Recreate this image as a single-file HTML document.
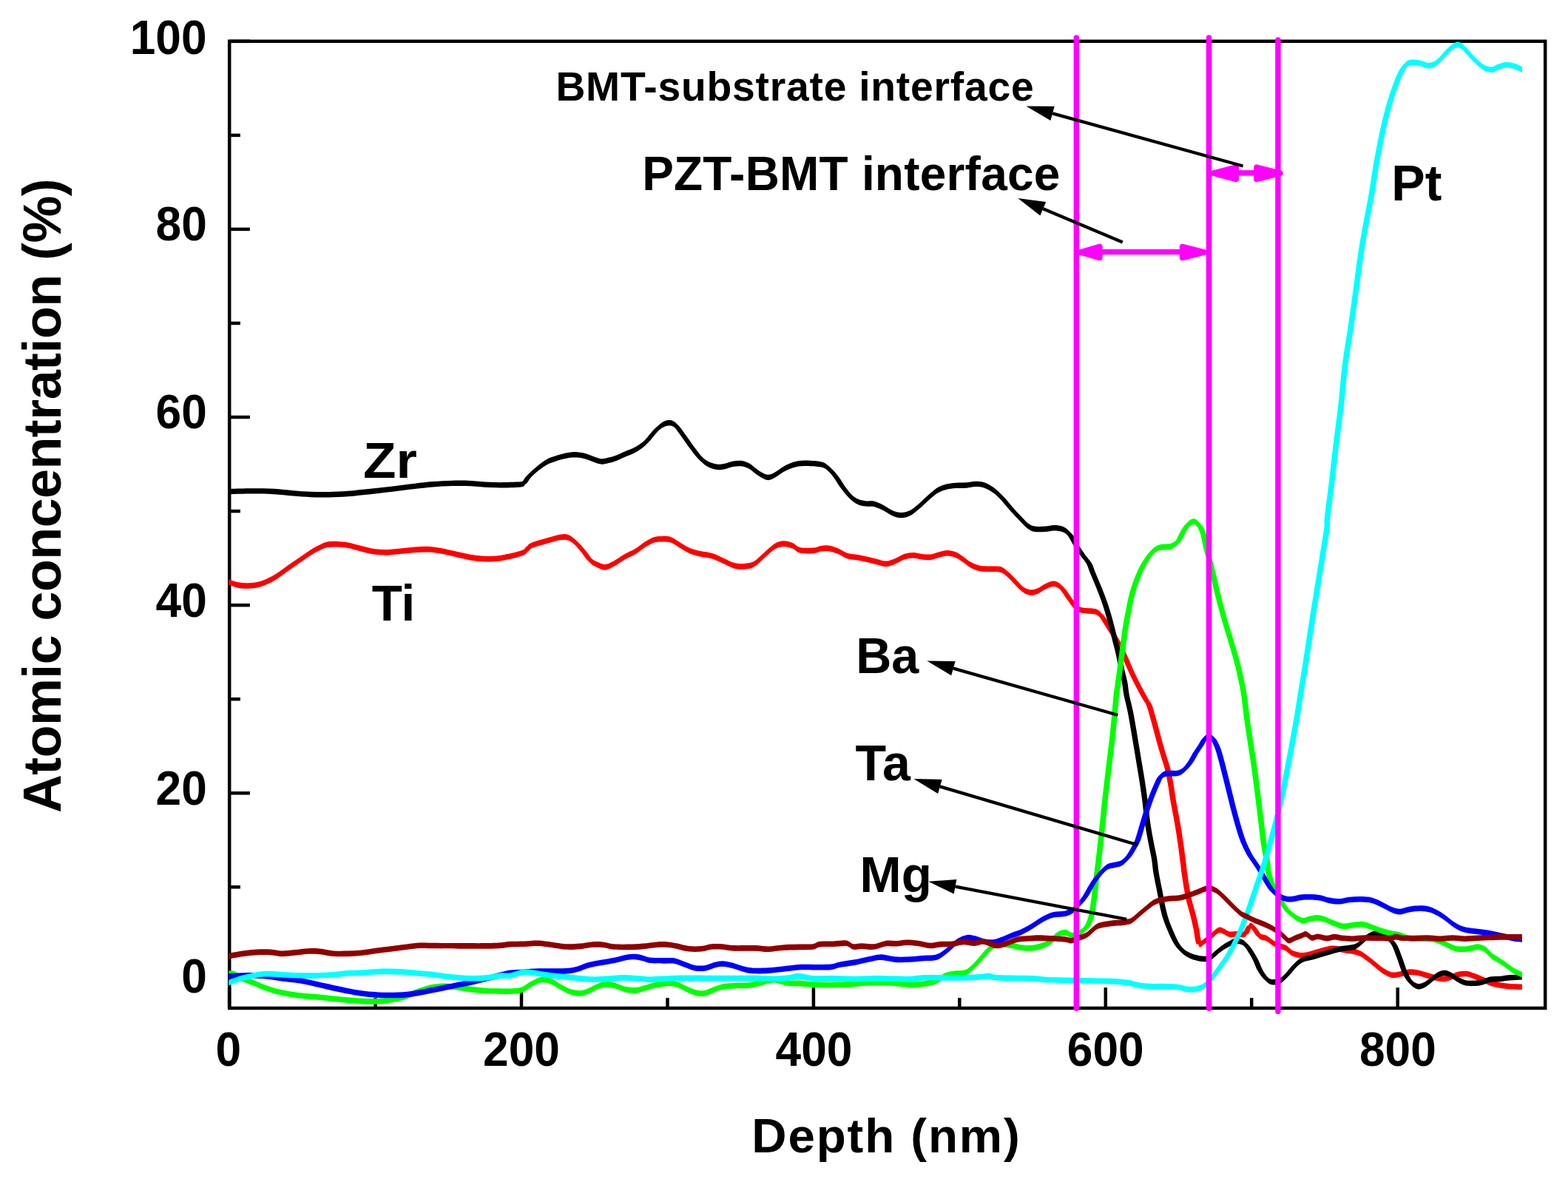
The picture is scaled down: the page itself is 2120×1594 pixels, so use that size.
<!DOCTYPE html>
<html lang="en"><head><meta charset="utf-8"><title>Atomic concentration depth profile</title>
<style>html,body{margin:0;padding:0;background:#fff}body{width:2120px;height:1594px;overflow:hidden}svg{display:block}text{font-family:"Liberation Sans",Arial,Helvetica,sans-serif;font-weight:bold;fill:#000}</style></head><body>
<svg width="2120" height="1594" viewBox="0 0 2120 1594">
<rect width="2120" height="1594" fill="#fff"/>
<g stroke="#000" stroke-width="4.5" fill="none">
<line x1="310.2" y1="1199.3" x2="324.9" y2="1199.3"/>
<line x1="310.2" y1="1072.3" x2="337.9" y2="1072.3"/>
<line x1="310.2" y1="945.2" x2="324.9" y2="945.2"/>
<line x1="310.2" y1="818.2" x2="337.9" y2="818.2"/>
<line x1="310.2" y1="691.1" x2="324.9" y2="691.1"/>
<line x1="310.2" y1="564.0" x2="337.9" y2="564.0"/>
<line x1="310.2" y1="437.0" x2="324.9" y2="437.0"/>
<line x1="310.2" y1="309.9" x2="337.9" y2="309.9"/>
<line x1="310.2" y1="182.9" x2="324.9" y2="182.9"/>
<line x1="310.2" y1="55.8" x2="337.9" y2="55.8"/>
<line x1="310.1" y1="1363.0" x2="310.1" y2="1335.2"/>
<line x1="507.6" y1="1363.0" x2="507.6" y2="1349.2"/>
<line x1="705.0" y1="1363.0" x2="705.0" y2="1335.2"/>
<line x1="902.5" y1="1363.0" x2="902.5" y2="1349.2"/>
<line x1="1099.9" y1="1363.0" x2="1099.9" y2="1335.2"/>
<line x1="1297.3" y1="1363.0" x2="1297.3" y2="1349.2"/>
<line x1="1494.8" y1="1363.0" x2="1494.8" y2="1335.2"/>
<line x1="1692.2" y1="1363.0" x2="1692.2" y2="1349.2"/>
<line x1="1889.7" y1="1363.0" x2="1889.7" y2="1335.2"/>
</g>
<rect x="310.2" y="55.8" width="1779.0" height="1307.2" fill="none" stroke="#000" stroke-width="4.5"/>
<clipPath id="plotclip"><rect x="309.2" y="55.8" width="1748.7" height="1307.2"/></clipPath>
<g clip-path="url(#plotclip)" stroke="none">
<g fill="#ff0000"><path d="M302.4,781.1C303.7,781.5 307.1,782.6 310,783.5C313,784.5 316.4,786 320.1,786.8C323.8,787.5 327.8,788.1 332.1,788.2C336.5,788.2 341.5,788.1 346.2,787.2C350.9,786.3 355.5,784.7 360.2,782.7C364.9,780.7 369.6,778.1 374.3,775.1C379,772.2 383.3,768.6 388.3,765.1C393.4,761.6 399,757.7 404.4,754C409.8,750.3 415.8,745.9 420.5,743C425.1,740 428.8,738.1 432.5,736.4C436.2,734.6 438.5,733.3 442.5,732.5C446.6,731.8 451.9,731.8 456.6,731.9C461.3,732.1 465.6,732.4 470.7,733.4C475.7,734.3 481.4,736.2 486.7,737.6C492.1,738.9 497.1,740.5 502.8,741.4C508.5,742.3 514.5,743 520.8,743C527.2,743 534.2,742 540.9,741.4C547.6,740.8 554.3,739.8 561,739.4C567.7,739 574.4,738.5 581.1,739C587.8,739.4 594.5,740.7 601.1,742C607.8,743.3 614.5,745.2 621.2,746.6C627.9,748 634.6,749.7 641.3,750.6C648,751.5 654.7,752.1 661.4,752C668.1,751.9 673.7,751.5 681.5,750C689.2,748.5 702.3,745.5 708,743C713.8,740.5 712.4,737.1 716.1,735C719.7,732.8 725.4,731.4 730.1,729.9C734.8,728.4 739.5,727.2 744.2,725.9C748.9,724.7 754.2,723 758.2,722.5C762.2,722 764.9,721.7 768.3,722.9C771.6,724.1 775,726.9 778.3,729.9C781.6,732.9 785,737 788.3,741C791.7,745 795,750.9 798.4,754C801.7,757.2 805.1,758.5 808.4,760.1C811.8,761.6 814.8,763.4 818.5,763.1C822.1,762.7 826.1,760.4 830.5,758C834.8,755.7 839.9,751.7 844.6,749C849.2,746.3 853.9,744.8 858.6,742C863.3,739.1 868.3,734.6 872.7,731.9C877,729.3 881,727.1 884.7,725.9C888.4,724.8 891.1,724.9 894.7,724.9C898.4,724.9 902.8,724.6 906.8,725.9C910.8,727.3 914.5,730.4 918.8,732.9C923.2,735.5 928.2,739 932.9,741C937.6,743 941.9,743.8 946.9,745C952,746.2 957.6,746.3 963,748C968.4,749.7 974,752.9 979.1,755C984.1,757.2 988.8,759.9 993.1,761.1C997.5,762.2 1000.8,762.4 1005.2,762.1C1009.5,761.7 1014.5,761.6 1019.2,759C1023.9,756.5 1028.6,751 1033.3,747C1038,743 1043,737.6 1047.3,735C1051.7,732.3 1055.4,731.5 1059.4,731.3C1063.4,731.2 1067.7,732.5 1071.4,734C1075.1,735.4 1076.7,738.9 1081.5,740C1086.2,741.1 1095.2,740.9 1100,740.6C1104.8,740.2 1106.7,738.5 1110,738C1113.4,737.5 1116.4,737.1 1120.1,737.6C1123.8,738.1 1127.8,739.2 1132.1,741C1136.5,742.7 1141.5,746.5 1146.2,748C1150.9,749.5 1155.5,749.2 1160.2,750C1164.9,750.9 1169.9,752 1174.3,753C1178.6,754 1182.3,755.1 1186.3,756C1190.3,757 1194.4,758.8 1198.4,758.6C1202.4,758.5 1206.4,756.6 1210.4,755C1214.4,753.4 1218.5,750.3 1222.5,749C1226.5,747.7 1230.5,747 1234.5,747C1238.5,747 1242.5,748.6 1246.6,749C1250.6,749.4 1254.6,749.9 1258.6,749.4C1262.6,748.9 1267,746.9 1270.7,746C1274.3,745.1 1277,743.9 1280.7,744C1284.4,744.1 1289.1,745.1 1292.7,746.6C1296.4,748.1 1299.4,750.8 1302.8,753C1306.1,755.3 1309.1,758.1 1312.8,760.1C1316.5,762 1320.5,763.8 1324.9,764.7C1329.2,765.6 1334.2,765.2 1338.9,765.5C1343.6,765.7 1348.9,764.8 1353,766.1C1357,767.3 1359.7,770.3 1363,773.1C1366.3,775.9 1369.7,779.8 1373,783.1C1376.4,786.5 1379.7,790.8 1383.1,793.2C1386.4,795.5 1389.8,796.9 1393.1,797.2C1396.5,797.5 1399.8,796.5 1403.2,795.2C1406.5,793.8 1409.5,790.8 1413.2,789.2C1416.9,787.6 1421.6,785.2 1425.2,785.5C1428.9,785.9 1431.7,787.6 1435.3,791.2C1438.9,794.7 1443.5,802.5 1446.8,807C1450.1,811.4 1452.5,815.6 1455.3,818C1458.1,820.4 1460.7,820.7 1463.8,821.4C1466.9,822.1 1470.8,821.9 1474,822.2C1477.1,822.6 1479.9,822.5 1482.5,823.6C1485,824.7 1487,826.4 1489.2,829C1491.5,831.6 1493.5,835.3 1496,839.2C1498.6,843.2 1502,848.6 1504.5,852.8C1507.1,857 1508.8,859.9 1511.3,864.7C1513.9,869.5 1517.5,876.9 1519.8,881.7C1522.1,886.5 1522.9,889 1524.9,893.6C1526.9,898.1 1529.2,903.5 1531.7,908.8C1534.2,914.2 1537.4,920.4 1540.2,925.8C1543,931.2 1546.4,937.1 1548.7,941.1C1550.9,945.1 1552.1,945.5 1553.8,949.8C1555.5,954.1 1557.2,960.8 1558.9,966.8C1560.6,972.7 1562.3,979.2 1564,985.4C1565.7,991.7 1567.4,998.2 1569.1,1004.1C1570.8,1010.1 1572.6,1016 1574.2,1021.1C1575.7,1026.2 1577,1029 1578.4,1034.7C1579.8,1040.4 1581.4,1048 1582.6,1055.1C1583.9,1062.1 1584.9,1070.4 1586,1077.1C1587.2,1083.9 1588.3,1089.6 1589.4,1095.8C1590.6,1102 1591.7,1107.7 1592.8,1114.5C1594,1121.3 1595.1,1128.7 1596.2,1136.6C1597.4,1144.5 1598.8,1155.4 1599.6,1162C1600.5,1168.7 1600.5,1170.2 1601.3,1176.2C1602.2,1182.2 1603.6,1191.8 1604.7,1198.3C1605.8,1204.8 1606.7,1209.3 1608.1,1215.3C1609.5,1221.2 1611.7,1227.7 1613.2,1233.9C1614.8,1240.2 1616.3,1247 1617.5,1252.6C1618.6,1258.3 1619.2,1264.5 1620,1267.9C1620.8,1271.3 1621.1,1272.9 1622.5,1273C1624,1273.1 1626.4,1270.2 1628.5,1268.7C1630.6,1267.3 1633,1266.3 1635.3,1264.5C1637.5,1262.7 1639.8,1259.5 1642.1,1257.7C1644.3,1255.9 1646.6,1253.7 1648.9,1253.5C1651.1,1253.2 1653.4,1255 1655.7,1256C1657.9,1257 1659.6,1258.9 1662.5,1259.4C1665.3,1259.9 1669.2,1258.9 1672.6,1258.9C1676,1258.9 1680.3,1260.7 1682.8,1259.4C1685.4,1258.1 1686.5,1252.9 1687.9,1250.9C1689.3,1248.9 1689.9,1247.2 1691.3,1247.5C1692.7,1247.8 1694.4,1250.2 1696.4,1252.6C1698.4,1255 1700.7,1260 1703.2,1262C1705.8,1263.9 1708.9,1263.1 1711.7,1264.5C1714.5,1265.9 1717.4,1268.7 1720.2,1270.4C1723,1272.1 1725.6,1273.4 1728.7,1274.7C1731.8,1276 1735.8,1276.4 1738.9,1278.1C1742,1279.8 1743.8,1283.2 1747.4,1284.9C1750.9,1286.5 1756.2,1287.7 1760,1287.9C1763.8,1288.2 1766.8,1287.3 1770.2,1286.6C1773.6,1285.8 1777,1284.5 1780.4,1283.5C1783.8,1282.5 1787.2,1281.5 1790.6,1280.6C1794,1279.8 1797.4,1278.8 1800.8,1278.6C1804.2,1278.4 1807.5,1279 1810.9,1279.4C1814.3,1279.9 1817.7,1280.9 1821.1,1281.5C1824.5,1282 1828.2,1282.1 1831.3,1282.8C1834.4,1283.5 1837.5,1284.7 1839.8,1285.7C1842.1,1286.8 1842.4,1287.3 1844.9,1289.1C1847.5,1291 1851.7,1294.1 1855.1,1296.8C1858.5,1299.5 1861.9,1302.7 1865.3,1305.3C1868.7,1307.8 1872.4,1310.5 1875.5,1312C1878.6,1313.6 1880.8,1314.5 1884,1314.6C1887.1,1314.7 1890.8,1313.6 1894.2,1312.9C1897.5,1312.2 1900.7,1310.6 1904.3,1310.4C1908,1310.1 1912.3,1310.5 1916.2,1311.2C1920.2,1311.9 1924.2,1313.5 1928.1,1314.6C1932.1,1315.7 1936,1317.1 1940,1318C1944,1318.8 1948.2,1319.8 1951.9,1319.7C1955.6,1319.5 1958.7,1318.2 1962.1,1317.1C1965.5,1316.1 1968.6,1314.1 1972.3,1313.4C1975.9,1312.7 1980.5,1312.4 1984.2,1312.9C1987.8,1313.4 1990.9,1315 1994.3,1316.3C1997.7,1317.6 2000.8,1319 2004.5,1320.5C2008.2,1322.1 2012.5,1324.4 2016.4,1325.6C2020.4,1326.9 2024.1,1327.5 2028.3,1328.2C2032.5,1328.9 2037.1,1329.5 2041.9,1329.9C2046.7,1330.2 2053.3,1330.3 2057.2,1330.4C2061,1330.5 2063.8,1330.6 2065.2,1330.7L2065.2,1338.3C2063.8,1338.2 2061,1338.1 2057.2,1338C2053.3,1337.9 2046.7,1337.8 2041.9,1337.5C2037.1,1337.1 2032.5,1336.5 2028.3,1335.8C2024.1,1335.1 2020.4,1334.5 2016.4,1333.2C2012.5,1332 2008.2,1329.7 2004.5,1328.1C2000.8,1326.6 1997.7,1325.2 1994.3,1323.9C1990.9,1322.6 1987.8,1321 1984.2,1320.5C1980.5,1320 1975.9,1320.3 1972.3,1321C1968.6,1321.7 1965.5,1323.7 1962.1,1324.7C1958.7,1325.8 1955.6,1327.1 1951.9,1327.3C1948.2,1327.4 1944,1326.4 1940,1325.6C1936,1324.7 1932.1,1323.3 1928.1,1322.2C1924.2,1321.1 1920.2,1319.5 1916.2,1318.8C1912.3,1318.1 1908,1317.7 1904.3,1318C1900.7,1318.2 1897.5,1319.8 1894.2,1320.5C1890.8,1321.2 1887.1,1322.3 1884,1322.2C1880.8,1322.1 1878.6,1321.2 1875.5,1319.6C1872.4,1318.1 1868.7,1315.4 1865.3,1312.9C1861.9,1310.3 1858.5,1307.1 1855.1,1304.4C1851.7,1301.7 1847.5,1298.6 1844.9,1296.7C1842.4,1294.9 1842.1,1294.4 1839.8,1293.3C1837.5,1292.3 1834.4,1291.1 1831.3,1290.4C1828.2,1289.7 1824.5,1289.6 1821.1,1289.1C1817.7,1288.5 1814.3,1287.5 1810.9,1287C1807.5,1286.6 1804.2,1286 1800.8,1286.2C1797.4,1286.4 1794,1287.4 1790.6,1288.2C1787.2,1289.1 1783.8,1290.1 1780.4,1291.1C1777,1292.1 1773.6,1293.4 1770.2,1294.2C1766.8,1294.9 1763.8,1295.8 1760,1295.5C1756.2,1295.3 1750.9,1294.1 1747.4,1292.5C1743.8,1290.8 1742,1287.4 1738.9,1285.7C1735.8,1284 1731.8,1283.6 1728.7,1282.3C1725.6,1281 1723,1279.7 1720.2,1278C1717.4,1276.3 1714.5,1273.5 1711.7,1272.1C1708.9,1270.7 1705.8,1271.5 1703.2,1269.6C1700.7,1267.6 1698.4,1262.6 1696.4,1260.2C1694.4,1257.8 1692.7,1255.4 1691.3,1255.1C1689.9,1254.8 1689.3,1256.5 1687.9,1258.5C1686.5,1260.5 1685.4,1265.7 1682.8,1267C1680.3,1268.3 1676,1266.5 1672.6,1266.5C1669.2,1266.5 1665.3,1267.5 1662.5,1267C1659.6,1266.5 1657.9,1264.6 1655.7,1263.6C1653.4,1262.6 1651.1,1260.8 1648.9,1261.1C1646.6,1261.3 1644.3,1263.5 1642.1,1265.3C1639.8,1267.1 1637.5,1270.3 1635.3,1272.1C1633,1273.9 1630.6,1274.9 1628.5,1276.3C1626.4,1277.8 1624,1280.7 1622.5,1280.6C1621.1,1280.5 1620.8,1278.9 1620,1275.5C1619.2,1272.1 1618.6,1265.9 1617.5,1260.2C1616.3,1254.6 1614.8,1247.8 1613.2,1241.5C1611.7,1235.3 1609.5,1228.8 1608.1,1222.9C1606.7,1216.9 1605.8,1212.4 1604.7,1205.9C1603.6,1199.4 1602.2,1189.8 1601.3,1183.8C1600.5,1177.8 1600.5,1176.3 1599.6,1169.6C1598.8,1163 1597.4,1152.1 1596.2,1144.2C1595.1,1136.3 1594,1128.9 1592.8,1122.1C1591.7,1115.3 1590.6,1109.6 1589.4,1103.4C1588.3,1097.2 1587.2,1091.5 1586,1084.7C1584.9,1078 1583.9,1069.7 1582.6,1062.7C1581.4,1055.6 1579.8,1048 1578.4,1042.3C1577,1036.6 1575.7,1033.8 1574.2,1028.7C1572.6,1023.6 1570.8,1017.7 1569.1,1011.7C1567.4,1005.8 1565.7,999.3 1564,993C1562.3,986.8 1560.6,980.3 1558.9,974.4C1557.2,968.4 1555.5,961.7 1553.8,957.4C1552.1,953.1 1550.9,952.7 1548.7,948.7C1546.4,944.7 1543,938.8 1540.2,933.4C1537.4,928 1534.2,921.8 1531.7,916.4C1529.2,911.1 1526.9,905.7 1524.9,901.2C1522.9,896.6 1522.1,894.1 1519.8,889.3C1517.5,884.5 1513.9,877.1 1511.3,872.3C1508.8,867.5 1507.1,864.6 1504.5,860.4C1502,856.2 1498.6,850.8 1496,846.8C1493.5,842.9 1491.5,839.2 1489.2,836.6C1487,834 1485,832.3 1482.5,831.2C1479.9,830.1 1477.1,830.2 1474,829.8C1470.8,829.5 1466.9,829.7 1463.8,829C1460.7,828.3 1458.1,828 1455.3,825.6C1452.5,823.2 1450.1,819 1446.8,814.6C1443.5,810.1 1438.9,802.3 1435.3,798.8C1431.7,795.2 1428.9,793.5 1425.2,793.1C1421.6,792.8 1416.9,795.2 1413.2,796.8C1409.5,798.4 1406.5,801.4 1403.2,802.8C1399.8,804.1 1396.5,805.1 1393.1,804.8C1389.8,804.5 1386.4,803.1 1383.1,800.8C1379.7,798.4 1376.4,794.1 1373,790.7C1369.7,787.4 1366.3,783.5 1363,780.7C1359.7,777.9 1357,774.9 1353,773.7C1348.9,772.4 1343.6,773.3 1338.9,773.1C1334.2,772.8 1329.2,773.2 1324.9,772.3C1320.5,771.4 1316.5,769.6 1312.8,767.7C1309.1,765.7 1306.1,762.9 1302.8,760.6C1299.4,758.4 1296.4,755.7 1292.7,754.2C1289.1,752.7 1284.4,751.7 1280.7,751.6C1277,751.5 1274.3,752.7 1270.7,753.6C1267,754.5 1262.6,756.5 1258.6,757C1254.6,757.5 1250.6,757 1246.6,756.6C1242.5,756.2 1238.5,754.6 1234.5,754.6C1230.5,754.6 1226.5,755.3 1222.5,756.6C1218.5,757.9 1214.4,761 1210.4,762.6C1206.4,764.2 1202.4,766.1 1198.4,766.2C1194.4,766.4 1190.3,764.6 1186.3,763.6C1182.3,762.7 1178.6,761.6 1174.3,760.6C1169.9,759.6 1164.9,758.5 1160.2,757.6C1155.5,756.8 1150.9,757.1 1146.2,755.6C1141.5,754.1 1136.5,750.3 1132.1,748.6C1127.8,746.8 1123.8,745.7 1120.1,745.2C1116.4,744.7 1113.4,745.1 1110,745.6C1106.7,746.1 1104.8,747.8 1100,748.2C1095.2,748.5 1086.2,748.7 1081.5,747.6C1076.7,746.5 1075.1,743 1071.4,741.6C1067.7,740.1 1063.4,738.8 1059.4,738.9C1055.4,739.1 1051.7,739.9 1047.3,742.6C1043,745.2 1038,750.6 1033.3,754.6C1028.6,758.6 1023.9,764.1 1019.2,766.6C1014.5,769.2 1009.5,769.3 1005.2,769.7C1000.8,770 997.5,769.8 993.1,768.7C988.8,767.5 984.1,764.8 979.1,762.6C974,760.5 968.4,757.3 963,755.6C957.6,753.9 952,753.8 946.9,752.6C941.9,751.4 937.6,750.6 932.9,748.6C928.2,746.6 923.2,743.1 918.8,740.5C914.5,738 910.8,734.9 906.8,733.5C902.8,732.2 898.4,732.5 894.7,732.5C891.1,732.5 888.4,732.4 884.7,733.5C881,734.7 877,736.9 872.7,739.5C868.3,742.2 863.3,746.7 858.6,749.6C853.9,752.4 849.2,753.9 844.6,756.6C839.9,759.3 834.8,763.3 830.5,765.6C826.1,768 822.1,770.3 818.5,770.7C814.8,771 811.8,769.2 808.4,767.7C805.1,766.1 801.7,764.8 798.4,761.6C795,758.5 791.7,752.6 788.3,748.6C785,744.6 781.6,740.5 778.3,737.5C775,734.5 771.6,731.7 768.3,730.5C764.9,729.3 762.2,729.6 758.2,730.1C754.2,730.6 748.9,732.3 744.2,733.5C739.5,734.8 734.8,736 730.1,737.5C725.4,739 719.7,740.4 716.1,742.6C712.4,744.7 713.8,748.1 708,750.6C702.3,753.1 689.2,756.1 681.5,757.6C673.7,759.1 668.1,759.5 661.4,759.6C654.7,759.7 648,759.1 641.3,758.2C634.6,757.3 627.9,755.6 621.2,754.2C614.5,752.8 607.8,750.9 601.1,749.6C594.5,748.3 587.8,747 581.1,746.6C574.4,746.1 567.7,746.6 561,747C554.3,747.4 547.6,748.4 540.9,749C534.2,749.6 527.2,750.6 520.8,750.6C514.5,750.6 508.5,749.9 502.8,749C497.1,748.1 492.1,746.5 486.7,745.2C481.4,743.8 475.7,741.9 470.7,741C465.6,740 461.3,739.7 456.6,739.5C451.9,739.4 446.6,739.4 442.5,740.1C438.5,740.9 436.2,742.2 432.5,744C428.8,745.7 425.1,747.6 420.5,750.6C415.8,753.5 409.8,757.9 404.4,761.6C399,765.3 393.4,769.2 388.3,772.7C383.3,776.2 379,779.8 374.3,782.7C369.6,785.7 364.9,788.3 360.2,790.3C355.5,792.3 350.9,793.9 346.2,794.8C341.5,795.7 336.5,795.8 332.1,795.8C327.8,795.7 323.8,795.1 320.1,794.4C316.4,793.6 313,792.1 310,791.1C307.1,790.2 303.7,789.1 302.4,788.7Z"/><path d="M298.6,784.9C299.9,785.3 303.3,786.4 306.2,787.3C309.2,788.3 312.6,789.8 316.3,790.6C320,791.3 324,791.9 328.3,792C332.7,792 337.7,791.9 342.4,791C347.1,790.1 351.7,788.5 356.4,786.5C361.1,784.5 365.8,781.9 370.5,778.9C375.2,776 379.5,772.4 384.5,768.9C389.6,765.4 395.2,761.5 400.6,757.8C406,754.1 412,749.7 416.7,746.8C421.3,743.8 425,741.9 428.7,740.2C432.4,738.4 434.7,737.1 438.7,736.3C442.8,735.6 448.1,735.6 452.8,735.7C457.5,735.9 461.8,736.2 466.9,737.2C471.9,738.1 477.6,740 482.9,741.4C488.3,742.7 493.3,744.3 499,745.2C504.7,746.1 510.7,746.8 517,746.8C523.4,746.8 530.4,745.8 537.1,745.2C543.8,744.6 550.5,743.6 557.2,743.2C563.9,742.8 570.6,742.3 577.3,742.8C584,743.2 590.7,744.5 597.3,745.8C604,747.1 610.7,749 617.4,750.4C624.1,751.8 630.8,753.5 637.5,754.4C644.2,755.3 650.9,755.9 657.6,755.8C664.3,755.7 669.9,755.3 677.7,753.8C685.4,752.3 698.5,749.3 704.2,746.8C710,744.3 708.6,740.9 712.3,738.8C715.9,736.6 721.6,735.2 726.3,733.7C731,732.2 735.7,731 740.4,729.7C745.1,728.5 750.4,726.8 754.4,726.3C758.4,725.8 761.1,725.5 764.5,726.7C767.8,727.9 771.2,730.7 774.5,733.7C777.8,736.7 781.2,740.8 784.5,744.8C787.9,748.8 791.2,754.7 794.6,757.8C797.9,761 801.3,762.3 804.6,763.9C808,765.4 811,767.2 814.7,766.9C818.3,766.5 822.3,764.2 826.7,761.8C831,759.5 836.1,755.5 840.8,752.8C845.4,750.1 850.1,748.6 854.8,745.8C859.5,742.9 864.5,738.4 868.9,735.7C873.2,733.1 877.2,730.9 880.9,729.7C884.6,728.6 887.3,728.7 890.9,728.7C894.6,728.7 899,728.4 903,729.7C907,731.1 910.7,734.2 915,736.7C919.4,739.3 924.4,742.8 929.1,744.8C933.8,746.8 938.1,747.6 943.1,748.8C948.2,750 953.8,750.1 959.2,751.8C964.6,753.5 970.2,756.7 975.3,758.8C980.3,761 985,763.7 989.3,764.9C993.7,766 997,766.2 1001.4,765.9C1005.7,765.5 1010.7,765.4 1015.4,762.8C1020.1,760.3 1024.8,754.8 1029.5,750.8C1034.2,746.8 1039.2,741.4 1043.5,738.8C1047.9,736.1 1051.6,735.3 1055.6,735.1C1059.6,735 1063.9,736.3 1067.6,737.8C1071.3,739.2 1072.9,742.7 1077.7,743.8C1082.4,744.9 1091.4,744.7 1096.2,744.4C1101,744 1102.9,742.3 1106.2,741.8C1109.6,741.3 1112.6,740.9 1116.3,741.4C1120,741.9 1124,743 1128.3,744.8C1132.7,746.5 1137.7,750.3 1142.4,751.8C1147.1,753.3 1151.7,753 1156.4,753.8C1161.1,754.7 1166.1,755.8 1170.5,756.8C1174.8,757.8 1178.5,758.9 1182.5,759.8C1186.5,760.8 1190.6,762.6 1194.6,762.4C1198.6,762.3 1202.6,760.4 1206.6,758.8C1210.6,757.2 1214.7,754.1 1218.7,752.8C1222.7,751.5 1226.7,750.8 1230.7,750.8C1234.7,750.8 1238.7,752.4 1242.8,752.8C1246.8,753.2 1250.8,753.7 1254.8,753.2C1258.8,752.7 1263.2,750.7 1266.9,749.8C1270.5,748.9 1273.2,747.7 1276.9,747.8C1280.6,747.9 1285.3,748.9 1288.9,750.4C1292.6,751.9 1295.6,754.6 1299,756.8C1302.3,759.1 1305.3,761.9 1309,763.9C1312.7,765.8 1316.7,767.6 1321.1,768.5C1325.4,769.4 1330.4,769 1335.1,769.3C1339.8,769.5 1345.1,768.6 1349.2,769.9C1353.2,771.1 1355.9,774.1 1359.2,776.9C1362.5,779.7 1365.9,783.6 1369.2,786.9C1372.6,790.3 1375.9,794.6 1379.3,797C1382.6,799.3 1386,800.7 1389.3,801C1392.7,801.3 1396,800.3 1399.4,799C1402.7,797.6 1405.7,794.6 1409.4,793C1413.1,791.4 1417.8,789 1421.4,789.3C1425.1,789.7 1427.9,791.4 1431.5,795C1435.1,798.5 1439.7,806.3 1443,810.8C1446.3,815.2 1448.7,819.4 1451.5,821.8C1454.3,824.2 1456.9,824.5 1460,825.2C1463.1,825.9 1467,825.7 1470.2,826C1473.3,826.4 1476.1,826.3 1478.7,827.4C1481.2,828.5 1483.2,830.2 1485.4,832.8C1487.7,835.4 1489.7,839.1 1492.2,843C1494.8,847 1498.2,852.4 1500.7,856.6C1503.3,860.8 1505,863.7 1507.5,868.5C1510.1,873.3 1513.7,880.7 1516,885.5C1518.3,890.3 1519.1,892.8 1521.1,897.4C1523.1,901.9 1525.4,907.3 1527.9,912.6C1530.4,918 1533.6,924.2 1536.4,929.6C1539.2,935 1542.6,940.9 1544.9,944.9C1547.1,948.9 1548.3,949.3 1550,953.6C1551.7,957.9 1553.4,964.6 1555.1,970.6C1556.8,976.5 1558.5,983 1560.2,989.2C1561.9,995.5 1563.6,1002 1565.3,1007.9C1567,1013.9 1568.8,1019.8 1570.4,1024.9C1571.9,1030 1573.2,1032.8 1574.6,1038.5C1576,1044.2 1577.6,1051.8 1578.8,1058.9C1580.1,1065.9 1581.1,1074.2 1582.2,1080.9C1583.4,1087.7 1584.5,1093.4 1585.6,1099.6C1586.8,1105.8 1587.9,1111.5 1589,1118.3C1590.2,1125.1 1591.3,1132.5 1592.4,1140.4C1593.6,1148.3 1595,1159.2 1595.8,1165.8C1596.7,1172.5 1596.7,1174 1597.5,1180C1598.4,1186 1599.8,1195.6 1600.9,1202.1C1602,1208.6 1602.9,1213.1 1604.3,1219.1C1605.7,1225 1607.9,1231.5 1609.4,1237.7C1611,1244 1612.5,1250.8 1613.7,1256.4C1614.8,1262.1 1615.4,1268.3 1616.2,1271.7C1617,1275.1 1617.3,1276.7 1618.7,1276.8C1620.2,1276.9 1622.6,1274 1624.7,1272.5C1626.8,1271.1 1629.2,1270.1 1631.5,1268.3C1633.7,1266.5 1636,1263.3 1638.3,1261.5C1640.5,1259.7 1642.8,1257.5 1645.1,1257.3C1647.3,1257 1649.6,1258.8 1651.9,1259.8C1654.1,1260.8 1655.8,1262.7 1658.7,1263.2C1661.5,1263.7 1665.4,1262.7 1668.8,1262.7C1672.2,1262.7 1676.5,1264.5 1679,1263.2C1681.6,1261.9 1682.7,1256.7 1684.1,1254.7C1685.5,1252.7 1686.1,1251 1687.5,1251.3C1688.9,1251.6 1690.6,1254 1692.6,1256.4C1694.6,1258.8 1696.9,1263.8 1699.4,1265.8C1702,1267.7 1705.1,1266.9 1707.9,1268.3C1710.7,1269.7 1713.6,1272.5 1716.4,1274.2C1719.2,1275.9 1721.8,1277.2 1724.9,1278.5C1728,1279.8 1732,1280.2 1735.1,1281.9C1738.2,1283.6 1740,1287 1743.6,1288.7C1747.1,1290.3 1752.4,1291.5 1756.2,1291.7C1760,1292 1763,1291.1 1766.4,1290.4C1769.8,1289.6 1773.2,1288.3 1776.6,1287.3C1780,1286.3 1783.4,1285.3 1786.8,1284.4C1790.2,1283.6 1793.6,1282.6 1797,1282.4C1800.4,1282.2 1803.7,1282.8 1807.1,1283.2C1810.5,1283.7 1813.9,1284.7 1817.3,1285.3C1820.7,1285.8 1824.4,1285.9 1827.5,1286.6C1830.6,1287.3 1833.7,1288.5 1836,1289.5C1838.3,1290.6 1838.6,1291.1 1841.1,1292.9C1843.7,1294.8 1847.9,1297.9 1851.3,1300.6C1854.7,1303.3 1858.1,1306.5 1861.5,1309.1C1864.9,1311.6 1868.6,1314.3 1871.7,1315.8C1874.8,1317.4 1877,1318.3 1880.2,1318.4C1883.3,1318.5 1887,1317.4 1890.4,1316.7C1893.7,1316 1896.9,1314.4 1900.5,1314.2C1904.2,1313.9 1908.5,1314.3 1912.4,1315C1916.4,1315.7 1920.4,1317.3 1924.3,1318.4C1928.3,1319.5 1932.2,1320.9 1936.2,1321.8C1940.2,1322.6 1944.4,1323.6 1948.1,1323.5C1951.8,1323.3 1954.9,1322 1958.3,1320.9C1961.7,1319.9 1964.8,1317.9 1968.5,1317.2C1972.1,1316.5 1976.7,1316.2 1980.4,1316.7C1984,1317.2 1987.1,1318.8 1990.5,1320.1C1993.9,1321.4 1997,1322.8 2000.7,1324.3C2004.4,1325.9 2008.7,1328.2 2012.6,1329.4C2016.6,1330.7 2020.3,1331.3 2024.5,1332C2028.7,1332.7 2033.3,1333.3 2038.1,1333.7C2042.9,1334 2049.5,1334.1 2053.4,1334.2C2057.2,1334.3 2060,1334.4 2061.4,1334.5L2069,1334.5C2067.6,1334.4 2064.8,1334.3 2061,1334.2C2057.1,1334.1 2050.5,1334 2045.7,1333.7C2040.9,1333.3 2036.3,1332.7 2032.1,1332C2027.9,1331.3 2024.2,1330.7 2020.2,1329.4C2016.3,1328.2 2012,1325.9 2008.3,1324.3C2004.6,1322.8 2001.5,1321.4 1998.1,1320.1C1994.7,1318.8 1991.6,1317.2 1988,1316.7C1984.3,1316.2 1979.7,1316.5 1976.1,1317.2C1972.4,1317.9 1969.3,1319.9 1965.9,1320.9C1962.5,1322 1959.4,1323.3 1955.7,1323.5C1952,1323.6 1947.8,1322.6 1943.8,1321.8C1939.8,1320.9 1935.9,1319.5 1931.9,1318.4C1928,1317.3 1924,1315.7 1920,1315C1916.1,1314.3 1911.8,1313.9 1908.1,1314.2C1904.5,1314.4 1901.3,1316 1898,1316.7C1894.6,1317.4 1890.9,1318.5 1887.8,1318.4C1884.6,1318.3 1882.4,1317.4 1879.3,1315.8C1876.2,1314.3 1872.5,1311.6 1869.1,1309.1C1865.7,1306.5 1862.3,1303.3 1858.9,1300.6C1855.5,1297.9 1851.3,1294.8 1848.7,1292.9C1846.2,1291.1 1845.9,1290.6 1843.6,1289.5C1841.3,1288.5 1838.2,1287.3 1835.1,1286.6C1832,1285.9 1828.3,1285.8 1824.9,1285.3C1821.5,1284.7 1818.1,1283.7 1814.7,1283.2C1811.3,1282.8 1808,1282.2 1804.6,1282.4C1801.2,1282.6 1797.8,1283.6 1794.4,1284.4C1791,1285.3 1787.6,1286.3 1784.2,1287.3C1780.8,1288.3 1777.4,1289.6 1774,1290.4C1770.6,1291.1 1767.6,1292 1763.8,1291.7C1760,1291.5 1754.7,1290.3 1751.2,1288.7C1747.6,1287 1745.8,1283.6 1742.7,1281.9C1739.6,1280.2 1735.6,1279.8 1732.5,1278.5C1729.4,1277.2 1726.8,1275.9 1724,1274.2C1721.2,1272.5 1718.3,1269.7 1715.5,1268.3C1712.7,1266.9 1709.6,1267.7 1707,1265.8C1704.5,1263.8 1702.2,1258.8 1700.2,1256.4C1698.2,1254 1696.5,1251.6 1695.1,1251.3C1693.7,1251 1693.1,1252.7 1691.7,1254.7C1690.3,1256.7 1689.2,1261.9 1686.6,1263.2C1684.1,1264.5 1679.8,1262.7 1676.4,1262.7C1673,1262.7 1669.1,1263.7 1666.3,1263.2C1663.4,1262.7 1661.7,1260.8 1659.5,1259.8C1657.2,1258.8 1654.9,1257 1652.7,1257.3C1650.4,1257.5 1648.1,1259.7 1645.9,1261.5C1643.6,1263.3 1641.3,1266.5 1639.1,1268.3C1636.8,1270.1 1634.4,1271.1 1632.3,1272.5C1630.2,1274 1627.8,1276.9 1626.3,1276.8C1624.9,1276.7 1624.6,1275.1 1623.8,1271.7C1623,1268.3 1622.4,1262.1 1621.3,1256.4C1620.1,1250.8 1618.6,1244 1617,1237.7C1615.5,1231.5 1613.3,1225 1611.9,1219.1C1610.5,1213.1 1609.6,1208.6 1608.5,1202.1C1607.4,1195.6 1606,1186 1605.1,1180C1604.3,1174 1604.3,1172.5 1603.4,1165.8C1602.6,1159.2 1601.2,1148.3 1600,1140.4C1598.9,1132.5 1597.8,1125.1 1596.6,1118.3C1595.5,1111.5 1594.4,1105.8 1593.2,1099.6C1592.1,1093.4 1591,1087.7 1589.8,1080.9C1588.7,1074.2 1587.7,1065.9 1586.4,1058.9C1585.2,1051.8 1583.6,1044.2 1582.2,1038.5C1580.8,1032.8 1579.5,1030 1578,1024.9C1576.4,1019.8 1574.6,1013.9 1572.9,1007.9C1571.2,1002 1569.5,995.5 1567.8,989.2C1566.1,983 1564.4,976.5 1562.7,970.6C1561,964.6 1559.3,957.9 1557.6,953.6C1555.9,949.3 1554.7,948.9 1552.5,944.9C1550.2,940.9 1546.8,935 1544,929.6C1541.2,924.2 1538,918 1535.5,912.6C1533,907.3 1530.7,901.9 1528.7,897.4C1526.7,892.8 1525.9,890.3 1523.6,885.5C1521.3,880.7 1517.7,873.3 1515.1,868.5C1512.6,863.7 1510.9,860.8 1508.3,856.6C1505.8,852.4 1502.4,847 1499.8,843C1497.3,839.1 1495.3,835.4 1493,832.8C1490.8,830.2 1488.8,828.5 1486.3,827.4C1483.7,826.3 1480.9,826.4 1477.8,826C1474.6,825.7 1470.7,825.9 1467.6,825.2C1464.5,824.5 1461.9,824.2 1459.1,821.8C1456.3,819.4 1453.9,815.2 1450.6,810.8C1447.3,806.3 1442.7,798.5 1439.1,795C1435.5,791.4 1432.7,789.7 1429,789.3C1425.4,789 1420.7,791.4 1417,793C1413.3,794.6 1410.3,797.6 1407,799C1403.6,800.3 1400.3,801.3 1396.9,801C1393.6,800.7 1390.2,799.3 1386.9,797C1383.5,794.6 1380.2,790.3 1376.8,786.9C1373.5,783.6 1370.1,779.7 1366.8,776.9C1363.5,774.1 1360.8,771.1 1356.8,769.9C1352.7,768.6 1347.4,769.5 1342.7,769.3C1338,769 1333,769.4 1328.7,768.5C1324.3,767.6 1320.3,765.8 1316.6,763.9C1312.9,761.9 1309.9,759.1 1306.6,756.8C1303.2,754.6 1300.2,751.9 1296.5,750.4C1292.9,748.9 1288.2,747.9 1284.5,747.8C1280.8,747.7 1278.1,748.9 1274.5,749.8C1270.8,750.7 1266.4,752.7 1262.4,753.2C1258.4,753.7 1254.4,753.2 1250.4,752.8C1246.3,752.4 1242.3,750.8 1238.3,750.8C1234.3,750.8 1230.3,751.5 1226.3,752.8C1222.3,754.1 1218.2,757.2 1214.2,758.8C1210.2,760.4 1206.2,762.3 1202.2,762.4C1198.2,762.6 1194.1,760.8 1190.1,759.8C1186.1,758.9 1182.4,757.8 1178.1,756.8C1173.7,755.8 1168.7,754.7 1164,753.8C1159.3,753 1154.7,753.3 1150,751.8C1145.3,750.3 1140.3,746.5 1135.9,744.8C1131.6,743 1127.6,741.9 1123.9,741.4C1120.2,740.9 1117.2,741.3 1113.8,741.8C1110.5,742.3 1108.6,744 1103.8,744.4C1099,744.7 1090,744.9 1085.3,743.8C1080.5,742.7 1078.9,739.2 1075.2,737.8C1071.5,736.3 1067.2,735 1063.2,735.1C1059.2,735.3 1055.5,736.1 1051.1,738.8C1046.8,741.4 1041.8,746.8 1037.1,750.8C1032.4,754.8 1027.7,760.3 1023,762.8C1018.3,765.4 1013.3,765.5 1009,765.9C1004.6,766.2 1001.3,766 996.9,764.9C992.6,763.7 987.9,761 982.9,758.8C977.8,756.7 972.2,753.5 966.8,751.8C961.4,750.1 955.8,750 950.7,748.8C945.7,747.6 941.4,746.8 936.7,744.8C932,742.8 927,739.3 922.6,736.7C918.3,734.2 914.6,731.1 910.6,729.7C906.6,728.4 902.2,728.7 898.5,728.7C894.9,728.7 892.2,728.6 888.5,729.7C884.8,730.9 880.8,733.1 876.5,735.7C872.1,738.4 867.1,742.9 862.4,745.8C857.7,748.6 853,750.1 848.4,752.8C843.7,755.5 838.6,759.5 834.3,761.8C829.9,764.2 825.9,766.5 822.3,766.9C818.6,767.2 815.6,765.4 812.2,763.9C808.9,762.3 805.5,761 802.2,757.8C798.8,754.7 795.5,748.8 792.1,744.8C788.8,740.8 785.4,736.7 782.1,733.7C778.8,730.7 775.4,727.9 772.1,726.7C768.7,725.5 766,725.8 762,726.3C758,726.8 752.7,728.5 748,729.7C743.3,731 738.6,732.2 733.9,733.7C729.2,735.2 723.5,736.6 719.9,738.8C716.2,740.9 717.6,744.3 711.8,746.8C706.1,749.3 693,752.3 685.3,753.8C677.5,755.3 671.9,755.7 665.2,755.8C658.5,755.9 651.8,755.3 645.1,754.4C638.4,753.5 631.7,751.8 625,750.4C618.3,749 611.6,747.1 604.9,745.8C598.3,744.5 591.6,743.2 584.9,742.8C578.2,742.3 571.5,742.8 564.8,743.2C558.1,743.6 551.4,744.6 544.7,745.2C538,745.8 531,746.8 524.6,746.8C518.3,746.8 512.3,746.1 506.6,745.2C500.9,744.3 495.9,742.7 490.5,741.4C485.2,740 479.5,738.1 474.5,737.2C469.4,736.2 465.1,735.9 460.4,735.7C455.7,735.6 450.4,735.6 446.3,736.3C442.3,737.1 440,738.4 436.3,740.2C432.6,741.9 428.9,743.8 424.3,746.8C419.6,749.7 413.6,754.1 408.2,757.8C402.8,761.5 397.2,765.4 392.1,768.9C387.1,772.4 382.8,776 378.1,778.9C373.4,781.9 368.7,784.5 364,786.5C359.3,788.5 354.7,790.1 350,791C345.3,791.9 340.3,792 335.9,792C331.6,791.9 327.6,791.3 323.9,790.6C320.2,789.8 316.8,788.3 313.8,787.3C310.9,786.4 307.5,785.3 306.2,784.9Z"/></g>
<g fill="#000000"><path d="M304,660.9C305.4,660.9 306,660.9 312,660.8C318.1,660.6 330.4,660.2 340.2,660.2C349.9,660.2 360.9,660.3 370.3,660.8C379.6,661.3 388,662.5 396.4,663.2C404.7,663.9 412.4,664.5 420.5,664.8C428.5,665.1 436.2,665.2 444.6,665C452.9,664.8 461.3,664.5 470.7,663.8C480,663.1 490.7,661.8 500.8,660.8C510.8,659.7 520.8,658.5 530.9,657.4C540.9,656.2 552,654.8 561,653.7C570,652.7 576.7,651.8 585.1,651.1C593.5,650.5 602.5,649.9 611.2,649.7C619.9,649.5 628.9,649.6 637.3,649.9C645.7,650.3 654,651.4 661.4,651.7C668.7,652.1 675.4,652.2 681.5,652.1C687.5,652.1 693.7,651.8 697.7,651.6C701.7,651.4 703.6,651.3 705.5,650.9C707.4,650.5 707.3,650.9 708.8,649.3C710.3,647.7 712.4,643.7 714.3,641.4C716.2,639.1 718.1,637.5 720.4,635.4C722.7,633.3 725.4,630.9 727.9,628.9C730.4,626.9 733,624.9 735.5,623.3C738,621.7 740.5,620.2 743,619.1C745.5,618 748.1,617.3 750.6,616.5C753.1,615.7 755.6,614.9 758.1,614.2C760.6,613.5 763.2,612.8 765.7,612.3C768.2,611.8 770.7,611.4 773.2,611.2C775.7,611 778.3,611 780.8,611.2C783.3,611.4 785.8,611.7 788.3,612.3C790.8,612.9 793.3,613.7 795.8,614.6C798.3,615.5 800.9,616.7 803.4,617.6C805.9,618.5 808.7,619.5 810.9,619.9C813.1,620.3 813.2,620.6 816.4,620C819.7,619.5 825.8,618.2 830.5,616.6C835.2,615 839.9,612.6 844.6,610.6C849.2,608.6 853.9,607.2 858.6,604.6C863.3,601.9 868.3,598.5 872.7,594.5C877,590.5 881,584.3 884.7,580.5C888.4,576.6 891.6,573.5 894.7,571.4C897.9,569.4 900.8,568.1 903.8,568C906.8,567.9 909.6,568.3 912.8,570.8C916,573.4 919.2,578.5 922.8,583.5C926.5,588.4 930.9,595.2 934.9,600.5C938.9,605.9 943.3,611.8 946.9,615.6C950.6,619.5 953.3,621.6 957,623.6C960.7,625.6 965.3,627.1 969,627.6C972.7,628.2 975.4,627.7 979.1,627C982.7,626.4 987.1,624.3 991.1,623.6C995.1,623 999.5,622.5 1003.2,623C1006.8,623.5 1009.5,624.5 1013.2,626.6C1016.9,628.8 1021.2,633.2 1025.2,635.7C1029.3,638.2 1033.6,641.2 1037.3,641.7C1041,642.2 1043.6,640.5 1047.3,638.7C1051,636.8 1055,633 1059.4,630.7C1063.7,628.3 1068.7,626 1073.4,624.6C1078.1,623.3 1081.4,622.7 1087.5,622.6C1093.6,622.6 1104.6,623.1 1110,624.2C1115.5,625.4 1116.7,626.9 1120.1,629.7C1123.4,632.4 1126.8,636.3 1130.1,640.7C1133.5,645 1136.8,651.2 1140.2,655.8C1143.5,660.3 1146.8,664.6 1150.2,667.8C1153.5,671 1156.9,673.3 1160.2,674.8C1163.6,676.4 1166.6,676.7 1170.3,677.2C1173.9,677.7 1178.3,676.9 1182.3,677.8C1186.3,678.8 1190.3,680.9 1194.4,682.9C1198.4,684.9 1202.4,688.2 1206.4,689.9C1210.4,691.6 1214.4,692.9 1218.5,692.9C1222.5,692.9 1226.5,691.9 1230.5,689.9C1234.5,687.9 1238.5,684.2 1242.5,680.9C1246.6,677.5 1250.6,673.3 1254.6,669.8C1258.6,666.3 1262.6,662.3 1266.6,659.8C1270.7,657.3 1274.3,655.9 1278.7,654.8C1283,653.6 1288,653.1 1292.7,652.7C1297.4,652.3 1302.4,652.7 1306.8,652.3C1311.1,652 1314.8,650.7 1318.8,650.7C1322.8,650.7 1326.9,651 1330.9,652.3C1334.9,653.7 1338.9,655.9 1342.9,658.8C1346.9,661.7 1351,665.6 1355,669.8C1359,674 1363,679.3 1367,683.9C1371,688.4 1375.4,693.1 1379.1,696.9C1382.7,700.8 1385.8,704.5 1389.1,707C1392.4,709.4 1395.1,710.8 1399.1,711.6C1403.2,712.3 1408.8,711.8 1413.2,711.6C1417.5,711.3 1421.2,709.9 1425.2,710C1429.3,710 1433.7,710.4 1437.3,712C1440.9,713.6 1443.8,715.9 1446.8,719.6C1449.8,723.3 1452.5,729.5 1455.3,734C1458.1,738.6 1460.9,742.8 1463.8,746.8C1466.6,750.7 1470,753.8 1472.3,757.8C1474.5,761.8 1475.4,765.7 1477.4,770.5C1479.3,775.4 1481.9,781.2 1484.2,786.7C1486.4,792.2 1488.7,797.4 1490.9,803.7C1493.2,809.9 1495.8,817.5 1497.7,824C1499.7,830.5 1501.1,836.2 1502.8,842.7C1504.5,849.2 1506.4,856.9 1507.9,863.1C1509.5,869.3 1510.8,873.8 1512.2,880.1C1513.6,886.3 1515,893.9 1516.4,900.5C1517.8,907 1519.5,913.2 1520.7,919.1C1521.8,925.1 1521.9,929.8 1523.2,936.3C1524.5,942.8 1526.6,949.9 1528.3,958.4C1530,966.9 1531.7,977.3 1533.4,987.2C1535.1,997.1 1536.8,1007.6 1538.5,1017.8C1540.2,1028 1542,1038.5 1543.6,1048.4C1545.1,1058.3 1546.6,1067.6 1547.8,1077.2C1549.1,1086.9 1550,1097.1 1551.2,1106.1C1552.5,1115.2 1553.9,1123.1 1555.5,1131.6C1557,1140.1 1559.3,1149.6 1560.6,1157.1C1561.8,1164.5 1562,1169.4 1563.1,1176.3C1564.2,1183.2 1565.9,1191 1567.4,1198.4C1568.8,1205.7 1570.2,1213.9 1571.6,1220.5C1573,1227 1574.3,1232.3 1575.8,1237.4C1577.4,1242.5 1579,1246.2 1580.9,1251C1582.9,1255.8 1585.5,1261.9 1587.7,1266.3C1590,1270.7 1592,1274.2 1594.5,1277.3C1597.1,1280.5 1599.9,1282.9 1603,1285C1606.1,1287.1 1609.5,1288.8 1613.2,1290.1C1616.9,1291.3 1621.4,1292.3 1625.1,1292.6C1628.8,1292.9 1632.2,1293 1635.3,1291.8C1638.4,1290.5 1640.9,1287.2 1643.8,1285C1646.6,1282.7 1649.4,1280.2 1652.3,1278.2C1655.1,1276.2 1657.9,1274.6 1660.8,1273.1C1663.6,1271.5 1666.4,1269.5 1669.2,1268.8C1672.1,1268.2 1675.2,1268.5 1677.7,1269.4C1680.3,1270.2 1682.3,1271.6 1684.5,1273.9C1686.8,1276.3 1689.1,1279.7 1691.3,1283.3C1693.6,1286.8 1696.1,1291.2 1698.1,1295.2C1700.1,1299.1 1701.2,1303.4 1703.2,1307.1C1705.2,1310.7 1707.7,1314.6 1710,1317.2C1712.3,1319.9 1714.5,1322.1 1716.8,1323.2C1719.1,1324.3 1721,1324.3 1723.6,1324C1726.1,1323.8 1729.2,1323.2 1732.1,1321.5C1734.9,1319.8 1737.7,1316.8 1740.6,1313.8C1743.4,1310.9 1745.8,1306.9 1749.1,1303.7C1752.3,1300.4 1755.9,1296.5 1760,1294.3C1764.1,1292.1 1769.1,1291.7 1773.6,1290.4C1778.1,1289.1 1782.6,1287.7 1787.2,1286.3C1791.7,1285 1796.8,1283.6 1800.8,1282.4C1804.7,1281.3 1807.5,1280.3 1810.9,1279.5C1814.3,1278.8 1817.7,1278.7 1821.1,1278.2C1824.5,1277.7 1828.5,1277.5 1831.3,1276.5C1834.2,1275.5 1835.6,1274.2 1838.1,1272.2C1840.7,1270.3 1843.8,1266.7 1846.6,1264.6C1849.4,1262.5 1852.5,1260.5 1855.1,1259.5C1857.6,1258.5 1859.3,1258.4 1861.9,1258.7C1864.4,1258.9 1867.5,1259.9 1870.4,1261.2C1873.2,1262.5 1876.3,1264 1878.9,1266.3C1881.4,1268.6 1883.4,1270.5 1885.7,1274.8C1887.9,1279 1890.2,1285.8 1892.5,1291.8C1894.7,1297.7 1897,1305.4 1899.2,1310.5C1901.5,1315.5 1903.8,1319.4 1906,1322.3C1908.3,1325.3 1910.6,1327 1912.8,1328.3C1915.1,1329.6 1917.1,1330.3 1919.6,1330C1922.2,1329.7 1925.3,1328.3 1928.1,1326.6C1930.9,1324.9 1933.8,1321.9 1936.6,1319.8C1939.4,1317.7 1942.3,1315.2 1945.1,1313.8C1947.9,1312.5 1950.8,1311.7 1953.6,1311.8C1956.4,1312 1959.2,1313.3 1962.1,1314.7C1964.9,1316.1 1967.5,1318.6 1970.6,1320.3C1973.7,1322 1977.1,1324 1980.8,1324.9C1984.4,1325.8 1988.7,1325.9 1992.6,1325.7C1996.6,1325.6 2000.8,1324.9 2004.5,1324C2008.2,1323.2 2010.8,1321.3 2014.7,1320.6C2018.7,1319.9 2023.8,1320.2 2028.3,1319.8C2032.8,1319.4 2037.1,1318.5 2041.9,1318.1C2046.7,1317.7 2053.3,1317.5 2057.2,1317.2C2061,1317 2063.8,1316.9 2065.2,1316.8L2065.2,1324.2C2063.8,1324.3 2061,1324.4 2057.2,1324.6C2053.3,1324.9 2046.7,1325.1 2041.9,1325.5C2037.1,1325.9 2032.8,1326.8 2028.3,1327.2C2023.8,1327.6 2018.7,1327.3 2014.7,1328C2010.8,1328.7 2008.2,1330.6 2004.5,1331.4C2000.8,1332.3 1996.6,1333 1992.6,1333.1C1988.7,1333.3 1984.4,1333.2 1980.8,1332.3C1977.1,1331.4 1973.7,1329.4 1970.6,1327.7C1967.5,1326 1964.9,1323.5 1962.1,1322.1C1959.2,1320.7 1956.4,1319.4 1953.6,1319.2C1950.8,1319.1 1947.9,1319.9 1945.1,1321.2C1942.3,1322.6 1939.4,1325.1 1936.6,1327.2C1933.8,1329.3 1930.9,1332.3 1928.1,1334C1925.3,1335.7 1922.2,1337.1 1919.6,1337.4C1917.1,1337.7 1915.1,1337 1912.8,1335.7C1910.6,1334.4 1908.3,1332.7 1906,1329.7C1903.8,1326.8 1901.5,1322.9 1899.2,1317.9C1897,1312.8 1894.7,1305.1 1892.5,1299.2C1890.2,1293.2 1887.9,1286.4 1885.7,1282.2C1883.4,1277.9 1881.4,1276 1878.9,1273.7C1876.3,1271.4 1873.2,1269.9 1870.4,1268.6C1867.5,1267.3 1864.4,1266.3 1861.9,1266.1C1859.3,1265.8 1857.6,1265.9 1855.1,1266.9C1852.5,1267.9 1849.4,1269.9 1846.6,1272C1843.8,1274.1 1840.7,1277.7 1838.1,1279.6C1835.6,1281.6 1834.2,1282.9 1831.3,1283.9C1828.5,1284.9 1824.5,1285.1 1821.1,1285.6C1817.7,1286.1 1814.3,1286.2 1810.9,1286.9C1807.5,1287.7 1804.7,1288.7 1800.8,1289.8C1796.8,1291 1791.7,1292.4 1787.2,1293.7C1782.6,1295.1 1778.1,1296.5 1773.6,1297.8C1769.1,1299.1 1764.1,1299.5 1760,1301.7C1755.9,1303.9 1752.3,1307.8 1749.1,1311.1C1745.8,1314.3 1743.4,1318.3 1740.6,1321.2C1737.7,1324.2 1734.9,1327.2 1732.1,1328.9C1729.2,1330.6 1726.1,1331.2 1723.6,1331.4C1721,1331.7 1719.1,1331.7 1716.8,1330.6C1714.5,1329.5 1712.3,1327.3 1710,1324.6C1707.7,1322 1705.2,1318.1 1703.2,1314.5C1701.2,1310.8 1700.1,1306.5 1698.1,1302.6C1696.1,1298.6 1693.6,1294.2 1691.3,1290.7C1689.1,1287.1 1686.8,1283.7 1684.5,1281.3C1682.3,1279 1680.3,1277.6 1677.7,1276.8C1675.2,1275.9 1672.1,1275.6 1669.2,1276.2C1666.4,1276.9 1663.6,1278.9 1660.8,1280.5C1657.9,1282 1655.1,1283.6 1652.3,1285.6C1649.4,1287.6 1646.6,1290.1 1643.8,1292.4C1640.9,1294.6 1638.4,1297.9 1635.3,1299.2C1632.2,1300.4 1628.8,1300.3 1625.1,1300C1621.4,1299.7 1616.9,1298.7 1613.2,1297.5C1609.5,1296.2 1606.1,1294.5 1603,1292.4C1599.9,1290.3 1597.1,1287.9 1594.5,1284.7C1592,1281.6 1590,1278.1 1587.7,1273.7C1585.5,1269.3 1582.9,1263.2 1580.9,1258.4C1579,1253.6 1577.4,1249.9 1575.8,1244.8C1574.3,1239.7 1573,1234.4 1571.6,1227.9C1570.2,1221.3 1568.8,1213.1 1567.4,1205.8C1565.9,1198.4 1564.2,1190.6 1563.1,1183.7C1562,1176.8 1561.8,1171.9 1560.6,1164.5C1559.3,1157 1557,1147.5 1555.5,1139C1553.9,1130.5 1552.5,1122.6 1551.2,1113.5C1550,1104.5 1549.1,1094.3 1547.8,1084.6C1546.6,1075 1545.1,1065.7 1543.6,1055.8C1542,1045.9 1540.2,1035.4 1538.5,1025.2C1536.8,1015 1535.1,1004.5 1533.4,994.6C1531.7,984.7 1530,974.3 1528.3,965.8C1526.6,957.3 1524.5,950.2 1523.2,943.7C1521.9,937.2 1521.8,932.5 1520.7,926.5C1519.5,920.6 1517.8,914.4 1516.4,907.9C1515,901.3 1513.6,893.7 1512.2,887.5C1510.8,881.2 1509.5,876.7 1507.9,870.5C1506.4,864.3 1504.5,856.6 1502.8,850.1C1501.1,843.6 1499.7,837.9 1497.7,831.4C1495.8,824.9 1493.2,817.3 1490.9,811.1C1488.7,804.8 1486.4,799.6 1484.2,794.1C1481.9,788.6 1479.3,782.8 1477.4,777.9C1475.4,773.1 1474.5,769.2 1472.3,765.2C1470,761.2 1466.6,758.1 1463.8,754.2C1460.9,750.2 1458.1,746 1455.3,741.4C1452.5,736.9 1449.8,730.7 1446.8,727C1443.8,723.3 1440.9,721 1437.3,719.4C1433.7,717.8 1429.3,717.4 1425.2,717.4C1421.2,717.3 1417.5,718.7 1413.2,719C1408.8,719.2 1403.2,719.7 1399.1,719C1395.1,718.2 1392.4,716.8 1389.1,714.4C1385.8,711.9 1382.7,708.2 1379.1,704.3C1375.4,700.5 1371,695.8 1367,691.3C1363,686.7 1359,681.4 1355,677.2C1351,673 1346.9,669.1 1342.9,666.2C1338.9,663.3 1334.9,661.1 1330.9,659.7C1326.9,658.4 1322.8,658.1 1318.8,658.1C1314.8,658.1 1311.1,659.4 1306.8,659.7C1302.4,660.1 1297.4,659.7 1292.7,660.1C1288,660.5 1283,661 1278.7,662.2C1274.3,663.3 1270.7,664.7 1266.6,667.2C1262.6,669.7 1258.6,673.7 1254.6,677.2C1250.6,680.7 1246.6,684.9 1242.5,688.3C1238.5,691.6 1234.5,695.3 1230.5,697.3C1226.5,699.3 1222.5,700.3 1218.5,700.3C1214.4,700.3 1210.4,699 1206.4,697.3C1202.4,695.6 1198.4,692.3 1194.4,690.3C1190.3,688.3 1186.3,686.2 1182.3,685.2C1178.3,684.3 1173.9,685.1 1170.3,684.6C1166.6,684.1 1163.6,683.8 1160.2,682.2C1156.9,680.7 1153.5,678.4 1150.2,675.2C1146.8,672 1143.5,667.7 1140.2,663.2C1136.8,658.6 1133.5,652.4 1130.1,648.1C1126.8,643.7 1123.4,639.8 1120.1,637.1C1116.7,634.3 1115.5,632.8 1110,631.6C1104.6,630.5 1093.6,630 1087.5,630C1081.4,630.1 1078.1,630.7 1073.4,632C1068.7,633.4 1063.7,635.7 1059.4,638.1C1055,640.4 1051,644.2 1047.3,646.1C1043.6,647.9 1041,649.6 1037.3,649.1C1033.6,648.6 1029.3,645.6 1025.2,643.1C1021.2,640.6 1016.9,636.2 1013.2,634C1009.5,631.9 1006.8,630.9 1003.2,630.4C999.5,629.9 995.1,630.4 991.1,631C987.1,631.7 982.7,633.8 979.1,634.4C975.4,635.1 972.7,635.6 969,635C965.3,634.5 960.7,633 957,631C953.3,629 950.6,626.9 946.9,623C943.3,619.2 938.9,613.3 934.9,607.9C930.9,602.6 926.5,595.8 922.8,590.9C919.2,585.9 916,580.8 912.8,578.2C909.6,575.7 906.8,575.3 903.8,575.4C900.8,575.5 897.9,576.8 894.7,578.8C891.6,580.9 888.4,584 884.7,587.9C881,591.7 877,597.9 872.7,601.9C868.3,605.9 863.3,609.3 858.6,612C853.9,614.6 849.2,616 844.6,618C839.9,620 835.2,622.4 830.5,624C825.8,625.6 819.7,626.9 816.4,627.4C813.2,628 813.1,627.7 810.9,627.3C808.7,626.9 805.9,625.9 803.4,625C800.9,624.1 798.3,622.9 795.8,622C793.3,621.1 790.8,620.3 788.3,619.7C785.8,619.1 783.3,618.8 780.8,618.6C778.3,618.4 775.7,618.4 773.2,618.6C770.7,618.8 768.2,619.2 765.7,619.7C763.2,620.2 760.6,620.9 758.1,621.6C755.6,622.3 753.1,623.1 750.6,623.9C748.1,624.7 745.5,625.4 743,626.5C740.5,627.6 738,629.1 735.5,630.7C733,632.3 730.4,634.3 727.9,636.3C725.4,638.3 722.7,640.7 720.4,642.8C718.1,644.9 716.2,646.5 714.3,648.8C712.4,651.1 710.3,655.1 708.8,656.7C707.3,658.3 707.4,657.9 705.5,658.3C703.6,658.7 701.7,658.8 697.7,659C693.7,659.2 687.5,659.5 681.5,659.5C675.4,659.6 668.7,659.5 661.4,659.1C654,658.8 645.7,657.7 637.3,657.3C628.9,657 619.9,656.9 611.2,657.1C602.5,657.3 593.5,657.9 585.1,658.5C576.7,659.2 570,660.1 561,661.1C552,662.2 540.9,663.6 530.9,664.8C520.8,665.9 510.8,667.1 500.8,668.2C490.7,669.2 480,670.5 470.7,671.2C461.3,671.9 452.9,672.2 444.6,672.4C436.2,672.6 428.5,672.5 420.5,672.2C412.4,671.9 404.7,671.3 396.4,670.6C388,669.9 379.6,668.7 370.3,668.2C360.9,667.7 349.9,667.6 340.2,667.6C330.4,667.6 318.1,668 312,668.2C306,668.3 305.4,668.3 304,668.3Z"/><path d="M300.3,664.6C301.7,664.6 302.3,664.6 308.3,664.5C314.4,664.3 326.7,663.9 336.5,663.9C346.2,663.9 357.2,664 366.6,664.5C375.9,665 384.3,666.2 392.7,666.9C401,667.6 408.7,668.2 416.8,668.5C424.8,668.8 432.5,668.9 440.9,668.7C449.2,668.5 457.6,668.2 467,667.5C476.3,666.8 487,665.5 497.1,664.5C507.1,663.4 517.1,662.2 527.2,661.1C537.2,659.9 548.3,658.5 557.3,657.4C566.3,656.4 573,655.5 581.4,654.8C589.8,654.2 598.8,653.6 607.5,653.4C616.2,653.2 625.2,653.3 633.6,653.6C642,654 650.3,655.1 657.7,655.4C665,655.8 671.7,655.9 677.8,655.8C683.8,655.8 690,655.5 694,655.3C698,655.1 699.9,655 701.8,654.6C703.6,654.2 703.6,654.6 705.1,653C706.6,651.4 708.7,647.4 710.6,645.1C712.5,642.8 714.4,641.2 716.7,639.1C719,637 721.7,634.6 724.2,632.6C726.7,630.6 729.3,628.6 731.8,627C734.3,625.4 736.8,623.9 739.3,622.8C741.8,621.7 744.4,621 746.9,620.2C749.4,619.4 751.9,618.6 754.4,617.9C756.9,617.2 759.5,616.5 762,616C764.5,615.5 767,615.1 769.5,614.9C772,614.7 774.6,614.7 777.1,614.9C779.6,615.1 782.1,615.4 784.6,616C787.1,616.6 789.6,617.4 792.1,618.3C794.6,619.2 797.2,620.4 799.7,621.3C802.2,622.2 805,623.2 807.2,623.6C809.4,624 809.5,624.3 812.7,623.7C816,623.2 822.1,621.9 826.8,620.3C831.5,618.7 836.2,616.3 840.9,614.3C845.5,612.3 850.2,610.9 854.9,608.3C859.6,605.6 864.6,602.2 869,598.2C873.3,594.2 877.3,588 881,584.2C884.7,580.3 887.9,577.2 891,575.1C894.2,573.1 897.1,571.8 900.1,571.7C903.1,571.6 905.9,572 909.1,574.5C912.3,577.1 915.5,582.2 919.1,587.2C922.8,592.1 927.2,598.9 931.2,604.2C935.2,609.6 939.6,615.5 943.2,619.3C946.9,623.2 949.6,625.3 953.3,627.3C957,629.3 961.6,630.8 965.3,631.3C969,631.9 971.7,631.4 975.4,630.7C979,630.1 983.4,628 987.4,627.3C991.4,626.7 995.8,626.2 999.5,626.7C1003.1,627.2 1005.8,628.2 1009.5,630.3C1013.2,632.5 1017.5,636.9 1021.5,639.4C1025.6,641.9 1029.9,644.9 1033.6,645.4C1037.3,645.9 1039.9,644.2 1043.6,642.4C1047.3,640.5 1051.3,636.7 1055.7,634.4C1060,632 1065,629.7 1069.7,628.3C1074.4,627 1077.7,626.4 1083.8,626.3C1089.9,626.3 1100.9,626.8 1106.3,627.9C1111.8,629.1 1113,630.6 1116.4,633.4C1119.7,636.1 1123.1,640 1126.4,644.4C1129.8,648.7 1133.1,654.9 1136.5,659.5C1139.8,664 1143.1,668.3 1146.5,671.5C1149.8,674.7 1153.2,677 1156.5,678.5C1159.9,680.1 1162.9,680.4 1166.6,680.9C1170.2,681.4 1174.6,680.6 1178.6,681.5C1182.6,682.5 1186.6,684.6 1190.7,686.6C1194.7,688.6 1198.7,691.9 1202.7,693.6C1206.7,695.3 1210.7,696.6 1214.8,696.6C1218.8,696.6 1222.8,695.6 1226.8,693.6C1230.8,691.6 1234.8,687.9 1238.8,684.6C1242.9,681.2 1246.9,677 1250.9,673.5C1254.9,670 1258.9,666 1262.9,663.5C1267,661 1270.6,659.6 1275,658.5C1279.3,657.3 1284.3,656.8 1289,656.4C1293.7,656 1298.7,656.4 1303.1,656C1307.4,655.7 1311.1,654.4 1315.1,654.4C1319.1,654.4 1323.2,654.7 1327.2,656C1331.2,657.4 1335.2,659.6 1339.2,662.5C1343.2,665.4 1347.3,669.3 1351.3,673.5C1355.3,677.7 1359.3,683 1363.3,687.6C1367.3,692.1 1371.7,696.8 1375.4,700.6C1379,704.5 1382.1,708.2 1385.4,710.7C1388.7,713.1 1391.4,714.5 1395.4,715.3C1399.5,716 1405.1,715.5 1409.5,715.3C1413.8,715 1417.5,713.6 1421.5,713.7C1425.6,713.7 1430,714.1 1433.6,715.7C1437.2,717.3 1440.1,719.6 1443.1,723.3C1446.1,727 1448.8,733.2 1451.6,737.7C1454.4,742.3 1457.2,746.5 1460.1,750.5C1462.9,754.4 1466.3,757.5 1468.6,761.5C1470.8,765.5 1471.7,769.4 1473.7,774.2C1475.6,779.1 1478.2,784.9 1480.5,790.4C1482.7,795.9 1485,801.1 1487.2,807.4C1489.5,813.6 1492.1,821.2 1494,827.7C1496,834.2 1497.4,839.9 1499.1,846.4C1500.8,852.9 1502.7,860.6 1504.2,866.8C1505.8,873 1507.1,877.5 1508.5,883.8C1509.9,890 1511.3,897.6 1512.7,904.2C1514.1,910.7 1515.8,916.9 1517,922.8C1518.1,928.8 1518.2,933.5 1519.5,940C1520.8,946.5 1522.9,953.6 1524.6,962.1C1526.3,970.6 1528,981 1529.7,990.9C1531.4,1000.8 1533.1,1011.3 1534.8,1021.5C1536.5,1031.7 1538.3,1042.2 1539.9,1052.1C1541.4,1062 1542.9,1071.3 1544.1,1080.9C1545.4,1090.6 1546.3,1100.8 1547.5,1109.8C1548.8,1118.9 1550.2,1126.8 1551.8,1135.3C1553.3,1143.8 1555.6,1153.3 1556.9,1160.8C1558.1,1168.2 1558.3,1173.1 1559.4,1180C1560.5,1186.9 1562.2,1194.7 1563.7,1202.1C1565.1,1209.4 1566.5,1217.6 1567.9,1224.2C1569.3,1230.7 1570.6,1236 1572.1,1241.1C1573.7,1246.2 1575.3,1249.9 1577.2,1254.7C1579.2,1259.5 1581.8,1265.6 1584,1270C1586.3,1274.4 1588.3,1277.9 1590.8,1281C1593.4,1284.2 1596.2,1286.6 1599.3,1288.7C1602.4,1290.8 1605.8,1292.5 1609.5,1293.8C1613.2,1295 1617.7,1296 1621.4,1296.3C1625.1,1296.6 1628.5,1296.7 1631.6,1295.5C1634.7,1294.2 1637.2,1290.9 1640.1,1288.7C1642.9,1286.4 1645.7,1283.9 1648.6,1281.9C1651.4,1279.9 1654.2,1278.3 1657.1,1276.8C1659.9,1275.2 1662.7,1273.2 1665.5,1272.5C1668.4,1271.9 1671.5,1272.2 1674,1273.1C1676.6,1273.9 1678.6,1275.3 1680.8,1277.6C1683.1,1280 1685.4,1283.4 1687.6,1287C1689.9,1290.5 1692.4,1294.9 1694.4,1298.9C1696.4,1302.8 1697.5,1307.1 1699.5,1310.8C1701.5,1314.4 1704,1318.3 1706.3,1320.9C1708.6,1323.6 1710.8,1325.8 1713.1,1326.9C1715.4,1328 1717.3,1328 1719.9,1327.7C1722.4,1327.5 1725.5,1326.9 1728.4,1325.2C1731.2,1323.5 1734,1320.5 1736.9,1317.5C1739.7,1314.6 1742.1,1310.6 1745.4,1307.4C1748.6,1304.1 1752.2,1300.2 1756.3,1298C1760.4,1295.8 1765.4,1295.4 1769.9,1294.1C1774.4,1292.8 1778.9,1291.4 1783.5,1290C1788,1288.7 1793.1,1287.3 1797.1,1286.1C1801,1285 1803.8,1284 1807.2,1283.2C1810.6,1282.5 1814,1282.4 1817.4,1281.9C1820.8,1281.4 1824.8,1281.2 1827.6,1280.2C1830.5,1279.2 1831.9,1277.9 1834.4,1275.9C1837,1274 1840.1,1270.4 1842.9,1268.3C1845.7,1266.2 1848.8,1264.2 1851.4,1263.2C1853.9,1262.2 1855.6,1262.1 1858.2,1262.4C1860.7,1262.6 1863.8,1263.6 1866.7,1264.9C1869.5,1266.2 1872.6,1267.7 1875.2,1270C1877.7,1272.3 1879.7,1274.2 1882,1278.5C1884.2,1282.7 1886.5,1289.5 1888.8,1295.5C1891,1301.4 1893.3,1309.1 1895.5,1314.2C1897.8,1319.2 1900.1,1323.1 1902.3,1326C1904.6,1329 1906.9,1330.7 1909.1,1332C1911.4,1333.3 1913.4,1334 1915.9,1333.7C1918.5,1333.4 1921.6,1332 1924.4,1330.3C1927.2,1328.6 1930.1,1325.6 1932.9,1323.5C1935.7,1321.4 1938.6,1318.9 1941.4,1317.5C1944.2,1316.2 1947.1,1315.4 1949.9,1315.5C1952.7,1315.7 1955.5,1317 1958.4,1318.4C1961.2,1319.8 1963.8,1322.3 1966.9,1324C1970,1325.7 1973.4,1327.7 1977.1,1328.6C1980.7,1329.5 1985,1329.6 1988.9,1329.4C1992.9,1329.3 1997.1,1328.6 2000.8,1327.7C2004.5,1326.9 2007.1,1325 2011,1324.3C2015,1323.6 2020.1,1323.9 2024.6,1323.5C2029.1,1323.1 2033.4,1322.2 2038.2,1321.8C2043,1321.4 2049.6,1321.2 2053.5,1320.9C2057.3,1320.7 2060.1,1320.6 2061.5,1320.5L2068.9,1320.5C2067.5,1320.6 2064.7,1320.7 2060.9,1320.9C2057,1321.2 2050.4,1321.4 2045.6,1321.8C2040.8,1322.2 2036.5,1323.1 2032,1323.5C2027.5,1323.9 2022.4,1323.6 2018.4,1324.3C2014.5,1325 2011.9,1326.9 2008.2,1327.7C2004.5,1328.6 2000.3,1329.3 1996.3,1329.4C1992.4,1329.6 1988.1,1329.5 1984.5,1328.6C1980.8,1327.7 1977.4,1325.7 1974.3,1324C1971.2,1322.3 1968.6,1319.8 1965.8,1318.4C1962.9,1317 1960.1,1315.7 1957.3,1315.5C1954.5,1315.4 1951.6,1316.2 1948.8,1317.5C1946,1318.9 1943.1,1321.4 1940.3,1323.5C1937.5,1325.6 1934.6,1328.6 1931.8,1330.3C1929,1332 1925.9,1333.4 1923.3,1333.7C1920.8,1334 1918.8,1333.3 1916.5,1332C1914.3,1330.7 1912,1329 1909.7,1326C1907.5,1323.1 1905.2,1319.2 1902.9,1314.2C1900.7,1309.1 1898.4,1301.4 1896.2,1295.5C1893.9,1289.5 1891.6,1282.7 1889.4,1278.5C1887.1,1274.2 1885.1,1272.3 1882.6,1270C1880,1267.7 1876.9,1266.2 1874.1,1264.9C1871.2,1263.6 1868.1,1262.6 1865.6,1262.4C1863,1262.1 1861.3,1262.2 1858.8,1263.2C1856.2,1264.2 1853.1,1266.2 1850.3,1268.3C1847.5,1270.4 1844.4,1274 1841.8,1275.9C1839.3,1277.9 1837.9,1279.2 1835,1280.2C1832.2,1281.2 1828.2,1281.4 1824.8,1281.9C1821.4,1282.4 1818,1282.5 1814.6,1283.2C1811.2,1284 1808.4,1285 1804.5,1286.1C1800.5,1287.3 1795.4,1288.7 1790.9,1290C1786.3,1291.4 1781.8,1292.8 1777.3,1294.1C1772.8,1295.4 1767.8,1295.8 1763.7,1298C1759.6,1300.2 1756,1304.1 1752.8,1307.4C1749.5,1310.6 1747.1,1314.6 1744.3,1317.5C1741.4,1320.5 1738.6,1323.5 1735.8,1325.2C1732.9,1326.9 1729.8,1327.5 1727.3,1327.7C1724.7,1328 1722.8,1328 1720.5,1326.9C1718.2,1325.8 1716,1323.6 1713.7,1320.9C1711.4,1318.3 1708.9,1314.4 1706.9,1310.8C1704.9,1307.1 1703.8,1302.8 1701.8,1298.9C1699.8,1294.9 1697.3,1290.5 1695,1287C1692.8,1283.4 1690.5,1280 1688.2,1277.6C1686,1275.3 1684,1273.9 1681.4,1273.1C1678.9,1272.2 1675.8,1271.9 1672.9,1272.5C1670.1,1273.2 1667.3,1275.2 1664.5,1276.8C1661.6,1278.3 1658.8,1279.9 1656,1281.9C1653.1,1283.9 1650.3,1286.4 1647.5,1288.7C1644.6,1290.9 1642.1,1294.2 1639,1295.5C1635.9,1296.7 1632.5,1296.6 1628.8,1296.3C1625.1,1296 1620.6,1295 1616.9,1293.8C1613.2,1292.5 1609.8,1290.8 1606.7,1288.7C1603.6,1286.6 1600.8,1284.2 1598.2,1281C1595.7,1277.9 1593.7,1274.4 1591.4,1270C1589.2,1265.6 1586.6,1259.5 1584.6,1254.7C1582.7,1249.9 1581.1,1246.2 1579.5,1241.1C1578,1236 1576.7,1230.7 1575.3,1224.2C1573.9,1217.6 1572.5,1209.4 1571.1,1202.1C1569.6,1194.7 1567.9,1186.9 1566.8,1180C1565.7,1173.1 1565.5,1168.2 1564.3,1160.8C1563,1153.3 1560.7,1143.8 1559.2,1135.3C1557.6,1126.8 1556.2,1118.9 1554.9,1109.8C1553.7,1100.8 1552.8,1090.6 1551.5,1080.9C1550.3,1071.3 1548.8,1062 1547.3,1052.1C1545.7,1042.2 1543.9,1031.7 1542.2,1021.5C1540.5,1011.3 1538.8,1000.8 1537.1,990.9C1535.4,981 1533.7,970.6 1532,962.1C1530.3,953.6 1528.2,946.5 1526.9,940C1525.6,933.5 1525.5,928.8 1524.4,922.8C1523.2,916.9 1521.5,910.7 1520.1,904.2C1518.7,897.6 1517.3,890 1515.9,883.8C1514.5,877.5 1513.2,873 1511.6,866.8C1510.1,860.6 1508.2,852.9 1506.5,846.4C1504.8,839.9 1503.4,834.2 1501.4,827.7C1499.5,821.2 1496.9,813.6 1494.6,807.4C1492.4,801.1 1490.1,795.9 1487.9,790.4C1485.6,784.9 1483,779.1 1481.1,774.2C1479.1,769.4 1478.2,765.5 1476,761.5C1473.7,757.5 1470.3,754.4 1467.5,750.5C1464.6,746.5 1461.8,742.3 1459,737.7C1456.2,733.2 1453.5,727 1450.5,723.3C1447.5,719.6 1444.6,717.3 1441,715.7C1437.4,714.1 1433,713.7 1428.9,713.7C1424.9,713.6 1421.2,715 1416.9,715.3C1412.5,715.5 1406.9,716 1402.8,715.3C1398.8,714.5 1396.1,713.1 1392.8,710.7C1389.5,708.2 1386.4,704.5 1382.8,700.6C1379.1,696.8 1374.7,692.1 1370.7,687.6C1366.7,683 1362.7,677.7 1358.7,673.5C1354.7,669.3 1350.6,665.4 1346.6,662.5C1342.6,659.6 1338.6,657.4 1334.6,656C1330.6,654.7 1326.5,654.4 1322.5,654.4C1318.5,654.4 1314.8,655.7 1310.5,656C1306.1,656.4 1301.1,656 1296.4,656.4C1291.7,656.8 1286.7,657.3 1282.4,658.5C1278,659.6 1274.4,661 1270.3,663.5C1266.3,666 1262.3,670 1258.3,673.5C1254.3,677 1250.3,681.2 1246.2,684.6C1242.2,687.9 1238.2,691.6 1234.2,693.6C1230.2,695.6 1226.2,696.6 1222.2,696.6C1218.1,696.6 1214.1,695.3 1210.1,693.6C1206.1,691.9 1202.1,688.6 1198.1,686.6C1194,684.6 1190,682.5 1186,681.5C1182,680.6 1177.6,681.4 1174,680.9C1170.3,680.4 1167.3,680.1 1163.9,678.5C1160.6,677 1157.2,674.7 1153.9,671.5C1150.5,668.3 1147.2,664 1143.9,659.5C1140.5,654.9 1137.2,648.7 1133.8,644.4C1130.5,640 1127.1,636.1 1123.8,633.4C1120.4,630.6 1119.2,629.1 1113.7,627.9C1108.3,626.8 1097.3,626.3 1091.2,626.3C1085.1,626.4 1081.8,627 1077.1,628.3C1072.4,629.7 1067.4,632 1063.1,634.4C1058.7,636.7 1054.7,640.5 1051,642.4C1047.3,644.2 1044.7,645.9 1041,645.4C1037.3,644.9 1033,641.9 1028.9,639.4C1024.9,636.9 1020.6,632.5 1016.9,630.3C1013.2,628.2 1010.5,627.2 1006.9,626.7C1003.2,626.2 998.8,626.7 994.8,627.3C990.8,628 986.4,630.1 982.8,630.7C979.1,631.4 976.4,631.9 972.7,631.3C969,630.8 964.4,629.3 960.7,627.3C957,625.3 954.3,623.2 950.6,619.3C947,615.5 942.6,609.6 938.6,604.2C934.6,598.9 930.2,592.1 926.5,587.2C922.9,582.2 919.7,577.1 916.5,574.5C913.3,572 910.5,571.6 907.5,571.7C904.5,571.8 901.6,573.1 898.4,575.1C895.3,577.2 892.1,580.3 888.4,584.2C884.7,588 880.7,594.2 876.4,598.2C872,602.2 867,605.6 862.3,608.3C857.6,610.9 852.9,612.3 848.3,614.3C843.6,616.3 838.9,618.7 834.2,620.3C829.5,621.9 823.4,623.2 820.1,623.7C816.9,624.3 816.8,624 814.6,623.6C812.4,623.2 809.6,622.2 807.1,621.3C804.6,620.4 802,619.2 799.5,618.3C797,617.4 794.5,616.6 792,616C789.5,615.4 787,615.1 784.5,614.9C782,614.7 779.4,614.7 776.9,614.9C774.4,615.1 771.9,615.5 769.4,616C766.9,616.5 764.3,617.2 761.8,617.9C759.3,618.6 756.8,619.4 754.3,620.2C751.8,621 749.2,621.7 746.7,622.8C744.2,623.9 741.7,625.4 739.2,627C736.7,628.6 734.1,630.6 731.6,632.6C729.1,634.6 726.4,637 724.1,639.1C721.8,641.2 719.9,642.8 718,645.1C716.1,647.4 714,651.4 712.5,653C711,654.6 711.1,654.2 709.2,654.6C707.4,655 705.4,655.1 701.4,655.3C697.4,655.5 691.2,655.8 685.2,655.8C679.1,655.9 672.4,655.8 665.1,655.4C657.7,655.1 649.4,654 641,653.6C632.6,653.3 623.6,653.2 614.9,653.4C606.2,653.6 597.2,654.2 588.8,654.8C580.4,655.5 573.7,656.4 564.7,657.4C555.7,658.5 544.6,659.9 534.6,661.1C524.5,662.2 514.5,663.4 504.5,664.5C494.4,665.5 483.7,666.8 474.4,667.5C465,668.2 456.6,668.5 448.3,668.7C439.9,668.9 432.2,668.8 424.2,668.5C416.1,668.2 408.4,667.6 400.1,666.9C391.7,666.2 383.3,665 374,664.5C364.6,664 353.6,663.9 343.9,663.9C334.1,663.9 321.8,664.3 315.7,664.5C309.7,664.6 309.1,664.6 307.7,664.6Z"/></g>
<g fill="#00ff00"><path d="M297.7,1311.9C299,1312 302.8,1312.1 305.7,1312.2C308.5,1312.4 312.1,1312.1 314.7,1312.6C317.3,1313.1 318.7,1314.1 321.1,1315.3C323.5,1316.5 325.7,1318.2 329.1,1319.8C332.5,1321.3 336.9,1322.6 341.5,1324.5C346.1,1326.4 350.9,1328.8 356.6,1330.9C362.3,1333 369.2,1335.3 375.5,1337C381.8,1338.6 388.1,1339.7 394.3,1340.7C400.6,1341.7 406.9,1342.4 413.2,1343C419.5,1343.6 425.8,1343.9 432.1,1344.5C438.4,1345.1 444.7,1345.8 450.9,1346.4C457.2,1347 463.5,1347.7 469.8,1348.3C476.1,1348.8 482.4,1349.5 488.7,1349.8C495,1350.1 501.3,1350.4 507.5,1350.2C513.8,1349.9 520.1,1349.2 526.4,1348.3C532.7,1347.3 540.6,1345.8 545.3,1344.5C550,1343.2 551.6,1342 554.7,1340.7C557.9,1339.5 559.4,1338.5 564.2,1337C568.9,1335.4 576.7,1332.6 583,1331.3C589.3,1330 595.6,1329.4 601.9,1329.4C608.2,1329.4 614.5,1330.5 620.8,1331.3C627,1332.1 633.3,1333.3 639.6,1334.1C645.9,1334.9 652.2,1335.6 658.5,1336C664.8,1336.4 672.1,1336.3 677.4,1336.4C682.6,1336.5 685.4,1336.7 690,1336.4C694.6,1336.1 700.4,1336.3 705.1,1334.7C709.8,1333.1 713.9,1328.9 718.3,1326.6C722.7,1324.3 727.1,1321.5 731.5,1320.9C735.9,1320.3 740.3,1321.2 744.7,1322.8C749.1,1324.4 753.5,1328 757.9,1330.4C762.3,1332.7 766.7,1335.5 771.1,1337C775.5,1338.4 780.3,1339.4 784.3,1339.2C788.4,1339.1 791.6,1337.6 795.7,1336C799.7,1334.4 804.5,1330.9 808.9,1329.4C813.3,1327.9 818,1327.1 822.1,1327.1C826.2,1327.1 829.3,1328.2 833.4,1329.4C837.5,1330.6 842.2,1333.2 846.6,1334.1C851,1335.1 855.7,1335.4 859.8,1335.1C863.9,1334.8 866.4,1333.5 871.1,1332.2C875.8,1331 882.8,1328.7 888.1,1327.5C893.5,1326.4 898.5,1325.3 903.2,1325.3C907.9,1325.3 912,1326 916.4,1327.5C920.8,1329 925.2,1332.2 929.6,1334.1C934,1336 938.7,1338.1 942.8,1338.8C946.9,1339.6 950.4,1339.6 954.2,1338.8C957.9,1338.1 961.7,1335.5 965.5,1334.1C969.2,1332.7 972.4,1331.2 976.8,1330.4C981.2,1329.5 986.2,1329.3 991.9,1329C997.5,1328.7 1005.1,1329 1010.8,1328.5C1016.4,1327.9 1021.1,1326.7 1025.8,1325.6C1030.6,1324.5 1035.3,1322.6 1039.1,1321.9C1042.8,1321.1 1045.3,1320.6 1048.5,1320.9C1051.6,1321.2 1054.8,1323 1057.9,1323.7C1061.1,1324.5 1063.7,1325.3 1067.4,1325.6C1071,1325.9 1075.4,1325.4 1080,1325.6C1084.6,1325.9 1088.8,1326.6 1095.1,1327C1101.4,1327.3 1110.2,1327.8 1117.7,1327.9C1125.3,1328 1132.5,1327.9 1140.4,1327.5C1148.2,1327.1 1156.1,1326.1 1164.9,1325.6C1173.7,1325.2 1184.7,1324.6 1193.2,1324.7C1201.7,1324.8 1208.9,1325.7 1215.8,1326.2C1222.8,1326.7 1229.1,1327.5 1234.7,1327.5C1240.4,1327.5 1244.8,1327 1249.8,1326.2C1254.8,1325.4 1260.2,1324.6 1264.9,1322.8C1269.6,1321 1273.7,1317 1278.1,1315.3C1282.5,1313.5 1286.9,1313.1 1291.3,1312.4C1295.7,1311.8 1300.8,1312.7 1304.5,1311.5C1308.3,1310.2 1310.8,1307.6 1314,1304.9C1317.1,1302.2 1320.3,1298.9 1323.4,1295.4C1326.5,1292 1329.7,1287.4 1332.8,1284.1C1336,1280.8 1338.8,1277.5 1342.3,1275.6C1345.7,1273.7 1349.2,1273 1353.6,1272.8C1358,1272.6 1364,1273.9 1368.7,1274.7C1373.4,1275.5 1377.8,1277 1381.9,1277.5C1386,1278.1 1389.1,1278.4 1393.2,1278.1C1397.3,1277.8 1402,1277 1406.4,1275.6C1410.8,1274.3 1415.8,1272.5 1419.6,1270C1423.4,1267.5 1425.6,1262.7 1429.1,1260.5C1432.5,1258.3 1436.9,1256.7 1440.4,1256.8C1443.9,1256.9 1446.6,1261.2 1450.2,1261.1C1453.8,1261 1458.7,1258.3 1462.1,1256C1465.5,1253.7 1468.3,1251.2 1470.6,1247.5C1472.8,1243.8 1474.4,1238.7 1475.7,1233.9C1476.9,1229.1 1477.5,1223.3 1478.2,1218.7C1478.9,1214 1479.2,1212.2 1479.9,1206.2C1480.6,1200.2 1481.6,1189.8 1482.5,1182.4C1483.3,1175.1 1484,1170.5 1485,1162C1486,1153.6 1487.3,1142 1488.4,1131.5C1489.5,1121 1490.7,1110 1491.8,1099.2C1492.9,1088.5 1493.9,1078.3 1495.2,1067C1496.5,1055.6 1498,1043.2 1499.4,1031.3C1500.8,1019.4 1502.4,1007.2 1503.7,995.6C1505,984 1506.1,971.6 1507.1,961.7C1508,951.8 1508.6,942.7 1509.3,936.2C1510,929.7 1510.4,929 1511.3,922.4C1512.2,915.9 1513.6,905.4 1514.7,897C1515.8,888.5 1517,880 1518.1,871.5C1519.2,863 1520.2,854.2 1521.5,846C1522.8,837.8 1524.3,829.6 1525.8,822.2C1527.2,814.9 1528.4,808.1 1530,801.9C1531.6,795.6 1533.1,790.5 1535.1,784.9C1537.1,779.2 1539.3,773.3 1541.9,767.9C1544.4,762.5 1547.5,757 1550.4,752.6C1553.2,748.2 1556,744.3 1558.9,741.6C1561.7,738.9 1564.5,737.5 1567.4,736.5C1570.2,735.5 1573,736 1575.8,735.6C1578.7,735.3 1581.5,735.5 1584.3,734.3C1587.2,733 1590.3,731.2 1592.8,728C1595.4,724.8 1597.4,719.1 1599.6,715.3C1601.9,711.4 1604,707.4 1606.4,705.1C1608.8,702.7 1611.8,701.3 1614.1,701.3C1616.3,701.3 1618,702.7 1620,705.1C1622,707.4 1624.1,709.9 1625.9,715.3C1627.8,720.6 1629.5,731 1631,737.3C1632.6,743.7 1633.7,747.4 1635.3,753.5C1636.8,759.5 1638.7,766.8 1640.4,773.8C1642.1,780.9 1643.5,787.9 1645.5,795.9C1647.5,804 1650,813.9 1652.3,822.2C1654.5,830.6 1656.8,838.4 1659.1,846C1661.3,853.7 1663.6,860.4 1665.8,868.1C1668.1,875.7 1670.7,884.2 1672.6,891.9C1674.6,899.5 1676.2,906.5 1677.7,913.9C1679.3,921.3 1680.6,926.8 1682,936.2C1683.4,945.6 1684.7,958.8 1686.2,970.2C1687.8,981.5 1689.6,992.8 1691.3,1004.1C1693,1015.4 1694.9,1026.8 1696.4,1038.1C1698,1049.4 1699.2,1060.7 1700.7,1072C1702.1,1083.4 1703.5,1094.7 1704.9,1106C1706.3,1117.3 1707.7,1130.6 1709.2,1140C1710.6,1149.3 1712.4,1156 1713.4,1162C1714.4,1168.1 1713.7,1170.4 1715.1,1176.2C1716.5,1182 1719.6,1191.2 1721.9,1196.6C1724.2,1202 1726.4,1204.5 1728.7,1208.5C1730.9,1212.4 1732.9,1216.7 1735.5,1220.4C1738,1224 1739.9,1227.1 1744,1230.5C1748.1,1233.9 1755.6,1239.4 1760,1240.7C1764.4,1242.1 1766.8,1239.3 1770.2,1238.7C1773.6,1238.1 1777,1236.9 1780.4,1237C1783.8,1237 1786.9,1237.8 1790.6,1239C1794.2,1240.2 1798.2,1242.6 1802.5,1244.1C1806.7,1245.7 1811.8,1247.9 1816,1248.4C1820.3,1248.9 1823.7,1247.6 1827.9,1247.2C1832.2,1246.8 1837.3,1245.5 1841.5,1245.8C1845.8,1246.2 1849.2,1247.8 1853.4,1249.2C1857.6,1250.6 1862.7,1252.9 1867,1254.3C1871.2,1255.7 1874.6,1256.7 1878.9,1257.7C1883.1,1258.7 1888.2,1259.1 1892.5,1260.3C1896.7,1261.4 1899.5,1263.7 1904.3,1264.5C1909.2,1265.4 1915.7,1265.1 1921.3,1265.4C1927,1265.6 1933.8,1265.5 1938.3,1266.2C1942.8,1266.9 1945.1,1268.2 1948.5,1269.6C1951.9,1271 1955.3,1273.1 1958.7,1274.7C1962.1,1276.2 1965.2,1278.1 1968.9,1278.9C1972.5,1279.7 1977.1,1279.6 1980.8,1279.4C1984.4,1279.2 1987.8,1278.3 1990.9,1277.7C1994.1,1277.2 1996.6,1276 1999.4,1276.4C2002.3,1276.7 2005.1,1277.8 2007.9,1279.8C2010.8,1281.8 2013.6,1286 2016.4,1288.3C2019.2,1290.5 2021.8,1291.4 2024.9,1293.4C2028,1295.4 2031.7,1297.8 2035.1,1300.2C2038.5,1302.6 2041.6,1305.5 2045.3,1307.8C2049,1310.1 2054,1312.2 2057.2,1313.7C2060.3,1315.3 2063.1,1316.7 2064.3,1317.3L2064.3,1324.9C2063.1,1324.3 2060.3,1322.9 2057.2,1321.3C2054,1319.8 2049,1317.7 2045.3,1315.4C2041.6,1313.1 2038.5,1310.2 2035.1,1307.8C2031.7,1305.4 2028,1303 2024.9,1301C2021.8,1299 2019.2,1298.1 2016.4,1295.9C2013.6,1293.6 2010.8,1289.4 2007.9,1287.4C2005.1,1285.4 2002.3,1284.3 1999.4,1284C1996.6,1283.6 1994.1,1284.8 1990.9,1285.3C1987.8,1285.9 1984.4,1286.8 1980.8,1287C1977.1,1287.2 1972.5,1287.3 1968.9,1286.5C1965.2,1285.7 1962.1,1283.8 1958.7,1282.3C1955.3,1280.7 1951.9,1278.6 1948.5,1277.2C1945.1,1275.8 1942.8,1274.5 1938.3,1273.8C1933.8,1273.1 1927,1273.2 1921.3,1273C1915.7,1272.7 1909.2,1273 1904.3,1272.1C1899.5,1271.3 1896.7,1269 1892.5,1267.9C1888.2,1266.7 1883.1,1266.3 1878.9,1265.3C1874.6,1264.3 1871.2,1263.3 1867,1261.9C1862.7,1260.5 1857.6,1258.2 1853.4,1256.8C1849.2,1255.4 1845.8,1253.8 1841.5,1253.4C1837.3,1253.1 1832.2,1254.4 1827.9,1254.8C1823.7,1255.2 1820.3,1256.5 1816,1256C1811.8,1255.5 1806.7,1253.3 1802.5,1251.7C1798.2,1250.2 1794.2,1247.8 1790.6,1246.6C1786.9,1245.4 1783.8,1244.6 1780.4,1244.6C1777,1244.5 1773.6,1245.7 1770.2,1246.3C1766.8,1246.9 1764.4,1249.7 1760,1248.3C1755.6,1247 1748.1,1241.5 1744,1238.1C1739.9,1234.7 1738,1231.6 1735.5,1228C1732.9,1224.3 1730.9,1220 1728.7,1216.1C1726.4,1212.1 1724.2,1209.6 1721.9,1204.2C1719.6,1198.8 1716.5,1189.6 1715.1,1183.8C1713.7,1178 1714.4,1175.7 1713.4,1169.6C1712.4,1163.6 1710.6,1156.9 1709.2,1147.6C1707.7,1138.2 1706.3,1124.9 1704.9,1113.6C1703.5,1102.3 1702.1,1091 1700.7,1079.6C1699.2,1068.3 1698,1057 1696.4,1045.7C1694.9,1034.4 1693,1023 1691.3,1011.7C1689.6,1000.4 1687.8,989.1 1686.2,977.8C1684.7,966.4 1683.4,953.2 1682,943.8C1680.6,934.4 1679.3,928.9 1677.7,921.5C1676.2,914.1 1674.6,907.1 1672.6,899.5C1670.7,891.8 1668.1,883.3 1665.8,875.7C1663.6,868 1661.3,861.3 1659.1,853.6C1656.8,846 1654.5,838.2 1652.3,829.8C1650,821.5 1647.5,811.6 1645.5,803.5C1643.5,795.5 1642.1,788.5 1640.4,781.4C1638.7,774.4 1636.8,767.1 1635.3,761.1C1633.7,755 1632.6,751.3 1631,744.9C1629.5,738.6 1627.8,728.2 1625.9,722.9C1624.1,717.5 1622,715 1620,712.7C1618,710.3 1616.3,708.9 1614.1,708.9C1611.8,708.9 1608.8,710.3 1606.4,712.7C1604,715 1601.9,719 1599.6,722.9C1597.4,726.7 1595.4,732.4 1592.8,735.6C1590.3,738.8 1587.2,740.6 1584.3,741.9C1581.5,743.1 1578.7,742.9 1575.8,743.2C1573,743.6 1570.2,743.1 1567.4,744.1C1564.5,745.1 1561.7,746.5 1558.9,749.2C1556,751.9 1553.2,755.8 1550.4,760.2C1547.5,764.6 1544.4,770.1 1541.9,775.5C1539.3,780.9 1537.1,786.8 1535.1,792.5C1533.1,798.1 1531.6,803.2 1530,809.5C1528.4,815.7 1527.2,822.5 1525.8,829.8C1524.3,837.2 1522.8,845.4 1521.5,853.6C1520.2,861.8 1519.2,870.6 1518.1,879.1C1517,887.6 1515.8,896.1 1514.7,904.6C1513.6,913 1512.2,923.5 1511.3,930C1510.4,936.6 1510,937.3 1509.3,943.8C1508.6,950.3 1508,959.4 1507.1,969.3C1506.1,979.2 1505,991.6 1503.7,1003.2C1502.4,1014.8 1500.8,1027 1499.4,1038.9C1498,1050.8 1496.5,1063.2 1495.2,1074.6C1493.9,1085.9 1492.9,1096.1 1491.8,1106.8C1490.7,1117.6 1489.5,1128.6 1488.4,1139.1C1487.3,1149.6 1486,1161.2 1485,1169.6C1484,1178.1 1483.3,1182.7 1482.5,1190C1481.6,1197.4 1480.6,1207.8 1479.9,1213.8C1479.2,1219.8 1478.9,1221.6 1478.2,1226.3C1477.5,1230.9 1476.9,1236.7 1475.7,1241.5C1474.4,1246.3 1472.8,1251.4 1470.6,1255.1C1468.3,1258.8 1465.5,1261.3 1462.1,1263.6C1458.7,1265.9 1453.8,1268.6 1450.2,1268.7C1446.6,1268.8 1443.9,1264.5 1440.4,1264.4C1436.9,1264.3 1432.5,1265.9 1429.1,1268.1C1425.6,1270.3 1423.4,1275.1 1419.6,1277.6C1415.8,1280.1 1410.8,1281.9 1406.4,1283.2C1402,1284.6 1397.3,1285.4 1393.2,1285.7C1389.1,1286 1386,1285.7 1381.9,1285.1C1377.8,1284.6 1373.4,1283.1 1368.7,1282.3C1364,1281.5 1358,1280.2 1353.6,1280.4C1349.2,1280.6 1345.7,1281.3 1342.3,1283.2C1338.8,1285.1 1336,1288.4 1332.8,1291.7C1329.7,1295 1326.5,1299.6 1323.4,1303C1320.3,1306.5 1317.1,1309.8 1314,1312.5C1310.8,1315.2 1308.3,1317.8 1304.5,1319.1C1300.8,1320.3 1295.7,1319.4 1291.3,1320C1286.9,1320.7 1282.5,1321.1 1278.1,1322.9C1273.7,1324.6 1269.6,1328.6 1264.9,1330.4C1260.2,1332.2 1254.8,1333 1249.8,1333.8C1244.8,1334.6 1240.4,1335.1 1234.7,1335.1C1229.1,1335.1 1222.8,1334.3 1215.8,1333.8C1208.9,1333.3 1201.7,1332.4 1193.2,1332.3C1184.7,1332.2 1173.7,1332.8 1164.9,1333.2C1156.1,1333.7 1148.2,1334.7 1140.4,1335.1C1132.5,1335.5 1125.3,1335.6 1117.7,1335.5C1110.2,1335.4 1101.4,1334.9 1095.1,1334.6C1088.8,1334.2 1084.6,1333.5 1080,1333.2C1075.4,1333 1071,1333.5 1067.4,1333.2C1063.7,1332.9 1061.1,1332.1 1057.9,1331.3C1054.8,1330.6 1051.6,1328.8 1048.5,1328.5C1045.3,1328.2 1042.8,1328.7 1039.1,1329.5C1035.3,1330.2 1030.6,1332.1 1025.8,1333.2C1021.1,1334.3 1016.4,1335.5 1010.8,1336.1C1005.1,1336.6 997.5,1336.3 991.9,1336.6C986.2,1336.9 981.2,1337.1 976.8,1338C972.4,1338.8 969.2,1340.3 965.5,1341.7C961.7,1343.1 957.9,1345.7 954.2,1346.4C950.4,1347.2 946.9,1347.2 942.8,1346.4C938.7,1345.7 934,1343.6 929.6,1341.7C925.2,1339.8 920.8,1336.6 916.4,1335.1C912,1333.6 907.9,1332.9 903.2,1332.9C898.5,1332.9 893.5,1334 888.1,1335.1C882.8,1336.3 875.8,1338.6 871.1,1339.8C866.4,1341.1 863.9,1342.4 859.8,1342.7C855.7,1343 851,1342.7 846.6,1341.7C842.2,1340.8 837.5,1338.2 833.4,1337C829.3,1335.8 826.2,1334.7 822.1,1334.7C818,1334.7 813.3,1335.5 808.9,1337C804.5,1338.5 799.7,1342 795.7,1343.6C791.6,1345.2 788.4,1346.7 784.3,1346.8C780.3,1347 775.5,1346 771.1,1344.6C766.7,1343.1 762.3,1340.3 757.9,1338C753.5,1335.6 749.1,1332 744.7,1330.4C740.3,1328.8 735.9,1327.9 731.5,1328.5C727.1,1329.1 722.7,1331.9 718.3,1334.2C713.9,1336.5 709.8,1340.7 705.1,1342.3C700.4,1343.9 694.6,1343.7 690,1344C685.4,1344.3 682.6,1344.1 677.4,1344C672.1,1343.9 664.8,1344 658.5,1343.6C652.2,1343.2 645.9,1342.5 639.6,1341.7C633.3,1340.9 627,1339.7 620.8,1338.9C614.5,1338.1 608.2,1337 601.9,1337C595.6,1337 589.3,1337.6 583,1338.9C576.7,1340.2 568.9,1343 564.2,1344.6C559.4,1346.1 557.9,1347.1 554.7,1348.3C551.6,1349.6 550,1350.8 545.3,1352.1C540.6,1353.4 532.7,1354.9 526.4,1355.9C520.1,1356.8 513.8,1357.5 507.5,1357.8C501.3,1358 495,1357.7 488.7,1357.4C482.4,1357.1 476.1,1356.4 469.8,1355.9C463.5,1355.3 457.2,1354.6 450.9,1354C444.7,1353.4 438.4,1352.7 432.1,1352.1C425.8,1351.5 419.5,1351.2 413.2,1350.6C406.9,1350 400.6,1349.3 394.3,1348.3C388.1,1347.3 381.8,1346.2 375.5,1344.6C369.2,1342.9 362.3,1340.6 356.6,1338.5C350.9,1336.4 346.1,1334 341.5,1332.1C336.9,1330.2 332.5,1328.9 329.1,1327.4C325.7,1325.8 323.5,1324.1 321.1,1322.9C318.7,1321.7 317.3,1320.7 314.7,1320.2C312.1,1319.7 308.5,1320 305.7,1319.8C302.8,1319.7 299,1319.6 297.7,1319.5Z"/><path d="M293.9,1315.7C295.2,1315.8 299,1315.9 301.9,1316C304.7,1316.2 308.3,1315.9 310.9,1316.4C313.5,1316.9 314.9,1317.9 317.3,1319.1C319.7,1320.3 321.9,1322 325.3,1323.6C328.7,1325.1 333.1,1326.4 337.7,1328.3C342.3,1330.2 347.1,1332.6 352.8,1334.7C358.5,1336.8 365.4,1339.1 371.7,1340.8C378,1342.4 384.3,1343.5 390.5,1344.5C396.8,1345.5 403.1,1346.2 409.4,1346.8C415.7,1347.4 422,1347.7 428.3,1348.3C434.6,1348.9 440.9,1349.6 447.1,1350.2C453.4,1350.8 459.7,1351.5 466,1352.1C472.3,1352.6 478.6,1353.3 484.9,1353.6C491.2,1353.9 497.5,1354.2 503.7,1354C510,1353.7 516.3,1353 522.6,1352.1C528.9,1351.1 536.8,1349.6 541.5,1348.3C546.2,1347 547.8,1345.8 550.9,1344.5C554.1,1343.3 555.6,1342.3 560.4,1340.8C565.1,1339.2 572.9,1336.4 579.2,1335.1C585.5,1333.8 591.8,1333.2 598.1,1333.2C604.4,1333.2 610.7,1334.3 617,1335.1C623.2,1335.9 629.5,1337.1 635.8,1337.9C642.1,1338.7 648.4,1339.4 654.7,1339.8C661,1340.2 668.3,1340.1 673.6,1340.2C678.8,1340.3 681.6,1340.5 686.2,1340.2C690.8,1339.9 696.6,1340.1 701.3,1338.5C706,1336.9 710.1,1332.7 714.5,1330.4C718.9,1328.1 723.3,1325.3 727.7,1324.7C732.1,1324.1 736.5,1325 740.9,1326.6C745.3,1328.2 749.7,1331.8 754.1,1334.2C758.5,1336.5 762.9,1339.3 767.3,1340.8C771.7,1342.2 776.5,1343.2 780.5,1343C784.6,1342.9 787.8,1341.4 791.9,1339.8C795.9,1338.2 800.7,1334.7 805.1,1333.2C809.5,1331.7 814.2,1330.9 818.3,1330.9C822.4,1330.9 825.5,1332 829.6,1333.2C833.7,1334.4 838.4,1337 842.8,1337.9C847.2,1338.9 851.9,1339.2 856,1338.9C860.1,1338.6 862.6,1337.3 867.3,1336C872,1334.8 879,1332.5 884.3,1331.3C889.7,1330.2 894.7,1329.1 899.4,1329.1C904.1,1329.1 908.2,1329.8 912.6,1331.3C917,1332.8 921.4,1336 925.8,1337.9C930.2,1339.8 934.9,1341.9 939,1342.6C943.1,1343.4 946.6,1343.4 950.4,1342.6C954.1,1341.9 957.9,1339.3 961.7,1337.9C965.4,1336.5 968.6,1335 973,1334.2C977.4,1333.3 982.4,1333.1 988.1,1332.8C993.7,1332.5 1001.3,1332.8 1007,1332.3C1012.6,1331.7 1017.3,1330.5 1022,1329.4C1026.8,1328.3 1031.5,1326.4 1035.3,1325.7C1039,1324.9 1041.5,1324.4 1044.7,1324.7C1047.8,1325 1051,1326.8 1054.1,1327.5C1057.3,1328.3 1059.9,1329.1 1063.6,1329.4C1067.2,1329.7 1071.6,1329.2 1076.2,1329.4C1080.8,1329.7 1085,1330.4 1091.3,1330.8C1097.6,1331.1 1106.4,1331.6 1113.9,1331.7C1121.5,1331.8 1128.7,1331.7 1136.6,1331.3C1144.4,1330.9 1152.3,1329.9 1161.1,1329.4C1169.9,1329 1180.9,1328.4 1189.4,1328.5C1197.9,1328.6 1205.1,1329.5 1212,1330C1219,1330.5 1225.3,1331.3 1230.9,1331.3C1236.6,1331.3 1241,1330.8 1246,1330C1251,1329.2 1256.4,1328.4 1261.1,1326.6C1265.8,1324.8 1269.9,1320.8 1274.3,1319.1C1278.7,1317.3 1283.1,1316.9 1287.5,1316.2C1291.9,1315.6 1297,1316.5 1300.7,1315.3C1304.5,1314 1307,1311.4 1310.2,1308.7C1313.3,1306 1316.5,1302.7 1319.6,1299.2C1322.7,1295.8 1325.9,1291.2 1329,1287.9C1332.2,1284.6 1335,1281.3 1338.5,1279.4C1341.9,1277.5 1345.4,1276.8 1349.8,1276.6C1354.2,1276.4 1360.2,1277.7 1364.9,1278.5C1369.6,1279.3 1374,1280.8 1378.1,1281.3C1382.2,1281.9 1385.3,1282.2 1389.4,1281.9C1393.5,1281.6 1398.2,1280.8 1402.6,1279.4C1407,1278.1 1412,1276.3 1415.8,1273.8C1419.6,1271.3 1421.8,1266.5 1425.3,1264.3C1428.7,1262.1 1433.1,1260.5 1436.6,1260.6C1440.1,1260.7 1442.8,1265 1446.4,1264.9C1450,1264.8 1454.9,1262.1 1458.3,1259.8C1461.7,1257.5 1464.5,1255 1466.8,1251.3C1469,1247.6 1470.6,1242.5 1471.9,1237.7C1473.1,1232.9 1473.7,1227.1 1474.4,1222.5C1475.1,1217.8 1475.4,1216 1476.1,1210C1476.8,1204 1477.8,1193.6 1478.7,1186.2C1479.5,1178.9 1480.2,1174.3 1481.2,1165.8C1482.2,1157.4 1483.5,1145.8 1484.6,1135.3C1485.7,1124.8 1486.9,1113.8 1488,1103C1489.1,1092.3 1490.1,1082.1 1491.4,1070.8C1492.7,1059.4 1494.2,1047 1495.6,1035.1C1497,1023.2 1498.6,1011 1499.9,999.4C1501.2,987.8 1502.3,975.4 1503.3,965.5C1504.2,955.6 1504.8,946.5 1505.5,940C1506.2,933.5 1506.6,932.8 1507.5,926.2C1508.4,919.7 1509.8,909.2 1510.9,900.8C1512,892.3 1513.2,883.8 1514.3,875.3C1515.4,866.8 1516.4,858 1517.7,849.8C1519,841.6 1520.5,833.4 1522,826C1523.4,818.7 1524.6,811.9 1526.2,805.7C1527.8,799.4 1529.3,794.3 1531.3,788.7C1533.3,783 1535.5,777.1 1538.1,771.7C1540.6,766.3 1543.7,760.8 1546.6,756.4C1549.4,752 1552.2,748.1 1555.1,745.4C1557.9,742.7 1560.7,741.3 1563.6,740.3C1566.4,739.3 1569.2,739.8 1572,739.4C1574.9,739.1 1577.7,739.3 1580.5,738.1C1583.4,736.8 1586.5,735 1589,731.8C1591.6,728.6 1593.6,722.9 1595.8,719.1C1598.1,715.2 1600.2,711.2 1602.6,708.9C1605,706.5 1608,705.1 1610.3,705.1C1612.5,705.1 1614.2,706.5 1616.2,708.9C1618.2,711.2 1620.3,713.7 1622.1,719.1C1624,724.4 1625.7,734.8 1627.2,741.1C1628.8,747.5 1629.9,751.2 1631.5,757.3C1633,763.3 1634.9,770.6 1636.6,777.6C1638.3,784.7 1639.7,791.7 1641.7,799.7C1643.7,807.8 1646.2,817.7 1648.5,826C1650.7,834.4 1653,842.2 1655.3,849.8C1657.5,857.5 1659.8,864.2 1662,871.9C1664.3,879.5 1666.9,888 1668.8,895.7C1670.8,903.3 1672.4,910.3 1673.9,917.7C1675.5,925.1 1676.8,930.6 1678.2,940C1679.6,949.4 1680.9,962.6 1682.4,974C1684,985.3 1685.8,996.6 1687.5,1007.9C1689.2,1019.2 1691.1,1030.6 1692.6,1041.9C1694.2,1053.2 1695.4,1064.5 1696.9,1075.8C1698.3,1087.2 1699.7,1098.5 1701.1,1109.8C1702.5,1121.1 1703.9,1134.4 1705.4,1143.8C1706.8,1153.1 1708.6,1159.8 1709.6,1165.8C1710.6,1171.9 1709.9,1174.2 1711.3,1180C1712.7,1185.8 1715.8,1195 1718.1,1200.4C1720.4,1205.8 1722.6,1208.3 1724.9,1212.3C1727.1,1216.2 1729.1,1220.5 1731.7,1224.2C1734.2,1227.8 1736.1,1230.9 1740.2,1234.3C1744.3,1237.7 1751.8,1243.2 1756.2,1244.5C1760.6,1245.9 1763,1243.1 1766.4,1242.5C1769.8,1241.9 1773.2,1240.7 1776.6,1240.8C1780,1240.8 1783.1,1241.6 1786.8,1242.8C1790.4,1244 1794.4,1246.4 1798.7,1247.9C1802.9,1249.5 1808,1251.7 1812.2,1252.2C1816.5,1252.7 1819.9,1251.4 1824.1,1251C1828.4,1250.6 1833.5,1249.3 1837.7,1249.6C1842,1250 1845.4,1251.6 1849.6,1253C1853.8,1254.4 1858.9,1256.7 1863.2,1258.1C1867.4,1259.5 1870.8,1260.5 1875.1,1261.5C1879.3,1262.5 1884.4,1262.9 1888.7,1264.1C1892.9,1265.2 1895.7,1267.5 1900.5,1268.3C1905.4,1269.2 1911.9,1268.9 1917.5,1269.2C1923.2,1269.4 1930,1269.3 1934.5,1270C1939,1270.7 1941.3,1272 1944.7,1273.4C1948.1,1274.8 1951.5,1276.9 1954.9,1278.5C1958.3,1280 1961.4,1281.9 1965.1,1282.7C1968.7,1283.5 1973.3,1283.4 1977,1283.2C1980.6,1283 1984,1282.1 1987.1,1281.5C1990.3,1281 1992.8,1279.8 1995.6,1280.2C1998.5,1280.5 2001.3,1281.6 2004.1,1283.6C2007,1285.6 2009.8,1289.8 2012.6,1292.1C2015.4,1294.3 2018,1295.2 2021.1,1297.2C2024.2,1299.2 2027.9,1301.6 2031.3,1304C2034.7,1306.4 2037.8,1309.3 2041.5,1311.6C2045.2,1313.9 2050.2,1316 2053.4,1317.5C2056.5,1319.1 2059.3,1320.5 2060.5,1321.1L2068.1,1321.1C2066.9,1320.5 2064.1,1319.1 2061,1317.5C2057.8,1316 2052.8,1313.9 2049.1,1311.6C2045.4,1309.3 2042.3,1306.4 2038.9,1304C2035.5,1301.6 2031.8,1299.2 2028.7,1297.2C2025.6,1295.2 2023,1294.3 2020.2,1292.1C2017.4,1289.8 2014.6,1285.6 2011.7,1283.6C2008.9,1281.6 2006.1,1280.5 2003.2,1280.2C2000.4,1279.8 1997.9,1281 1994.7,1281.5C1991.6,1282.1 1988.2,1283 1984.6,1283.2C1980.9,1283.4 1976.3,1283.5 1972.7,1282.7C1969,1281.9 1965.9,1280 1962.5,1278.5C1959.1,1276.9 1955.7,1274.8 1952.3,1273.4C1948.9,1272 1946.6,1270.7 1942.1,1270C1937.6,1269.3 1930.8,1269.4 1925.1,1269.2C1919.5,1268.9 1913,1269.2 1908.1,1268.3C1903.3,1267.5 1900.5,1265.2 1896.3,1264.1C1892,1262.9 1886.9,1262.5 1882.7,1261.5C1878.4,1260.5 1875,1259.5 1870.8,1258.1C1866.5,1256.7 1861.4,1254.4 1857.2,1253C1853,1251.6 1849.6,1250 1845.3,1249.6C1841.1,1249.3 1836,1250.6 1831.7,1251C1827.5,1251.4 1824.1,1252.7 1819.8,1252.2C1815.6,1251.7 1810.5,1249.5 1806.3,1247.9C1802,1246.4 1798,1244 1794.4,1242.8C1790.7,1241.6 1787.6,1240.8 1784.2,1240.8C1780.8,1240.7 1777.4,1241.9 1774,1242.5C1770.6,1243.1 1768.2,1245.9 1763.8,1244.5C1759.4,1243.2 1751.9,1237.7 1747.8,1234.3C1743.7,1230.9 1741.8,1227.8 1739.3,1224.2C1736.7,1220.5 1734.7,1216.2 1732.5,1212.3C1730.2,1208.3 1728,1205.8 1725.7,1200.4C1723.4,1195 1720.3,1185.8 1718.9,1180C1717.5,1174.2 1718.2,1171.9 1717.2,1165.8C1716.2,1159.8 1714.4,1153.1 1713,1143.8C1711.5,1134.4 1710.1,1121.1 1708.7,1109.8C1707.3,1098.5 1705.9,1087.2 1704.5,1075.8C1703,1064.5 1701.8,1053.2 1700.2,1041.9C1698.7,1030.6 1696.8,1019.2 1695.1,1007.9C1693.4,996.6 1691.6,985.3 1690,974C1688.5,962.6 1687.2,949.4 1685.8,940C1684.4,930.6 1683.1,925.1 1681.5,917.7C1680,910.3 1678.4,903.3 1676.4,895.7C1674.5,888 1671.9,879.5 1669.6,871.9C1667.4,864.2 1665.1,857.5 1662.9,849.8C1660.6,842.2 1658.3,834.4 1656.1,826C1653.8,817.7 1651.3,807.8 1649.3,799.7C1647.3,791.7 1645.9,784.7 1644.2,777.6C1642.5,770.6 1640.6,763.3 1639.1,757.3C1637.5,751.2 1636.4,747.5 1634.8,741.1C1633.3,734.8 1631.6,724.4 1629.7,719.1C1627.9,713.7 1625.8,711.2 1623.8,708.9C1621.8,706.5 1620.1,705.1 1617.9,705.1C1615.6,705.1 1612.6,706.5 1610.2,708.9C1607.8,711.2 1605.7,715.2 1603.4,719.1C1601.2,722.9 1599.2,728.6 1596.6,731.8C1594.1,735 1591,736.8 1588.1,738.1C1585.3,739.3 1582.5,739.1 1579.6,739.4C1576.8,739.8 1574,739.3 1571.2,740.3C1568.3,741.3 1565.5,742.7 1562.7,745.4C1559.8,748.1 1557,752 1554.2,756.4C1551.3,760.8 1548.2,766.3 1545.7,771.7C1543.1,777.1 1540.9,783 1538.9,788.7C1536.9,794.3 1535.4,799.4 1533.8,805.7C1532.2,811.9 1531,818.7 1529.6,826C1528.1,833.4 1526.6,841.6 1525.3,849.8C1524,858 1523,866.8 1521.9,875.3C1520.8,883.8 1519.6,892.3 1518.5,900.8C1517.4,909.2 1516,919.7 1515.1,926.2C1514.2,932.8 1513.8,933.5 1513.1,940C1512.4,946.5 1511.8,955.6 1510.9,965.5C1509.9,975.4 1508.8,987.8 1507.5,999.4C1506.2,1011 1504.6,1023.2 1503.2,1035.1C1501.8,1047 1500.3,1059.4 1499,1070.8C1497.7,1082.1 1496.7,1092.3 1495.6,1103C1494.5,1113.8 1493.3,1124.8 1492.2,1135.3C1491.1,1145.8 1489.8,1157.4 1488.8,1165.8C1487.8,1174.3 1487.1,1178.9 1486.3,1186.2C1485.4,1193.6 1484.4,1204 1483.7,1210C1483,1216 1482.7,1217.8 1482,1222.5C1481.3,1227.1 1480.7,1232.9 1479.5,1237.7C1478.2,1242.5 1476.6,1247.6 1474.4,1251.3C1472.1,1255 1469.3,1257.5 1465.9,1259.8C1462.5,1262.1 1457.6,1264.8 1454,1264.9C1450.4,1265 1447.7,1260.7 1444.2,1260.6C1440.7,1260.5 1436.3,1262.1 1432.9,1264.3C1429.4,1266.5 1427.2,1271.3 1423.4,1273.8C1419.6,1276.3 1414.6,1278.1 1410.2,1279.4C1405.8,1280.8 1401.1,1281.6 1397,1281.9C1392.9,1282.2 1389.8,1281.9 1385.7,1281.3C1381.6,1280.8 1377.2,1279.3 1372.5,1278.5C1367.8,1277.7 1361.8,1276.4 1357.4,1276.6C1353,1276.8 1349.5,1277.5 1346.1,1279.4C1342.6,1281.3 1339.8,1284.6 1336.6,1287.9C1333.5,1291.2 1330.3,1295.8 1327.2,1299.2C1324.1,1302.7 1320.9,1306 1317.8,1308.7C1314.6,1311.4 1312.1,1314 1308.3,1315.3C1304.6,1316.5 1299.5,1315.6 1295.1,1316.2C1290.7,1316.9 1286.3,1317.3 1281.9,1319.1C1277.5,1320.8 1273.4,1324.8 1268.7,1326.6C1264,1328.4 1258.6,1329.2 1253.6,1330C1248.6,1330.8 1244.2,1331.3 1238.5,1331.3C1232.9,1331.3 1226.6,1330.5 1219.6,1330C1212.7,1329.5 1205.5,1328.6 1197,1328.5C1188.5,1328.4 1177.5,1329 1168.7,1329.4C1159.9,1329.9 1152,1330.9 1144.2,1331.3C1136.3,1331.7 1129.1,1331.8 1121.5,1331.7C1114,1331.6 1105.2,1331.1 1098.9,1330.8C1092.6,1330.4 1088.4,1329.7 1083.8,1329.4C1079.2,1329.2 1074.8,1329.7 1071.2,1329.4C1067.5,1329.1 1064.9,1328.3 1061.7,1327.5C1058.6,1326.8 1055.4,1325 1052.3,1324.7C1049.1,1324.4 1046.6,1324.9 1042.9,1325.7C1039.1,1326.4 1034.4,1328.3 1029.6,1329.4C1024.9,1330.5 1020.2,1331.7 1014.6,1332.3C1008.9,1332.8 1001.3,1332.5 995.7,1332.8C990,1333.1 985,1333.3 980.6,1334.2C976.2,1335 973,1336.5 969.3,1337.9C965.5,1339.3 961.7,1341.9 958,1342.6C954.2,1343.4 950.7,1343.4 946.6,1342.6C942.5,1341.9 937.8,1339.8 933.4,1337.9C929,1336 924.6,1332.8 920.2,1331.3C915.8,1329.8 911.7,1329.1 907,1329.1C902.3,1329.1 897.3,1330.2 891.9,1331.3C886.6,1332.5 879.6,1334.8 874.9,1336C870.2,1337.3 867.7,1338.6 863.6,1338.9C859.5,1339.2 854.8,1338.9 850.4,1337.9C846,1337 841.3,1334.4 837.2,1333.2C833.1,1332 830,1330.9 825.9,1330.9C821.8,1330.9 817.1,1331.7 812.7,1333.2C808.3,1334.7 803.5,1338.2 799.5,1339.8C795.4,1341.4 792.2,1342.9 788.1,1343C784.1,1343.2 779.3,1342.2 774.9,1340.8C770.5,1339.3 766.1,1336.5 761.7,1334.2C757.3,1331.8 752.9,1328.2 748.5,1326.6C744.1,1325 739.7,1324.1 735.3,1324.7C730.9,1325.3 726.5,1328.1 722.1,1330.4C717.7,1332.7 713.6,1336.9 708.9,1338.5C704.2,1340.1 698.4,1339.9 693.8,1340.2C689.2,1340.5 686.4,1340.3 681.2,1340.2C675.9,1340.1 668.6,1340.2 662.3,1339.8C656,1339.4 649.7,1338.7 643.4,1337.9C637.1,1337.1 630.8,1335.9 624.6,1335.1C618.3,1334.3 612,1333.2 605.7,1333.2C599.4,1333.2 593.1,1333.8 586.8,1335.1C580.5,1336.4 572.7,1339.2 568,1340.8C563.2,1342.3 561.7,1343.3 558.5,1344.5C555.4,1345.8 553.8,1347 549.1,1348.3C544.4,1349.6 536.5,1351.1 530.2,1352.1C523.9,1353 517.6,1353.7 511.3,1354C505.1,1354.2 498.8,1353.9 492.5,1353.6C486.2,1353.3 479.9,1352.6 473.6,1352.1C467.3,1351.5 461,1350.8 454.7,1350.2C448.5,1349.6 442.2,1348.9 435.9,1348.3C429.6,1347.7 423.3,1347.4 417,1346.8C410.7,1346.2 404.4,1345.5 398.1,1344.5C391.9,1343.5 385.6,1342.4 379.3,1340.8C373,1339.1 366.1,1336.8 360.4,1334.7C354.7,1332.6 349.9,1330.2 345.3,1328.3C340.7,1326.4 336.3,1325.1 332.9,1323.6C329.5,1322 327.3,1320.3 324.9,1319.1C322.5,1317.9 321.1,1316.9 318.5,1316.4C315.9,1315.9 312.3,1316.2 309.5,1316C306.6,1315.9 302.8,1315.8 301.5,1315.7Z"/></g>
<g fill="#0000ff"><path d="M301.4,1316.6C302.8,1316.5 305,1316.4 309.4,1316.2C313.9,1316 322,1315.4 328.3,1315.3C334.6,1315.1 340.9,1314.8 347.2,1315.1C353.5,1315.3 359.7,1315.9 366,1316.6C372.3,1317.3 379.2,1318.7 384.9,1319.4C390.6,1320.2 395.3,1320.4 400,1321.1C404.7,1321.8 406.3,1321.9 413.2,1323.4C420.1,1324.8 432.1,1327.7 441.5,1329.8C450.9,1331.9 461.9,1334.4 469.8,1336C477.7,1337.6 482.4,1338.4 488.7,1339.2C495,1340.1 501.3,1340.7 507.5,1341.1C513.8,1341.5 520.1,1341.6 526.4,1341.7C532.7,1341.7 539,1341.8 545.3,1341.3C551.6,1340.8 557.9,1339.9 564.2,1338.8C570.4,1337.8 576.7,1336.3 583,1335.1C589.3,1333.8 595.6,1332.6 601.9,1331.3C608.2,1330 614.5,1328.8 620.8,1327.5C627,1326.3 633.3,1325.2 639.6,1323.7C645.9,1322.3 652.2,1320.6 658.5,1319C664.8,1317.5 672.1,1315.6 677.4,1314.3C682.6,1313.1 684.7,1312.1 690,1311.5C695.3,1310.9 702.6,1310.9 708.9,1310.5C715.2,1310.2 721.4,1309.4 727.7,1309.2C734,1309 740.3,1309.3 746.6,1309.2C752.9,1309.2 759.8,1309.5 765.5,1309C771.1,1308.6 775.5,1307.7 780.6,1306.4C785.6,1305.1 790.3,1302.6 795.7,1301.1C801,1299.7 806.7,1298.8 812.6,1297.7C818.6,1296.6 825.8,1295.7 831.5,1294.5C837.2,1293.3 841.9,1291.5 846.6,1290.7C851.3,1289.9 856,1289.6 859.8,1289.8C863.6,1289.9 866.1,1290.9 869.2,1291.7C872.4,1292.5 874,1293.9 878.7,1294.5C883.4,1295.1 891.9,1294.9 897.5,1295.1C903.2,1295.2 907.9,1294.6 912.6,1295.4C917.4,1296.3 921.4,1298.6 925.8,1300.2C930.3,1301.7 934.3,1304.1 939.1,1304.9C943.8,1305.7 949.7,1305.5 954.2,1304.9C958.6,1304.3 961.7,1302 965.5,1301.1C969.2,1300.2 972.7,1299.2 976.8,1299.2C980.9,1299.3 985,1300.2 990,1301.5C995,1302.7 1001.9,1305.6 1007,1306.8C1012,1308 1014.8,1308.4 1020.2,1308.7C1025.5,1308.9 1032.8,1308.7 1039.1,1308.3C1045.3,1307.9 1051.1,1307.1 1057.9,1306.4C1064.7,1305.7 1072.5,1304.3 1080,1303.9C1087.5,1303.5 1095.4,1304 1102.6,1303.9C1109.9,1303.9 1117.7,1304.2 1123.4,1303.6C1129.1,1302.9 1131.3,1301.2 1136.6,1300.2C1141.9,1299.1 1149.2,1298.5 1155.5,1297.3C1161.8,1296.2 1168.7,1294.3 1174.3,1293.2C1180,1292 1185,1290.6 1189.4,1290.4C1193.8,1290.1 1197,1291.1 1200.8,1291.7C1204.5,1292.2 1207,1293.3 1212.1,1293.6C1217.1,1293.8 1224.7,1293.5 1230.9,1293.2C1237.2,1292.9 1244.2,1292.1 1249.8,1291.7C1255.5,1291.3 1260.8,1291.7 1264.9,1290.7C1269,1289.8 1271.2,1288.1 1274.3,1286C1277.5,1284 1280.6,1281.1 1283.8,1278.5C1286.9,1275.8 1290.1,1272.2 1293.2,1270C1296.4,1267.8 1299.8,1266.3 1302.6,1265.3C1305.5,1264.2 1307.4,1263.7 1310.2,1263.7C1313,1263.8 1316.2,1264.7 1319.6,1265.6C1323.1,1266.6 1326.9,1268.7 1330.9,1269.4C1335,1270.1 1340.4,1270.4 1344.2,1270C1347.9,1269.6 1349.8,1268.6 1353.6,1267.1C1357.4,1265.7 1362.1,1263.4 1366.8,1261.5C1371.5,1259.6 1376.9,1258.2 1381.9,1255.8C1386.9,1253.5 1392.3,1250.2 1397,1247.3C1401.7,1244.5 1405.8,1241.2 1410.2,1238.8C1414.6,1236.5 1418.4,1234.4 1423.4,1233.2C1428.4,1231.9 1435.5,1232.4 1440,1231.4C1444.5,1230.4 1447.1,1229.3 1450.2,1227.1C1453.3,1225 1455.8,1221.8 1458.7,1218.7C1461.5,1215.5 1464.1,1213.1 1467.2,1208.5C1470.3,1203.8 1474,1196.1 1477.4,1190.9C1480.8,1185.7 1484.2,1181.2 1487.5,1177.3C1490.9,1173.5 1494.3,1170 1497.7,1168C1501.1,1166 1504.8,1166.3 1507.9,1165.4C1511,1164.6 1513.6,1164.6 1516.4,1162.9C1519.2,1161.2 1522.2,1158.5 1524.9,1155.3C1527.6,1152 1530.3,1147.3 1532.5,1143.4C1534.8,1139.4 1536.7,1136.3 1538.5,1131.5C1540.3,1126.7 1541.9,1120.2 1543.6,1114.5C1545.3,1108.8 1547,1102.9 1548.7,1097.5C1550.4,1092.1 1552.1,1087 1553.8,1082.2C1555.5,1077.4 1557.2,1072.9 1558.9,1068.7C1560.6,1064.4 1562.3,1060.4 1564,1056.8C1565.7,1053.1 1567.1,1049 1569.1,1046.6C1571,1044.2 1573.3,1043.1 1575.8,1042.3C1578.4,1041.5 1581.5,1042 1584.3,1041.8C1587.2,1041.7 1590,1042.4 1592.8,1041.5C1595.7,1040.6 1598.5,1038.9 1601.3,1036.4C1604.2,1033.8 1607.3,1029.9 1609.8,1026.2C1612.4,1022.5 1614.3,1018 1616.6,1014.3C1618.9,1010.6 1621.4,1007.2 1623.4,1004.1C1625.4,1001 1626.7,997.8 1628.5,995.6C1630.3,993.5 1632.5,991.4 1634.4,991.4C1636.4,991.4 1638.4,992.9 1640.4,995.6C1642.4,998.3 1644.3,1002.1 1646.3,1007.5C1648.3,1012.9 1650.4,1021.1 1652.3,1027.9C1654.1,1034.7 1655.7,1041.5 1657.4,1048.3C1659.1,1055.1 1660.8,1061.9 1662.5,1068.7C1664.2,1075.4 1665.8,1082.5 1667.5,1089C1669.2,1095.5 1670.9,1101.8 1672.6,1107.7C1674.3,1113.7 1676,1119.6 1677.7,1124.7C1679.4,1129.8 1680.8,1133.7 1682.8,1138.3C1684.8,1142.8 1687.4,1147.9 1689.6,1151.9C1691.9,1155.8 1694.2,1158.7 1696.4,1162C1698.7,1165.4 1700.4,1167.6 1703.2,1172.2C1706,1176.9 1710.6,1185.2 1713.4,1189.8C1716.2,1194.4 1717.6,1197.1 1720.2,1200C1722.7,1202.8 1725.8,1204.9 1728.7,1206.8C1731.5,1208.6 1734.3,1210.2 1737.2,1211C1740,1211.9 1741.9,1212.1 1745.7,1211.9C1749.5,1211.6 1755.3,1209.8 1760,1209.3C1764.7,1208.8 1769.3,1208.8 1773.6,1209C1777.8,1209.1 1781.5,1209.4 1785.5,1210.2C1789.4,1210.9 1793.1,1212.8 1797.4,1213.6C1801.6,1214.4 1806.4,1215.1 1810.9,1214.9C1815.5,1214.8 1820,1213.2 1824.5,1212.7C1829.1,1212.2 1833.6,1211.9 1838.1,1211.9C1842.6,1211.9 1847.7,1212 1851.7,1212.7C1855.7,1213.4 1858.5,1214.7 1861.9,1216.1C1865.3,1217.5 1868.7,1219.5 1872.1,1221.2C1875.5,1222.9 1878.9,1225 1882.3,1226.3C1885.7,1227.6 1889.1,1228.8 1892.5,1228.8C1895.8,1228.8 1899.2,1227 1902.6,1226.3C1906,1225.6 1909.4,1224.9 1912.8,1224.6C1916.2,1224.3 1919.6,1224 1923,1224.3C1926.4,1224.5 1929.8,1224.9 1933.2,1226C1936.6,1227 1940,1228.7 1943.4,1230.5C1946.8,1232.4 1950.2,1234.6 1953.6,1237C1957,1239.4 1960.4,1242.7 1963.8,1245C1967.2,1247.3 1970.6,1249.4 1974,1250.9C1977.4,1252.4 1980.2,1253.2 1984.2,1254C1988.1,1254.8 1993.2,1255.1 1997.7,1255.7C2002.3,1256.2 2006.8,1256.6 2011.3,1257.4C2015.8,1258.1 2020.4,1259.3 2024.9,1260.3C2029.4,1261.2 2034.5,1262.3 2038.5,1263.1C2042.5,1264 2045.6,1264.8 2048.7,1265.4C2051.8,1265.9 2054.4,1265.9 2057.2,1266.2C2059.9,1266.5 2063.8,1266.9 2065.1,1267L2065.1,1274.6C2063.8,1274.5 2059.9,1274.1 2057.2,1273.8C2054.4,1273.5 2051.8,1273.5 2048.7,1273C2045.6,1272.4 2042.5,1271.6 2038.5,1270.7C2034.5,1269.9 2029.4,1268.8 2024.9,1267.9C2020.4,1266.9 2015.8,1265.7 2011.3,1265C2006.8,1264.2 2002.3,1263.8 1997.7,1263.3C1993.2,1262.7 1988.1,1262.4 1984.2,1261.6C1980.2,1260.8 1977.4,1260 1974,1258.5C1970.6,1257 1967.2,1254.9 1963.8,1252.6C1960.4,1250.3 1957,1247 1953.6,1244.6C1950.2,1242.2 1946.8,1240 1943.4,1238.1C1940,1236.3 1936.6,1234.6 1933.2,1233.6C1929.8,1232.5 1926.4,1232.1 1923,1231.9C1919.6,1231.6 1916.2,1231.9 1912.8,1232.2C1909.4,1232.5 1906,1233.2 1902.6,1233.9C1899.2,1234.6 1895.8,1236.4 1892.5,1236.4C1889.1,1236.4 1885.7,1235.2 1882.3,1233.9C1878.9,1232.6 1875.5,1230.5 1872.1,1228.8C1868.7,1227.1 1865.3,1225.1 1861.9,1223.7C1858.5,1222.3 1855.7,1221 1851.7,1220.3C1847.7,1219.6 1842.6,1219.5 1838.1,1219.5C1833.6,1219.5 1829.1,1219.8 1824.5,1220.3C1820,1220.8 1815.5,1222.4 1810.9,1222.5C1806.4,1222.7 1801.6,1222 1797.4,1221.2C1793.1,1220.4 1789.4,1218.5 1785.5,1217.8C1781.5,1217 1777.8,1216.7 1773.6,1216.6C1769.3,1216.4 1764.7,1216.4 1760,1216.9C1755.3,1217.4 1749.5,1219.2 1745.7,1219.5C1741.9,1219.7 1740,1219.5 1737.2,1218.6C1734.3,1217.8 1731.5,1216.2 1728.7,1214.4C1725.8,1212.5 1722.7,1210.4 1720.2,1207.6C1717.6,1204.7 1716.2,1202 1713.4,1197.4C1710.6,1192.8 1706,1184.5 1703.2,1179.8C1700.4,1175.2 1698.7,1173 1696.4,1169.6C1694.2,1166.3 1691.9,1163.4 1689.6,1159.5C1687.4,1155.5 1684.8,1150.4 1682.8,1145.9C1680.8,1141.3 1679.4,1137.4 1677.7,1132.3C1676,1127.2 1674.3,1121.3 1672.6,1115.3C1670.9,1109.4 1669.2,1103.1 1667.5,1096.6C1665.8,1090.1 1664.2,1083 1662.5,1076.3C1660.8,1069.5 1659.1,1062.7 1657.4,1055.9C1655.7,1049.1 1654.1,1042.3 1652.3,1035.5C1650.4,1028.7 1648.3,1020.5 1646.3,1015.1C1644.3,1009.7 1642.4,1005.9 1640.4,1003.2C1638.4,1000.5 1636.4,999 1634.4,999C1632.5,999 1630.3,1001.1 1628.5,1003.2C1626.7,1005.4 1625.4,1008.6 1623.4,1011.7C1621.4,1014.8 1618.9,1018.2 1616.6,1021.9C1614.3,1025.6 1612.4,1030.1 1609.8,1033.8C1607.3,1037.5 1604.2,1041.4 1601.3,1044C1598.5,1046.5 1595.7,1048.2 1592.8,1049.1C1590,1050 1587.2,1049.3 1584.3,1049.4C1581.5,1049.6 1578.4,1049.1 1575.8,1049.9C1573.3,1050.7 1571,1051.8 1569.1,1054.2C1567.1,1056.6 1565.7,1060.7 1564,1064.4C1562.3,1068 1560.6,1072 1558.9,1076.3C1557.2,1080.5 1555.5,1085 1553.8,1089.8C1552.1,1094.6 1550.4,1099.7 1548.7,1105.1C1547,1110.5 1545.3,1116.4 1543.6,1122.1C1541.9,1127.8 1540.3,1134.3 1538.5,1139.1C1536.7,1143.9 1534.8,1147 1532.5,1151C1530.3,1154.9 1527.6,1159.6 1524.9,1162.9C1522.2,1166.1 1519.2,1168.8 1516.4,1170.5C1513.6,1172.2 1511,1172.2 1507.9,1173C1504.8,1173.9 1501.1,1173.6 1497.7,1175.6C1494.3,1177.6 1490.9,1181.1 1487.5,1184.9C1484.2,1188.8 1480.8,1193.3 1477.4,1198.5C1474,1203.7 1470.3,1211.4 1467.2,1216.1C1464.1,1220.7 1461.5,1223.1 1458.7,1226.3C1455.8,1229.4 1453.3,1232.6 1450.2,1234.7C1447.1,1236.9 1444.5,1238 1440,1239C1435.5,1240 1428.4,1239.5 1423.4,1240.8C1418.4,1242 1414.6,1244.1 1410.2,1246.4C1405.8,1248.8 1401.7,1252.1 1397,1254.9C1392.3,1257.8 1386.9,1261.1 1381.9,1263.4C1376.9,1265.8 1371.5,1267.2 1366.8,1269.1C1362.1,1271 1357.4,1273.3 1353.6,1274.7C1349.8,1276.2 1347.9,1277.2 1344.2,1277.6C1340.4,1278 1335,1277.7 1330.9,1277C1326.9,1276.3 1323.1,1274.2 1319.6,1273.2C1316.2,1272.3 1313,1271.4 1310.2,1271.3C1307.4,1271.3 1305.5,1271.8 1302.6,1272.9C1299.8,1273.9 1296.4,1275.4 1293.2,1277.6C1290.1,1279.8 1286.9,1283.4 1283.8,1286.1C1280.6,1288.7 1277.5,1291.6 1274.3,1293.6C1271.2,1295.7 1269,1297.4 1264.9,1298.3C1260.8,1299.3 1255.5,1298.9 1249.8,1299.3C1244.2,1299.7 1237.2,1300.5 1230.9,1300.8C1224.7,1301.1 1217.1,1301.4 1212.1,1301.2C1207,1300.9 1204.5,1299.8 1200.8,1299.3C1197,1298.7 1193.8,1297.7 1189.4,1298C1185,1298.2 1180,1299.6 1174.3,1300.8C1168.7,1301.9 1161.8,1303.8 1155.5,1304.9C1149.2,1306.1 1141.9,1306.7 1136.6,1307.8C1131.3,1308.8 1129.1,1310.5 1123.4,1311.2C1117.7,1311.8 1109.9,1311.5 1102.6,1311.5C1095.4,1311.6 1087.5,1311.1 1080,1311.5C1072.5,1311.9 1064.7,1313.3 1057.9,1314C1051.1,1314.7 1045.3,1315.5 1039.1,1315.9C1032.8,1316.3 1025.5,1316.5 1020.2,1316.3C1014.8,1316 1012,1315.6 1007,1314.4C1001.9,1313.2 995,1310.3 990,1309.1C985,1307.8 980.9,1306.9 976.8,1306.8C972.7,1306.8 969.2,1307.8 965.5,1308.7C961.7,1309.6 958.6,1311.9 954.2,1312.5C949.7,1313.1 943.8,1313.3 939.1,1312.5C934.3,1311.7 930.3,1309.3 925.8,1307.8C921.4,1306.2 917.4,1303.9 912.6,1303C907.9,1302.2 903.2,1302.8 897.5,1302.7C891.9,1302.5 883.4,1302.7 878.7,1302.1C874,1301.5 872.4,1300.1 869.2,1299.3C866.1,1298.5 863.6,1297.5 859.8,1297.4C856,1297.2 851.3,1297.5 846.6,1298.3C841.9,1299.1 837.2,1300.9 831.5,1302.1C825.8,1303.3 818.6,1304.2 812.6,1305.3C806.7,1306.4 801,1307.3 795.7,1308.7C790.3,1310.2 785.6,1312.7 780.6,1314C775.5,1315.3 771.1,1316.2 765.5,1316.6C759.8,1317.1 752.9,1316.8 746.6,1316.8C740.3,1316.9 734,1316.6 727.7,1316.8C721.4,1317 715.2,1317.8 708.9,1318.1C702.6,1318.5 695.3,1318.5 690,1319.1C684.7,1319.7 682.6,1320.7 677.4,1321.9C672.1,1323.2 664.8,1325.1 658.5,1326.6C652.2,1328.2 645.9,1329.9 639.6,1331.3C633.3,1332.8 627,1333.9 620.8,1335.1C614.5,1336.4 608.2,1337.6 601.9,1338.9C595.6,1340.2 589.3,1341.4 583,1342.7C576.7,1343.9 570.4,1345.4 564.2,1346.4C557.9,1347.5 551.6,1348.4 545.3,1348.9C539,1349.4 532.7,1349.3 526.4,1349.3C520.1,1349.2 513.8,1349.1 507.5,1348.7C501.3,1348.3 495,1347.7 488.7,1346.8C482.4,1346 477.7,1345.2 469.8,1343.6C461.9,1342 450.9,1339.5 441.5,1337.4C432.1,1335.3 420.1,1332.4 413.2,1331C406.3,1329.5 404.7,1329.4 400,1328.7C395.3,1328 390.6,1327.8 384.9,1327C379.2,1326.3 372.3,1324.9 366,1324.2C359.7,1323.5 353.5,1322.9 347.2,1322.7C340.9,1322.4 334.6,1322.7 328.3,1322.9C322,1323 313.9,1323.6 309.4,1323.8C305,1324 302.8,1324.1 301.4,1324.2Z"/><path d="M297.6,1320.4C299,1320.3 301.2,1320.2 305.6,1320C310.1,1319.8 318.2,1319.2 324.5,1319.1C330.8,1318.9 337.1,1318.6 343.4,1318.9C349.7,1319.1 355.9,1319.7 362.2,1320.4C368.5,1321.1 375.4,1322.5 381.1,1323.2C386.8,1324 391.5,1324.2 396.2,1324.9C400.9,1325.6 402.5,1325.7 409.4,1327.2C416.3,1328.6 428.3,1331.5 437.7,1333.6C447.1,1335.7 458.1,1338.2 466,1339.8C473.9,1341.4 478.6,1342.2 484.9,1343C491.2,1343.9 497.5,1344.5 503.7,1344.9C510,1345.3 516.3,1345.4 522.6,1345.5C528.9,1345.5 535.2,1345.6 541.5,1345.1C547.8,1344.6 554.1,1343.7 560.4,1342.6C566.6,1341.6 572.9,1340.1 579.2,1338.9C585.5,1337.6 591.8,1336.4 598.1,1335.1C604.4,1333.8 610.7,1332.6 617,1331.3C623.2,1330.1 629.5,1329 635.8,1327.5C642.1,1326.1 648.4,1324.4 654.7,1322.8C661,1321.3 668.3,1319.4 673.6,1318.1C678.8,1316.9 680.9,1315.9 686.2,1315.3C691.5,1314.7 698.8,1314.7 705.1,1314.3C711.4,1314 717.6,1313.2 723.9,1313C730.2,1312.8 736.5,1313.1 742.8,1313C749.1,1313 756,1313.3 761.7,1312.8C767.3,1312.4 771.7,1311.5 776.8,1310.2C781.8,1308.9 786.5,1306.4 791.9,1304.9C797.2,1303.5 802.9,1302.6 808.8,1301.5C814.8,1300.4 822,1299.5 827.7,1298.3C833.4,1297.1 838.1,1295.3 842.8,1294.5C847.5,1293.7 852.2,1293.4 856,1293.6C859.8,1293.7 862.3,1294.7 865.4,1295.5C868.6,1296.3 870.2,1297.7 874.9,1298.3C879.6,1298.9 888.1,1298.7 893.7,1298.9C899.4,1299 904.1,1298.4 908.8,1299.2C913.6,1300.1 917.6,1302.4 922,1304C926.5,1305.5 930.5,1307.9 935.3,1308.7C940,1309.5 945.9,1309.3 950.4,1308.7C954.8,1308.1 957.9,1305.8 961.7,1304.9C965.4,1304 968.9,1303 973,1303C977.1,1303.1 981.2,1304 986.2,1305.3C991.2,1306.5 998.1,1309.4 1003.2,1310.6C1008.2,1311.8 1011,1312.2 1016.4,1312.5C1021.7,1312.7 1029,1312.5 1035.3,1312.1C1041.5,1311.7 1047.3,1310.9 1054.1,1310.2C1060.9,1309.5 1068.7,1308.1 1076.2,1307.7C1083.7,1307.3 1091.6,1307.8 1098.8,1307.7C1106.1,1307.7 1113.9,1308 1119.6,1307.4C1125.3,1306.7 1127.5,1305 1132.8,1304C1138.1,1302.9 1145.4,1302.3 1151.7,1301.1C1158,1300 1164.9,1298.1 1170.5,1297C1176.2,1295.8 1181.2,1294.4 1185.6,1294.2C1190,1293.9 1193.2,1294.9 1197,1295.5C1200.7,1296 1203.2,1297.1 1208.3,1297.4C1213.3,1297.6 1220.9,1297.3 1227.1,1297C1233.4,1296.7 1240.4,1295.9 1246,1295.5C1251.7,1295.1 1257,1295.5 1261.1,1294.5C1265.2,1293.6 1267.4,1291.9 1270.5,1289.8C1273.7,1287.8 1276.8,1284.9 1280,1282.3C1283.1,1279.6 1286.3,1276 1289.4,1273.8C1292.6,1271.6 1296,1270.1 1298.8,1269.1C1301.7,1268 1303.6,1267.5 1306.4,1267.5C1309.2,1267.6 1312.4,1268.5 1315.8,1269.4C1319.3,1270.4 1323.1,1272.5 1327.1,1273.2C1331.2,1273.9 1336.6,1274.2 1340.4,1273.8C1344.1,1273.4 1346,1272.4 1349.8,1270.9C1353.6,1269.5 1358.3,1267.2 1363,1265.3C1367.7,1263.4 1373.1,1262 1378.1,1259.6C1383.1,1257.3 1388.5,1254 1393.2,1251.1C1397.9,1248.3 1402,1245 1406.4,1242.6C1410.8,1240.3 1414.6,1238.2 1419.6,1237C1424.6,1235.7 1431.7,1236.2 1436.2,1235.2C1440.7,1234.2 1443.3,1233.1 1446.4,1230.9C1449.5,1228.8 1452,1225.6 1454.9,1222.5C1457.7,1219.3 1460.3,1216.9 1463.4,1212.3C1466.5,1207.6 1470.2,1199.9 1473.6,1194.7C1477,1189.5 1480.4,1185 1483.7,1181.1C1487.1,1177.3 1490.5,1173.8 1493.9,1171.8C1497.3,1169.8 1501,1170.1 1504.1,1169.2C1507.2,1168.4 1509.8,1168.4 1512.6,1166.7C1515.4,1165 1518.4,1162.3 1521.1,1159.1C1523.8,1155.8 1526.5,1151.1 1528.7,1147.2C1531,1143.2 1532.9,1140.1 1534.7,1135.3C1536.5,1130.5 1538.1,1124 1539.8,1118.3C1541.5,1112.6 1543.2,1106.7 1544.9,1101.3C1546.6,1095.9 1548.3,1090.8 1550,1086C1551.7,1081.2 1553.4,1076.7 1555.1,1072.5C1556.8,1068.2 1558.5,1064.2 1560.2,1060.6C1561.9,1056.9 1563.3,1052.8 1565.3,1050.4C1567.2,1048 1569.5,1046.9 1572,1046.1C1574.6,1045.3 1577.7,1045.8 1580.5,1045.6C1583.4,1045.5 1586.2,1046.2 1589,1045.3C1591.9,1044.4 1594.7,1042.7 1597.5,1040.2C1600.4,1037.6 1603.5,1033.7 1606,1030C1608.6,1026.3 1610.5,1021.8 1612.8,1018.1C1615.1,1014.4 1617.6,1011 1619.6,1007.9C1621.6,1004.8 1622.9,1001.6 1624.7,999.4C1626.5,997.3 1628.7,995.2 1630.6,995.2C1632.6,995.2 1634.6,996.7 1636.6,999.4C1638.6,1002.1 1640.5,1005.9 1642.5,1011.3C1644.5,1016.7 1646.6,1024.9 1648.5,1031.7C1650.3,1038.5 1651.9,1045.3 1653.6,1052.1C1655.3,1058.9 1657,1065.7 1658.7,1072.5C1660.4,1079.2 1662,1086.3 1663.7,1092.8C1665.4,1099.3 1667.1,1105.6 1668.8,1111.5C1670.5,1117.5 1672.2,1123.4 1673.9,1128.5C1675.6,1133.6 1677,1137.5 1679,1142.1C1681,1146.6 1683.6,1151.7 1685.8,1155.7C1688.1,1159.6 1690.4,1162.5 1692.6,1165.8C1694.9,1169.2 1696.6,1171.4 1699.4,1176C1702.2,1180.7 1706.8,1189 1709.6,1193.6C1712.4,1198.2 1713.8,1200.9 1716.4,1203.8C1718.9,1206.6 1722,1208.7 1724.9,1210.6C1727.7,1212.4 1730.5,1214 1733.4,1214.8C1736.2,1215.7 1738.1,1215.9 1741.9,1215.7C1745.7,1215.4 1751.5,1213.6 1756.2,1213.1C1760.9,1212.6 1765.5,1212.6 1769.8,1212.8C1774,1212.9 1777.7,1213.2 1781.7,1214C1785.6,1214.7 1789.3,1216.6 1793.6,1217.4C1797.8,1218.2 1802.6,1218.9 1807.1,1218.7C1811.7,1218.6 1816.2,1217 1820.7,1216.5C1825.3,1216 1829.8,1215.7 1834.3,1215.7C1838.8,1215.7 1843.9,1215.8 1847.9,1216.5C1851.9,1217.2 1854.7,1218.5 1858.1,1219.9C1861.5,1221.3 1864.9,1223.3 1868.3,1225C1871.7,1226.7 1875.1,1228.8 1878.5,1230.1C1881.9,1231.4 1885.3,1232.6 1888.7,1232.6C1892,1232.6 1895.4,1230.8 1898.8,1230.1C1902.2,1229.4 1905.6,1228.7 1909,1228.4C1912.4,1228.1 1915.8,1227.8 1919.2,1228.1C1922.6,1228.3 1926,1228.7 1929.4,1229.8C1932.8,1230.8 1936.2,1232.5 1939.6,1234.3C1943,1236.2 1946.4,1238.4 1949.8,1240.8C1953.2,1243.2 1956.6,1246.5 1960,1248.8C1963.4,1251.1 1966.8,1253.2 1970.2,1254.7C1973.6,1256.2 1976.4,1257 1980.4,1257.8C1984.3,1258.6 1989.4,1258.9 1993.9,1259.5C1998.5,1260 2003,1260.4 2007.5,1261.2C2012,1261.9 2016.6,1263.1 2021.1,1264.1C2025.6,1265 2030.7,1266.1 2034.7,1266.9C2038.7,1267.8 2041.8,1268.6 2044.9,1269.2C2048,1269.7 2050.6,1269.7 2053.4,1270C2056.1,1270.3 2060,1270.7 2061.3,1270.8L2068.9,1270.8C2067.6,1270.7 2063.7,1270.3 2061,1270C2058.2,1269.7 2055.6,1269.7 2052.5,1269.2C2049.4,1268.6 2046.3,1267.8 2042.3,1266.9C2038.3,1266.1 2033.2,1265 2028.7,1264.1C2024.2,1263.1 2019.6,1261.9 2015.1,1261.2C2010.6,1260.4 2006.1,1260 2001.5,1259.5C1997,1258.9 1991.9,1258.6 1988,1257.8C1984,1257 1981.2,1256.2 1977.8,1254.7C1974.4,1253.2 1971,1251.1 1967.6,1248.8C1964.2,1246.5 1960.8,1243.2 1957.4,1240.8C1954,1238.4 1950.6,1236.2 1947.2,1234.3C1943.8,1232.5 1940.4,1230.8 1937,1229.8C1933.6,1228.7 1930.2,1228.3 1926.8,1228.1C1923.4,1227.8 1920,1228.1 1916.6,1228.4C1913.2,1228.7 1909.8,1229.4 1906.4,1230.1C1903,1230.8 1899.6,1232.6 1896.3,1232.6C1892.9,1232.6 1889.5,1231.4 1886.1,1230.1C1882.7,1228.8 1879.3,1226.7 1875.9,1225C1872.5,1223.3 1869.1,1221.3 1865.7,1219.9C1862.3,1218.5 1859.5,1217.2 1855.5,1216.5C1851.5,1215.8 1846.4,1215.7 1841.9,1215.7C1837.4,1215.7 1832.9,1216 1828.3,1216.5C1823.8,1217 1819.3,1218.6 1814.7,1218.7C1810.2,1218.9 1805.4,1218.2 1801.2,1217.4C1796.9,1216.6 1793.2,1214.7 1789.3,1214C1785.3,1213.2 1781.6,1212.9 1777.4,1212.8C1773.1,1212.6 1768.5,1212.6 1763.8,1213.1C1759.1,1213.6 1753.3,1215.4 1749.5,1215.7C1745.7,1215.9 1743.8,1215.7 1741,1214.8C1738.1,1214 1735.3,1212.4 1732.5,1210.6C1729.6,1208.7 1726.5,1206.6 1724,1203.8C1721.4,1200.9 1720,1198.2 1717.2,1193.6C1714.4,1189 1709.8,1180.7 1707,1176C1704.2,1171.4 1702.5,1169.2 1700.2,1165.8C1698,1162.5 1695.7,1159.6 1693.4,1155.7C1691.2,1151.7 1688.6,1146.6 1686.6,1142.1C1684.6,1137.5 1683.2,1133.6 1681.5,1128.5C1679.8,1123.4 1678.1,1117.5 1676.4,1111.5C1674.7,1105.6 1673,1099.3 1671.3,1092.8C1669.6,1086.3 1668,1079.2 1666.3,1072.5C1664.6,1065.7 1662.9,1058.9 1661.2,1052.1C1659.5,1045.3 1657.9,1038.5 1656.1,1031.7C1654.2,1024.9 1652.1,1016.7 1650.1,1011.3C1648.1,1005.9 1646.2,1002.1 1644.2,999.4C1642.2,996.7 1640.2,995.2 1638.2,995.2C1636.3,995.2 1634.1,997.3 1632.3,999.4C1630.5,1001.6 1629.2,1004.8 1627.2,1007.9C1625.2,1011 1622.7,1014.4 1620.4,1018.1C1618.1,1021.8 1616.2,1026.3 1613.6,1030C1611.1,1033.7 1608,1037.6 1605.1,1040.2C1602.3,1042.7 1599.5,1044.4 1596.6,1045.3C1593.8,1046.2 1591,1045.5 1588.1,1045.6C1585.3,1045.8 1582.2,1045.3 1579.6,1046.1C1577.1,1046.9 1574.8,1048 1572.9,1050.4C1570.9,1052.8 1569.5,1056.9 1567.8,1060.6C1566.1,1064.2 1564.4,1068.2 1562.7,1072.5C1561,1076.7 1559.3,1081.2 1557.6,1086C1555.9,1090.8 1554.2,1095.9 1552.5,1101.3C1550.8,1106.7 1549.1,1112.6 1547.4,1118.3C1545.7,1124 1544.1,1130.5 1542.3,1135.3C1540.5,1140.1 1538.6,1143.2 1536.3,1147.2C1534.1,1151.1 1531.4,1155.8 1528.7,1159.1C1526,1162.3 1523,1165 1520.2,1166.7C1517.4,1168.4 1514.8,1168.4 1511.7,1169.2C1508.6,1170.1 1504.9,1169.8 1501.5,1171.8C1498.1,1173.8 1494.7,1177.3 1491.3,1181.1C1488,1185 1484.6,1189.5 1481.2,1194.7C1477.8,1199.9 1474.1,1207.6 1471,1212.3C1467.9,1216.9 1465.3,1219.3 1462.5,1222.5C1459.6,1225.6 1457.1,1228.8 1454,1230.9C1450.9,1233.1 1448.3,1234.2 1443.8,1235.2C1439.3,1236.2 1432.2,1235.7 1427.2,1237C1422.2,1238.2 1418.4,1240.3 1414,1242.6C1409.6,1245 1405.5,1248.3 1400.8,1251.1C1396.1,1254 1390.7,1257.3 1385.7,1259.6C1380.7,1262 1375.3,1263.4 1370.6,1265.3C1365.9,1267.2 1361.2,1269.5 1357.4,1270.9C1353.6,1272.4 1351.7,1273.4 1348,1273.8C1344.2,1274.2 1338.8,1273.9 1334.7,1273.2C1330.7,1272.5 1326.9,1270.4 1323.4,1269.4C1320,1268.5 1316.8,1267.6 1314,1267.5C1311.2,1267.5 1309.3,1268 1306.4,1269.1C1303.6,1270.1 1300.2,1271.6 1297,1273.8C1293.9,1276 1290.7,1279.6 1287.6,1282.3C1284.4,1284.9 1281.3,1287.8 1278.1,1289.8C1275,1291.9 1272.8,1293.6 1268.7,1294.5C1264.6,1295.5 1259.3,1295.1 1253.6,1295.5C1248,1295.9 1241,1296.7 1234.7,1297C1228.5,1297.3 1220.9,1297.6 1215.9,1297.4C1210.8,1297.1 1208.3,1296 1204.6,1295.5C1200.8,1294.9 1197.6,1293.9 1193.2,1294.2C1188.8,1294.4 1183.8,1295.8 1178.1,1297C1172.5,1298.1 1165.6,1300 1159.3,1301.1C1153,1302.3 1145.7,1302.9 1140.4,1304C1135.1,1305 1132.9,1306.7 1127.2,1307.4C1121.5,1308 1113.7,1307.7 1106.4,1307.7C1099.2,1307.8 1091.3,1307.3 1083.8,1307.7C1076.3,1308.1 1068.5,1309.5 1061.7,1310.2C1054.9,1310.9 1049.1,1311.7 1042.9,1312.1C1036.6,1312.5 1029.3,1312.7 1024,1312.5C1018.6,1312.2 1015.8,1311.8 1010.8,1310.6C1005.7,1309.4 998.8,1306.5 993.8,1305.3C988.8,1304 984.7,1303.1 980.6,1303C976.5,1303 973,1304 969.3,1304.9C965.5,1305.8 962.4,1308.1 958,1308.7C953.5,1309.3 947.6,1309.5 942.9,1308.7C938.1,1307.9 934.1,1305.5 929.6,1304C925.2,1302.4 921.2,1300.1 916.4,1299.2C911.7,1298.4 907,1299 901.3,1298.9C895.7,1298.7 887.2,1298.9 882.5,1298.3C877.8,1297.7 876.2,1296.3 873,1295.5C869.9,1294.7 867.4,1293.7 863.6,1293.6C859.8,1293.4 855.1,1293.7 850.4,1294.5C845.7,1295.3 841,1297.1 835.3,1298.3C829.6,1299.5 822.4,1300.4 816.4,1301.5C810.5,1302.6 804.8,1303.5 799.5,1304.9C794.1,1306.4 789.4,1308.9 784.4,1310.2C779.3,1311.5 774.9,1312.4 769.3,1312.8C763.6,1313.3 756.7,1313 750.4,1313C744.1,1313.1 737.8,1312.8 731.5,1313C725.2,1313.2 719,1314 712.7,1314.3C706.4,1314.7 699.1,1314.7 693.8,1315.3C688.5,1315.9 686.4,1316.9 681.2,1318.1C675.9,1319.4 668.6,1321.3 662.3,1322.8C656,1324.4 649.7,1326.1 643.4,1327.5C637.1,1329 630.8,1330.1 624.6,1331.3C618.3,1332.6 612,1333.8 605.7,1335.1C599.4,1336.4 593.1,1337.6 586.8,1338.9C580.5,1340.1 574.2,1341.6 568,1342.6C561.7,1343.7 555.4,1344.6 549.1,1345.1C542.8,1345.6 536.5,1345.5 530.2,1345.5C523.9,1345.4 517.6,1345.3 511.3,1344.9C505.1,1344.5 498.8,1343.9 492.5,1343C486.2,1342.2 481.5,1341.4 473.6,1339.8C465.7,1338.2 454.7,1335.7 445.3,1333.6C435.9,1331.5 423.9,1328.6 417,1327.2C410.1,1325.7 408.5,1325.6 403.8,1324.9C399.1,1324.2 394.4,1324 388.7,1323.2C383,1322.5 376.1,1321.1 369.8,1320.4C363.5,1319.7 357.3,1319.1 351,1318.9C344.7,1318.6 338.4,1318.9 332.1,1319.1C325.8,1319.2 317.7,1319.8 313.2,1320C308.8,1320.2 306.6,1320.3 305.2,1320.4Z"/></g>
<g fill="#00ffff"><path d="M301.9,1327.4C303.2,1326.9 306,1325.9 309.4,1324.7C312.9,1323.5 317.9,1321.4 322.6,1320C327.4,1318.6 332.1,1317.4 337.7,1316.2C343.4,1315 350.3,1313.5 356.6,1313C362.9,1312.5 369.2,1313.1 375.5,1313.4C381.8,1313.7 386.5,1314.4 394.3,1314.7C402.2,1315 413.2,1315.4 422.6,1315.3C432.1,1315.1 443.1,1314.5 450.9,1313.9C458.8,1313.4 463.5,1312.5 469.8,1312C476.1,1311.6 482.4,1311.8 488.7,1311.5C495,1311.1 501.3,1310.3 507.5,1310C513.8,1309.7 520.1,1309.6 526.4,1309.6C532.7,1309.6 539,1309.8 545.3,1310.2C551.6,1310.5 557.9,1311.3 564.2,1311.9C570.4,1312.4 576.7,1312.6 583,1313.4C589.3,1314.1 595.6,1315.4 601.9,1316.2C608.2,1317 614.5,1317.6 620.8,1318.1C627,1318.6 633.3,1319 639.6,1319C645.9,1319 652.2,1318.7 658.5,1318.1C664.8,1317.5 672.1,1315.7 677.4,1315.3C682.6,1314.8 684.7,1316 690,1315.3C695.3,1314.5 702.6,1311 708.9,1310.5C715.2,1310.1 721.4,1311.6 727.7,1312.4C734,1313.2 740.3,1314.5 746.6,1315.3C752.9,1316 759.2,1316.5 765.5,1317.1C771.8,1317.8 778.1,1318.5 784.3,1319C790.6,1319.6 796.9,1320.3 803.2,1320.4C809.5,1320.4 815.8,1320 822.1,1319.6C828.4,1319.2 834.7,1318.2 840.9,1318.1C847.2,1318 853.5,1318.7 859.8,1319C866.1,1319.4 872.4,1320.3 878.7,1320.4C885,1320.4 891.3,1319.9 897.5,1319.6C903.8,1319.3 907,1318.8 916.4,1318.7C925.8,1318.5 941.6,1318.7 954.2,1318.7C966.7,1318.7 979.3,1318.6 991.9,1318.7C1004.5,1318.7 1020.2,1318.9 1029.6,1319C1039.1,1319.2 1042.2,1319.8 1048.5,1319.6C1054.8,1319.4 1062.1,1318.7 1067.4,1318.1C1072.6,1317.5 1074.7,1315.7 1080,1315.8C1085.3,1316 1091,1318.5 1098.9,1319C1106.7,1319.6 1117.7,1318.9 1127.2,1319C1136.6,1319.2 1146,1320 1155.5,1320C1164.9,1320 1174.3,1319.1 1183.8,1319C1193.2,1319 1204.2,1319.4 1212.1,1319.6C1219.9,1319.8 1224.7,1320.2 1230.9,1320C1237.2,1319.7 1241.9,1318.4 1249.8,1318.1C1257.7,1317.8 1268.7,1318.1 1278.1,1318.1C1287.5,1318.1 1298.6,1318.2 1306.4,1318.1C1314.3,1317.9 1320.3,1317.5 1325.3,1317.1C1330.3,1316.8 1332.8,1315.7 1336.6,1315.8C1340.4,1316 1341.9,1317.6 1347.9,1318.1C1353.9,1318.6 1364.3,1318.5 1372.5,1318.7C1380.6,1318.8 1389.7,1318.7 1397,1319C1404.2,1319.4 1408.7,1320.5 1415.8,1320.9C1423,1321.3 1433.1,1321.3 1440,1321.4C1446.9,1321.5 1451.3,1321.6 1457,1321.7C1462.6,1321.9 1468.3,1322.1 1474,1322.2C1479.6,1322.4 1485.3,1322.4 1490.9,1322.6C1496.6,1322.7 1502.3,1322.7 1507.9,1323.1C1513.6,1323.5 1519.2,1323.9 1524.9,1324.8C1530.6,1325.7 1536.2,1327.8 1541.9,1328.7C1547.5,1329.5 1553.2,1329.7 1558.9,1329.9C1564.5,1330.1 1570.2,1329.7 1575.8,1329.9C1581.5,1330 1588.3,1330.2 1592.8,1330.7C1597.4,1331.3 1599.6,1332.8 1603,1333.3C1606.4,1333.8 1609.8,1334.1 1613.2,1333.8C1616.6,1333.5 1620.6,1332.7 1623.4,1331.6C1626.2,1330.5 1628.2,1328.9 1630.2,1327.3C1632.2,1325.8 1633.3,1324.5 1635.3,1322.2C1637.3,1320 1639.5,1317.1 1642.1,1313.7C1644.6,1310.4 1647.7,1305.8 1650.6,1301.9C1653.4,1297.9 1656.5,1293.9 1659.1,1290C1661.6,1286 1663.6,1282.3 1665.8,1278.1C1668.1,1273.8 1670.4,1269.3 1672.6,1264.5C1674.9,1259.7 1677.5,1254 1679.4,1249.2C1681.4,1244.4 1682.8,1240.2 1684.5,1235.6C1686.2,1231.1 1687.9,1226.9 1689.6,1222C1691.3,1217.2 1693,1211.9 1694.7,1206.8C1696.4,1201.7 1697.5,1198.1 1699.8,1191.5C1702.1,1184.9 1706,1174 1708.3,1167.1C1710.6,1160.3 1711.7,1156.1 1713.4,1150.2C1715.1,1144.2 1716.8,1137.7 1718.5,1131.5C1720.2,1125.3 1721.9,1119.3 1723.6,1112.8C1725.3,1106.3 1727,1099.5 1728.7,1092.4C1730.4,1085.4 1732.1,1078.3 1733.8,1070.4C1735.5,1062.4 1737.2,1053.7 1738.9,1044.9C1740.6,1036.1 1742.3,1026.8 1744,1017.7C1745.7,1008.7 1747.4,999.9 1749.1,990.5C1750.8,981.2 1752.4,972.2 1754.2,961.7C1755.9,951.2 1757.8,938.3 1759.6,927.5C1761.3,916.7 1763,907.7 1764.7,897C1766.4,886.2 1768,874.3 1769.8,863C1771.5,851.7 1773.3,840.4 1775,829C1776.8,817.7 1778.4,807.8 1780.5,795.1C1782.5,782.3 1785,766.8 1787.3,752.6C1789.5,738.5 1792.8,719.6 1794.1,710.2C1795.3,700.7 1793.5,706.8 1794.6,696.1C1795.8,685.5 1798.8,663.1 1800.8,646.2C1802.8,629.4 1804.7,612 1806.7,594.8C1808.8,577.7 1811.2,560.5 1813.2,543.4C1815.1,526.2 1816.2,509.1 1818.3,491.9C1820.4,474.8 1823.5,457.6 1826,440.5C1828.5,423.4 1830.9,406.2 1833.2,389.1C1835.6,371.9 1837.5,354.8 1840.2,337.6C1842.8,320.5 1846.8,299 1849.2,286.2C1851.5,273.4 1852,272.9 1854.1,260.8C1856.2,248.7 1858.9,228.8 1861.6,213.8C1864.3,198.7 1867.3,183.4 1870.1,170.5C1872.9,157.6 1875.6,146.9 1878.6,136.6C1881.6,126.2 1885.2,115.9 1888,108.4C1890.8,100.9 1893,95.9 1895.5,91.5C1898,87.1 1900.2,83.9 1903,82.1C1905.8,80.3 1909.3,80.6 1912.4,80.6C1915.5,80.6 1918.7,81.4 1921.8,82.1C1924.9,82.8 1928,84.9 1931.2,84.9C1934.4,84.9 1937.6,84 1940.7,82.1C1943.8,80.2 1947,76.8 1950.1,73.6C1953.2,70.5 1956.2,66 1959.5,63.2C1962.8,60.4 1966.7,57.2 1969.8,56.7C1972.9,56.2 1975.3,58.1 1978.3,60.4C1981.3,62.8 1984.6,67.5 1987.7,70.8C1990.8,74.1 1994,77.4 1997.1,80.2C2000.2,83 2003.2,86 2006.5,87.7C2009.8,89.4 2013.8,90.7 2016.9,90.5C2020,90.3 2022,87.9 2025.3,86.8C2028.6,85.7 2032.8,84.1 2036.6,83.9C2040.4,83.7 2044.6,84.8 2047.9,85.8C2051.2,86.8 2053.8,88.4 2056.4,89.6C2059,90.8 2062.5,92.3 2063.7,92.9L2063.7,100.5C2062.5,99.9 2059,98.4 2056.4,97.2C2053.8,96 2051.2,94.3 2047.9,93.4C2044.6,92.4 2040.4,91.3 2036.6,91.5C2032.8,91.7 2028.6,93.3 2025.3,94.4C2022,95.5 2020,97.9 2016.9,98.1C2013.8,98.2 2009.8,97 2006.5,95.3C2003.2,93.6 2000.2,90.6 1997.1,87.8C1994,85 1990.8,81.7 1987.7,78.4C1984.6,75.1 1981.3,70.3 1978.3,68C1975.3,65.7 1972.9,63.8 1969.8,64.3C1966.7,64.8 1962.8,68 1959.5,70.8C1956.2,73.6 1953.2,78 1950.1,81.2C1947,84.4 1943.8,87.8 1940.7,89.7C1937.6,91.6 1934.4,92.5 1931.2,92.5C1928,92.5 1924.9,90.4 1921.8,89.7C1918.7,89 1915.5,88.2 1912.4,88.2C1909.3,88.2 1905.8,87.9 1903,89.7C1900.2,91.5 1898,94.7 1895.5,99.1C1893,103.5 1890.8,108.5 1888,116C1885.2,123.5 1881.6,133.9 1878.6,144.2C1875.6,154.6 1872.9,165.2 1870.1,178.1C1867.3,191 1864.3,206.3 1861.6,221.4C1858.9,236.5 1856.2,256.3 1854.1,268.4C1852,280.5 1851.5,281 1849.2,293.8C1846.8,306.6 1842.8,328.1 1840.2,345.2C1837.5,362.4 1835.6,379.5 1833.2,396.7C1830.9,413.8 1828.5,431 1826,448.1C1823.5,465.2 1820.4,482.4 1818.3,499.5C1816.2,516.7 1815.1,533.8 1813.2,551C1811.2,568.1 1808.8,585.3 1806.7,602.4C1804.7,619.6 1802.8,637 1800.8,653.8C1798.8,670.7 1795.8,693.1 1794.6,703.7C1793.5,714.4 1795.3,708.3 1794.1,717.8C1792.8,727.2 1789.5,746.1 1787.3,760.2C1785,774.4 1782.5,789.9 1780.5,802.7C1778.4,815.4 1776.8,825.3 1775,836.6C1773.3,848 1771.5,859.3 1769.8,870.6C1768,881.9 1766.4,893.8 1764.7,904.6C1763,915.3 1761.3,924.3 1759.6,935.1C1757.8,945.9 1755.9,958.8 1754.2,969.3C1752.4,979.8 1750.8,988.8 1749.1,998.1C1747.4,1007.5 1745.7,1016.3 1744,1025.3C1742.3,1034.4 1740.6,1043.7 1738.9,1052.5C1737.2,1061.3 1735.5,1070 1733.8,1078C1732.1,1085.9 1730.4,1093 1728.7,1100C1727,1107.1 1725.3,1113.9 1723.6,1120.4C1721.9,1126.9 1720.2,1132.9 1718.5,1139.1C1716.8,1145.3 1715.1,1151.8 1713.4,1157.8C1711.7,1163.7 1710.6,1167.9 1708.3,1174.7C1706,1181.6 1702.1,1192.5 1699.8,1199.1C1697.5,1205.7 1696.4,1209.3 1694.7,1214.4C1693,1219.5 1691.3,1224.8 1689.6,1229.6C1687.9,1234.5 1686.2,1238.7 1684.5,1243.2C1682.8,1247.8 1681.4,1252 1679.4,1256.8C1677.5,1261.6 1674.9,1267.3 1672.6,1272.1C1670.4,1276.9 1668.1,1281.4 1665.8,1285.7C1663.6,1289.9 1661.6,1293.6 1659.1,1297.6C1656.5,1301.5 1653.4,1305.5 1650.6,1309.5C1647.7,1313.4 1644.6,1318 1642.1,1321.3C1639.5,1324.7 1637.3,1327.6 1635.3,1329.8C1633.3,1332.1 1632.2,1333.4 1630.2,1334.9C1628.2,1336.5 1626.2,1338.1 1623.4,1339.2C1620.6,1340.3 1616.6,1341.1 1613.2,1341.4C1609.8,1341.7 1606.4,1341.4 1603,1340.9C1599.6,1340.4 1597.4,1338.9 1592.8,1338.3C1588.3,1337.8 1581.5,1337.6 1575.8,1337.5C1570.2,1337.3 1564.5,1337.7 1558.9,1337.5C1553.2,1337.3 1547.5,1337.1 1541.9,1336.3C1536.2,1335.4 1530.6,1333.3 1524.9,1332.4C1519.2,1331.5 1513.6,1331.1 1507.9,1330.7C1502.3,1330.3 1496.6,1330.3 1490.9,1330.2C1485.3,1330 1479.6,1330 1474,1329.8C1468.3,1329.7 1462.6,1329.5 1457,1329.3C1451.3,1329.2 1446.9,1329.1 1440,1329C1433.1,1328.9 1423,1328.9 1415.8,1328.5C1408.7,1328.1 1404.2,1327 1397,1326.6C1389.7,1326.3 1380.6,1326.4 1372.5,1326.3C1364.3,1326.1 1353.9,1326.2 1347.9,1325.7C1341.9,1325.2 1340.4,1323.6 1336.6,1323.4C1332.8,1323.3 1330.3,1324.4 1325.3,1324.7C1320.3,1325.1 1314.3,1325.5 1306.4,1325.7C1298.6,1325.8 1287.5,1325.7 1278.1,1325.7C1268.7,1325.7 1257.7,1325.4 1249.8,1325.7C1241.9,1326 1237.2,1327.3 1230.9,1327.6C1224.7,1327.8 1219.9,1327.4 1212.1,1327.2C1204.2,1327 1193.2,1326.6 1183.8,1326.6C1174.3,1326.7 1164.9,1327.6 1155.5,1327.6C1146,1327.6 1136.6,1326.8 1127.2,1326.6C1117.7,1326.5 1106.7,1327.2 1098.9,1326.6C1091,1326.1 1085.3,1323.6 1080,1323.4C1074.7,1323.3 1072.6,1325.1 1067.4,1325.7C1062.1,1326.3 1054.8,1327 1048.5,1327.2C1042.2,1327.4 1039.1,1326.8 1029.6,1326.6C1020.2,1326.5 1004.5,1326.3 991.9,1326.3C979.3,1326.2 966.7,1326.3 954.2,1326.3C941.6,1326.3 925.8,1326.1 916.4,1326.3C907,1326.4 903.8,1326.9 897.5,1327.2C891.3,1327.5 885,1328 878.7,1328C872.4,1327.9 866.1,1327 859.8,1326.6C853.5,1326.3 847.2,1325.6 840.9,1325.7C834.7,1325.8 828.4,1326.8 822.1,1327.2C815.8,1327.6 809.5,1328 803.2,1328C796.9,1327.9 790.6,1327.2 784.3,1326.6C778.1,1326.1 771.8,1325.4 765.5,1324.7C759.2,1324.1 752.9,1323.6 746.6,1322.9C740.3,1322.1 734,1320.8 727.7,1320C721.4,1319.2 715.2,1317.7 708.9,1318.1C702.6,1318.6 695.3,1322.1 690,1322.9C684.7,1323.6 682.6,1322.4 677.4,1322.9C672.1,1323.3 664.8,1325.1 658.5,1325.7C652.2,1326.3 645.9,1326.6 639.6,1326.6C633.3,1326.6 627,1326.2 620.8,1325.7C614.5,1325.2 608.2,1324.6 601.9,1323.8C595.6,1323 589.3,1321.7 583,1321C576.7,1320.2 570.4,1320 564.2,1319.5C557.9,1318.9 551.6,1318.1 545.3,1317.8C539,1317.4 532.7,1317.2 526.4,1317.2C520.1,1317.2 513.8,1317.3 507.5,1317.6C501.3,1317.9 495,1318.7 488.7,1319.1C482.4,1319.4 476.1,1319.2 469.8,1319.6C463.5,1320.1 458.8,1321 450.9,1321.5C443.1,1322.1 432.1,1322.7 422.6,1322.9C413.2,1323 402.2,1322.6 394.3,1322.3C386.5,1322 381.8,1321.3 375.5,1321C369.2,1320.7 362.9,1320.1 356.6,1320.6C350.3,1321.1 343.4,1322.6 337.7,1323.8C332.1,1325 327.4,1326.2 322.6,1327.6C317.9,1329 312.9,1331.1 309.4,1332.3C306,1333.5 303.2,1334.5 301.9,1335Z"/><path d="M298.1,1331.2C299.4,1330.7 302.2,1329.7 305.6,1328.5C309.1,1327.3 314.1,1325.2 318.8,1323.8C323.6,1322.4 328.3,1321.2 333.9,1320C339.6,1318.8 346.5,1317.3 352.8,1316.8C359.1,1316.3 365.4,1316.9 371.7,1317.2C378,1317.5 382.7,1318.2 390.5,1318.5C398.4,1318.8 409.4,1319.2 418.8,1319.1C428.3,1318.9 439.3,1318.3 447.1,1317.7C455,1317.2 459.7,1316.3 466,1315.8C472.3,1315.4 478.6,1315.6 484.9,1315.3C491.2,1314.9 497.5,1314.1 503.7,1313.8C510,1313.5 516.3,1313.4 522.6,1313.4C528.9,1313.4 535.2,1313.6 541.5,1314C547.8,1314.3 554.1,1315.1 560.4,1315.7C566.6,1316.2 572.9,1316.4 579.2,1317.2C585.5,1317.9 591.8,1319.2 598.1,1320C604.4,1320.8 610.7,1321.4 617,1321.9C623.2,1322.4 629.5,1322.8 635.8,1322.8C642.1,1322.8 648.4,1322.5 654.7,1321.9C661,1321.3 668.3,1319.5 673.6,1319.1C678.8,1318.6 680.9,1319.8 686.2,1319.1C691.5,1318.3 698.8,1314.8 705.1,1314.3C711.4,1313.9 717.6,1315.4 723.9,1316.2C730.2,1317 736.5,1318.3 742.8,1319.1C749.1,1319.8 755.4,1320.3 761.7,1320.9C768,1321.6 774.3,1322.3 780.5,1322.8C786.8,1323.4 793.1,1324.1 799.4,1324.2C805.7,1324.2 812,1323.8 818.3,1323.4C824.6,1323 830.9,1322 837.1,1321.9C843.4,1321.8 849.7,1322.5 856,1322.8C862.3,1323.2 868.6,1324.1 874.9,1324.2C881.2,1324.2 887.5,1323.7 893.7,1323.4C900,1323.1 903.2,1322.6 912.6,1322.5C922,1322.3 937.8,1322.5 950.4,1322.5C962.9,1322.5 975.5,1322.4 988.1,1322.5C1000.7,1322.5 1016.4,1322.7 1025.8,1322.8C1035.3,1323 1038.4,1323.6 1044.7,1323.4C1051,1323.2 1058.3,1322.5 1063.6,1321.9C1068.8,1321.3 1070.9,1319.5 1076.2,1319.6C1081.5,1319.8 1087.2,1322.3 1095.1,1322.8C1102.9,1323.4 1113.9,1322.7 1123.4,1322.8C1132.8,1323 1142.2,1323.8 1151.7,1323.8C1161.1,1323.8 1170.5,1322.9 1180,1322.8C1189.4,1322.8 1200.4,1323.2 1208.3,1323.4C1216.1,1323.6 1220.9,1324 1227.1,1323.8C1233.4,1323.5 1238.1,1322.2 1246,1321.9C1253.9,1321.6 1264.9,1321.9 1274.3,1321.9C1283.7,1321.9 1294.8,1322 1302.6,1321.9C1310.5,1321.7 1316.5,1321.3 1321.5,1320.9C1326.5,1320.6 1329,1319.5 1332.8,1319.6C1336.6,1319.8 1338.1,1321.4 1344.1,1321.9C1350.1,1322.4 1360.5,1322.3 1368.7,1322.5C1376.8,1322.6 1385.9,1322.5 1393.2,1322.8C1400.4,1323.2 1404.9,1324.3 1412,1324.7C1419.2,1325.1 1429.3,1325.1 1436.2,1325.2C1443.1,1325.3 1447.5,1325.4 1453.2,1325.5C1458.8,1325.7 1464.5,1325.9 1470.2,1326C1475.8,1326.2 1481.5,1326.2 1487.1,1326.4C1492.8,1326.5 1498.5,1326.5 1504.1,1326.9C1509.8,1327.3 1515.4,1327.7 1521.1,1328.6C1526.8,1329.5 1532.4,1331.6 1538.1,1332.5C1543.7,1333.3 1549.4,1333.5 1555.1,1333.7C1560.7,1333.9 1566.4,1333.5 1572,1333.7C1577.7,1333.8 1584.5,1334 1589,1334.5C1593.6,1335.1 1595.8,1336.6 1599.2,1337.1C1602.6,1337.6 1606,1337.9 1609.4,1337.6C1612.8,1337.3 1616.8,1336.5 1619.6,1335.4C1622.4,1334.3 1624.4,1332.7 1626.4,1331.1C1628.4,1329.6 1629.5,1328.3 1631.5,1326C1633.5,1323.8 1635.7,1320.9 1638.3,1317.5C1640.8,1314.2 1643.9,1309.6 1646.8,1305.7C1649.6,1301.7 1652.7,1297.7 1655.3,1293.8C1657.8,1289.8 1659.8,1286.1 1662,1281.9C1664.3,1277.6 1666.6,1273.1 1668.8,1268.3C1671.1,1263.5 1673.7,1257.8 1675.6,1253C1677.6,1248.2 1679,1244 1680.7,1239.4C1682.4,1234.9 1684.1,1230.7 1685.8,1225.8C1687.5,1221 1689.2,1215.7 1690.9,1210.6C1692.6,1205.5 1693.7,1201.9 1696,1195.3C1698.3,1188.7 1702.2,1177.8 1704.5,1170.9C1706.8,1164.1 1707.9,1159.9 1709.6,1154C1711.3,1148 1713,1141.5 1714.7,1135.3C1716.4,1129.1 1718.1,1123.1 1719.8,1116.6C1721.5,1110.1 1723.2,1103.3 1724.9,1096.2C1726.6,1089.2 1728.3,1082.1 1730,1074.2C1731.7,1066.2 1733.4,1057.5 1735.1,1048.7C1736.8,1039.9 1738.5,1030.6 1740.2,1021.5C1741.9,1012.5 1743.6,1003.7 1745.3,994.3C1747,985 1748.6,976 1750.4,965.5C1752.1,955 1754,942.1 1755.8,931.3C1757.5,920.5 1759.2,911.5 1760.9,900.8C1762.6,890 1764.2,878.1 1766,866.8C1767.7,855.5 1769.5,844.2 1771.2,832.8C1773,821.5 1774.6,811.6 1776.7,798.9C1778.7,786.1 1781.2,770.6 1783.5,756.4C1785.7,742.3 1789,723.4 1790.3,714C1791.5,704.5 1789.7,710.6 1790.8,699.9C1792,689.3 1795,666.9 1797,650C1799,633.2 1800.9,615.8 1802.9,598.6C1805,581.5 1807.4,564.3 1809.4,547.2C1811.3,530 1812.4,512.9 1814.5,495.7C1816.6,478.6 1819.7,461.4 1822.2,444.3C1824.7,427.2 1827.1,410 1829.4,392.9C1831.8,375.7 1833.7,358.6 1836.4,341.4C1839,324.3 1843,302.8 1845.4,290C1847.7,277.2 1848.2,276.7 1850.3,264.6C1852.4,252.5 1855.1,232.7 1857.8,217.6C1860.5,202.5 1863.5,187.2 1866.3,174.3C1869.1,161.4 1871.8,150.8 1874.8,140.4C1877.8,130.1 1881.4,119.7 1884.2,112.2C1887,104.7 1889.2,99.7 1891.7,95.3C1894.2,90.9 1896.4,87.7 1899.2,85.9C1902,84.1 1905.5,84.4 1908.6,84.4C1911.7,84.4 1914.9,85.2 1918,85.9C1921.1,86.6 1924.2,88.7 1927.4,88.7C1930.6,88.7 1933.8,87.8 1936.9,85.9C1940.1,84 1943.2,80.6 1946.3,77.4C1949.4,74.2 1952.4,69.8 1955.7,67C1959,64.2 1962.9,61 1966,60.5C1969.1,60 1971.5,61.9 1974.5,64.2C1977.5,66.5 1980.8,71.3 1983.9,74.6C1987,77.9 1990.2,81.2 1993.3,84C1996.4,86.8 1999.4,89.8 2002.7,91.5C2006,93.2 2010,94.5 2013.1,94.3C2016.2,94.1 2018.2,91.7 2021.5,90.6C2024.8,89.5 2029,87.9 2032.8,87.7C2036.6,87.5 2040.8,88.6 2044.1,89.6C2047.4,90.5 2050,92.2 2052.6,93.4C2055.2,94.6 2058.7,96.1 2059.9,96.7L2067.5,96.7C2066.3,96.1 2062.8,94.6 2060.2,93.4C2057.6,92.2 2055,90.5 2051.7,89.6C2048.4,88.6 2044.2,87.5 2040.4,87.7C2036.6,87.9 2032.4,89.5 2029.1,90.6C2025.8,91.7 2023.8,94.1 2020.7,94.3C2017.6,94.5 2013.6,93.2 2010.3,91.5C2007,89.8 2004,86.8 2000.9,84C1997.8,81.2 1994.6,77.9 1991.5,74.6C1988.4,71.3 1985.1,66.5 1982.1,64.2C1979.1,61.9 1976.7,60 1973.6,60.5C1970.5,61 1966.6,64.2 1963.3,67C1960,69.8 1957,74.2 1953.9,77.4C1950.8,80.6 1947.7,84 1944.5,85.9C1941.3,87.8 1938.2,88.7 1935,88.7C1931.8,88.7 1928.7,86.6 1925.6,85.9C1922.5,85.2 1919.3,84.4 1916.2,84.4C1913.1,84.4 1909.6,84.1 1906.8,85.9C1904,87.7 1901.8,90.9 1899.3,95.3C1896.8,99.7 1894.6,104.7 1891.8,112.2C1889,119.7 1885.4,130.1 1882.4,140.4C1879.4,150.8 1876.7,161.4 1873.9,174.3C1871.1,187.2 1868.1,202.5 1865.4,217.6C1862.7,232.7 1860,252.5 1857.9,264.6C1855.8,276.7 1855.3,277.2 1853,290C1850.6,302.8 1846.6,324.3 1844,341.4C1841.3,358.6 1839.4,375.7 1837,392.9C1834.7,410 1832.3,427.2 1829.8,444.3C1827.3,461.4 1824.2,478.6 1822.1,495.7C1820,512.9 1818.9,530 1817,547.2C1815,564.3 1812.6,581.5 1810.5,598.6C1808.5,615.8 1806.6,633.2 1804.6,650C1802.6,666.9 1799.6,689.3 1798.4,699.9C1797.3,710.6 1799.1,704.5 1797.9,714C1796.6,723.4 1793.3,742.3 1791.1,756.4C1788.8,770.6 1786.3,786.1 1784.3,798.9C1782.2,811.6 1780.6,821.5 1778.8,832.8C1777.1,844.2 1775.3,855.5 1773.6,866.8C1771.8,878.1 1770.2,890 1768.5,900.8C1766.8,911.5 1765.1,920.5 1763.4,931.3C1761.6,942.1 1759.7,955 1758,965.5C1756.2,976 1754.6,985 1752.9,994.3C1751.2,1003.7 1749.5,1012.5 1747.8,1021.5C1746.1,1030.6 1744.4,1039.9 1742.7,1048.7C1741,1057.5 1739.3,1066.2 1737.6,1074.2C1735.9,1082.1 1734.2,1089.2 1732.5,1096.2C1730.8,1103.3 1729.1,1110.1 1727.4,1116.6C1725.7,1123.1 1724,1129.1 1722.3,1135.3C1720.6,1141.5 1718.9,1148 1717.2,1154C1715.5,1159.9 1714.4,1164.1 1712.1,1170.9C1709.8,1177.8 1705.9,1188.7 1703.6,1195.3C1701.3,1201.9 1700.2,1205.5 1698.5,1210.6C1696.8,1215.7 1695.1,1221 1693.4,1225.8C1691.7,1230.7 1690,1234.9 1688.3,1239.4C1686.6,1244 1685.2,1248.2 1683.2,1253C1681.3,1257.8 1678.7,1263.5 1676.4,1268.3C1674.2,1273.1 1671.9,1277.6 1669.6,1281.9C1667.4,1286.1 1665.4,1289.8 1662.9,1293.8C1660.3,1297.7 1657.2,1301.7 1654.4,1305.7C1651.5,1309.6 1648.4,1314.2 1645.9,1317.5C1643.3,1320.9 1641.1,1323.8 1639.1,1326C1637.1,1328.3 1636,1329.6 1634,1331.1C1632,1332.7 1630,1334.3 1627.2,1335.4C1624.4,1336.5 1620.4,1337.3 1617,1337.6C1613.6,1337.9 1610.2,1337.6 1606.8,1337.1C1603.4,1336.6 1601.2,1335.1 1596.6,1334.5C1592.1,1334 1585.3,1333.8 1579.6,1333.7C1574,1333.5 1568.3,1333.9 1562.7,1333.7C1557,1333.5 1551.3,1333.3 1545.7,1332.5C1540,1331.6 1534.4,1329.5 1528.7,1328.6C1523,1327.7 1517.4,1327.3 1511.7,1326.9C1506.1,1326.5 1500.4,1326.5 1494.7,1326.4C1489.1,1326.2 1483.4,1326.2 1477.8,1326C1472.1,1325.9 1466.4,1325.7 1460.8,1325.5C1455.1,1325.4 1450.7,1325.3 1443.8,1325.2C1436.9,1325.1 1426.8,1325.1 1419.6,1324.7C1412.5,1324.3 1408,1323.2 1400.8,1322.8C1393.5,1322.5 1384.4,1322.6 1376.3,1322.5C1368.1,1322.3 1357.7,1322.4 1351.7,1321.9C1345.7,1321.4 1344.2,1319.8 1340.4,1319.6C1336.6,1319.5 1334.1,1320.6 1329.1,1320.9C1324.1,1321.3 1318.1,1321.7 1310.2,1321.9C1302.4,1322 1291.3,1321.9 1281.9,1321.9C1272.5,1321.9 1261.5,1321.6 1253.6,1321.9C1245.7,1322.2 1241,1323.5 1234.7,1323.8C1228.5,1324 1223.7,1323.6 1215.9,1323.4C1208,1323.2 1197,1322.8 1187.6,1322.8C1178.1,1322.9 1168.7,1323.8 1159.3,1323.8C1149.8,1323.8 1140.4,1323 1131,1322.8C1121.5,1322.7 1110.5,1323.4 1102.7,1322.8C1094.8,1322.3 1089.1,1319.8 1083.8,1319.6C1078.5,1319.5 1076.4,1321.3 1071.2,1321.9C1065.9,1322.5 1058.6,1323.2 1052.3,1323.4C1046,1323.6 1042.9,1323 1033.4,1322.8C1024,1322.7 1008.3,1322.5 995.7,1322.5C983.1,1322.4 970.5,1322.5 958,1322.5C945.4,1322.5 929.6,1322.3 920.2,1322.5C910.8,1322.6 907.6,1323.1 901.3,1323.4C895.1,1323.7 888.8,1324.2 882.5,1324.2C876.2,1324.1 869.9,1323.2 863.6,1322.8C857.3,1322.5 851,1321.8 844.7,1321.9C838.5,1322 832.2,1323 825.9,1323.4C819.6,1323.8 813.3,1324.2 807,1324.2C800.7,1324.1 794.4,1323.4 788.1,1322.8C781.9,1322.3 775.6,1321.6 769.3,1320.9C763,1320.3 756.7,1319.8 750.4,1319.1C744.1,1318.3 737.8,1317 731.5,1316.2C725.2,1315.4 719,1313.9 712.7,1314.3C706.4,1314.8 699.1,1318.3 693.8,1319.1C688.5,1319.8 686.4,1318.6 681.2,1319.1C675.9,1319.5 668.6,1321.3 662.3,1321.9C656,1322.5 649.7,1322.8 643.4,1322.8C637.1,1322.8 630.8,1322.4 624.6,1321.9C618.3,1321.4 612,1320.8 605.7,1320C599.4,1319.2 593.1,1317.9 586.8,1317.2C580.5,1316.4 574.2,1316.2 568,1315.7C561.7,1315.1 555.4,1314.3 549.1,1314C542.8,1313.6 536.5,1313.4 530.2,1313.4C523.9,1313.4 517.6,1313.5 511.3,1313.8C505.1,1314.1 498.8,1314.9 492.5,1315.3C486.2,1315.6 479.9,1315.4 473.6,1315.8C467.3,1316.3 462.6,1317.2 454.7,1317.7C446.9,1318.3 435.9,1318.9 426.4,1319.1C417,1319.2 406,1318.8 398.1,1318.5C390.3,1318.2 385.6,1317.5 379.3,1317.2C373,1316.9 366.7,1316.3 360.4,1316.8C354.1,1317.3 347.2,1318.8 341.5,1320C335.9,1321.2 331.2,1322.4 326.4,1323.8C321.7,1325.2 316.7,1327.3 313.2,1328.5C309.8,1329.7 307,1330.7 305.7,1331.2Z"/></g>
<g fill="#900000"><path d="M301.5,1290.2C302.9,1290 305,1289.6 309.4,1288.8C313.9,1288.1 322,1286.5 328.3,1285.6C334.6,1284.8 340.9,1283.9 347.2,1283.6C353.5,1283.2 360.4,1283.2 366,1283.6C371.7,1283.9 375.8,1285.5 381.1,1285.6C386.5,1285.7 392.1,1284.7 398.1,1284.1C404.1,1283.6 411.3,1282.5 417,1282.2C422.6,1282 426.4,1282.1 432.1,1282.6C437.7,1283.1 444.7,1284.9 450.9,1285.4C457.2,1285.9 463.5,1285.8 469.8,1285.6C476.1,1285.5 482.4,1285.2 488.7,1284.5C495,1283.8 501.3,1282.5 507.5,1281.7C513.8,1280.8 520.1,1280.2 526.4,1279.4C532.7,1278.6 539,1277.7 545.3,1277C551.6,1276.2 557.9,1275.1 564.2,1274.7C570.4,1274.3 573.6,1274.6 583,1274.7C592.5,1274.8 608.2,1275 620.8,1275.1C633.3,1275.1 649.1,1275.2 658.5,1275.1C667.9,1274.9 672.1,1274.7 677.4,1274.3C682.6,1273.9 684.7,1273.1 690,1272.8C695.3,1272.5 702.6,1272.6 708.9,1272.4C715.2,1272.2 721.4,1271.3 727.7,1271.5C734,1271.7 740.3,1273 746.6,1273.7C752.9,1274.5 759.2,1275.9 765.5,1276.2C771.8,1276.5 778.7,1276.1 784.3,1275.6C790,1275.2 794.4,1273.7 799.4,1273.4C804.5,1273 809.5,1272.9 814.5,1273.4C819.6,1273.8 823.6,1275.7 829.6,1276.2C835.6,1276.7 843.8,1276.7 850.4,1276.6C857,1276.5 863,1276.2 869.2,1275.6C875.5,1275.1 882.5,1273.7 888.1,1273.4C893.8,1273 898.5,1273 903.2,1273.4C907.9,1273.7 911.7,1274.7 916.4,1275.6C921.1,1276.6 926.2,1278.5 931.5,1279C936.9,1279.6 943.5,1279.5 948.5,1279C953.5,1278.6 957,1276.7 961.7,1276.2C966.4,1275.7 971.8,1275.9 976.8,1276.2C981.8,1276.5 984.7,1277.8 991.9,1278.1C999.1,1278.4 1012.3,1277.9 1020.2,1278.1C1028.1,1278.3 1032.8,1279.5 1039.1,1279.4C1045.3,1279.3 1051.1,1278 1057.9,1277.5C1064.7,1277 1073.2,1276.8 1080,1276.6C1086.8,1276.4 1094.2,1276.8 1098.9,1276.2C1103.6,1275.6 1103.6,1273.4 1108.3,1272.8C1113,1272.2 1121.2,1272.6 1127.2,1272.4C1133.1,1272.2 1139.7,1270.9 1144.2,1271.5C1148.6,1272.1 1150.1,1275.6 1153.6,1276.2C1157,1276.8 1160.2,1275.3 1164.9,1275.3C1169.6,1275.3 1176.5,1276.8 1181.9,1276.2C1187.2,1275.6 1191.9,1272.6 1197,1271.9C1202,1271.1 1207.4,1272.1 1212.1,1271.9C1216.8,1271.6 1220.6,1270.4 1225.3,1270.4C1230,1270.3 1235,1270.8 1240.4,1271.5C1245.7,1272.2 1252,1274.5 1257.4,1274.7C1262.7,1274.9 1267.4,1273.2 1272.5,1272.8C1277.5,1272.4 1282.5,1273 1287.5,1272.4C1292.6,1271.9 1297.6,1269.8 1302.6,1269.6C1307.7,1269.4 1313.3,1271.6 1317.7,1271.5C1322.1,1271.4 1325.3,1268.8 1329.1,1269C1332.8,1269.3 1336.9,1271.9 1340.4,1272.8C1343.8,1273.7 1346,1275 1349.8,1274.7C1353.6,1274.4 1358.6,1272.3 1363,1270.9C1367.4,1269.5 1371.5,1267.2 1376.2,1266.2C1380.9,1265.2 1386.6,1265.2 1391.3,1264.9C1396,1264.6 1399.8,1264.3 1404.5,1264.3C1409.2,1264.3 1413.7,1264.6 1419.6,1264.9C1425.5,1265.2 1435.2,1265.7 1440,1266.2C1444.8,1266.7 1445.4,1268.2 1448.5,1267.9C1451.6,1267.6 1455,1265.9 1458.7,1264.5C1462.4,1263.1 1466.6,1262 1470.6,1259.4C1474.5,1256.9 1478.5,1251.5 1482.5,1249.2C1486.4,1247 1490.1,1246.7 1494.3,1245.8C1498.6,1245 1503.7,1244.5 1507.9,1244.1C1512.2,1243.7 1516.1,1243.8 1519.8,1243.3C1523.5,1242.7 1526.6,1242.6 1530,1240.7C1533.4,1238.9 1536.8,1235.1 1540.2,1232.2C1543.6,1229.4 1547,1226.4 1550.4,1223.7C1553.8,1221.1 1557.2,1217.9 1560.6,1216.1C1564,1214.3 1567.1,1213.6 1570.8,1212.7C1574.4,1211.9 1578.7,1211.4 1582.6,1211C1586.6,1210.6 1590.6,1210.9 1594.5,1210.2C1598.5,1209.5 1602.5,1208 1606.4,1206.8C1610.4,1205.5 1614.6,1203.9 1618.3,1202.5C1622,1201.1 1625.7,1199.2 1628.5,1198.3C1631.3,1197.3 1632.7,1196.6 1635.3,1196.9C1637.8,1197.2 1640.9,1198.3 1643.8,1200C1646.6,1201.6 1649.4,1204.2 1652.3,1206.8C1655.1,1209.3 1657.9,1212.4 1660.8,1215.3C1663.6,1218.1 1666.4,1221.1 1669.2,1223.7C1672.1,1226.4 1674.9,1229.4 1677.7,1231.4C1680.6,1233.4 1683.4,1234.2 1686.2,1235.6C1689.1,1237 1691.6,1238.5 1694.7,1239.9C1697.8,1241.3 1701.5,1242.7 1704.9,1244.1C1708.3,1245.5 1711.7,1246.7 1715.1,1248.4C1718.5,1250.1 1722.2,1252.3 1725.3,1254.3C1728.4,1256.3 1730.9,1258 1733.8,1260.3C1736.6,1262.5 1739.4,1267.2 1742.3,1267.9C1745.1,1268.6 1747.8,1265.6 1750.8,1264.5C1753.7,1263.4 1757.5,1262 1760,1261.1C1762.5,1260.2 1763.7,1258.6 1765.9,1259.1C1768.2,1259.6 1770.9,1263.6 1773.6,1264.2C1776.3,1264.7 1778.7,1262.4 1782.1,1262.5C1785.5,1262.6 1790.3,1264.8 1794,1264.8C1797.6,1264.9 1800.8,1262.9 1804.2,1262.8C1807.5,1262.7 1810.4,1264.1 1814.3,1264.5C1818.3,1264.9 1822.8,1265.4 1827.9,1265.4C1833,1265.3 1839.2,1264.3 1844.9,1264.2C1850.6,1264 1856.2,1264.4 1861.9,1264.5C1867.5,1264.6 1874.6,1265.1 1878.9,1264.8C1883.1,1264.6 1884.5,1262.9 1887.4,1262.8C1890.2,1262.7 1891.6,1264.2 1895.8,1264.5C1900.1,1264.8 1907.2,1264.9 1912.8,1264.8C1918.5,1264.8 1924.2,1264.1 1929.8,1264.2C1935.5,1264.2 1941.1,1265.4 1946.8,1265.4C1952.5,1265.4 1958.1,1264.2 1963.8,1264.2C1969.4,1264.2 1975.1,1265.3 1980.8,1265.4C1986.4,1265.4 1992.1,1264.8 1997.7,1264.5C2003.4,1264.2 2009.1,1263.9 2014.7,1263.7C2020.4,1263.4 2024.6,1263.2 2031.7,1263.1C2038.8,1263.1 2051.6,1263.1 2057.2,1263.1C2062.7,1263.1 2063.8,1263.1 2065.2,1263.1L2065.2,1270.7C2063.8,1270.7 2062.7,1270.7 2057.2,1270.7C2051.6,1270.7 2038.8,1270.7 2031.7,1270.7C2024.6,1270.8 2020.4,1271 2014.7,1271.3C2009.1,1271.5 2003.4,1271.8 1997.7,1272.1C1992.1,1272.4 1986.4,1273 1980.8,1273C1975.1,1272.9 1969.4,1271.8 1963.8,1271.8C1958.1,1271.8 1952.5,1273 1946.8,1273C1941.1,1273 1935.5,1271.8 1929.8,1271.8C1924.2,1271.7 1918.5,1272.4 1912.8,1272.4C1907.2,1272.5 1900.1,1272.4 1895.8,1272.1C1891.6,1271.8 1890.2,1270.3 1887.4,1270.4C1884.5,1270.5 1883.1,1272.2 1878.9,1272.4C1874.6,1272.7 1867.5,1272.2 1861.9,1272.1C1856.2,1272 1850.6,1271.6 1844.9,1271.8C1839.2,1271.9 1833,1272.9 1827.9,1273C1822.8,1273 1818.3,1272.5 1814.3,1272.1C1810.4,1271.7 1807.5,1270.3 1804.2,1270.4C1800.8,1270.5 1797.6,1272.5 1794,1272.4C1790.3,1272.4 1785.5,1270.2 1782.1,1270.1C1778.7,1270 1776.3,1272.3 1773.6,1271.8C1770.9,1271.2 1768.2,1267.2 1765.9,1266.7C1763.7,1266.2 1762.5,1267.8 1760,1268.7C1757.5,1269.6 1753.7,1271 1750.8,1272.1C1747.8,1273.2 1745.1,1276.2 1742.3,1275.5C1739.4,1274.8 1736.6,1270.1 1733.8,1267.9C1730.9,1265.6 1728.4,1263.9 1725.3,1261.9C1722.2,1259.9 1718.5,1257.7 1715.1,1256C1711.7,1254.3 1708.3,1253.1 1704.9,1251.7C1701.5,1250.3 1697.8,1248.9 1694.7,1247.5C1691.6,1246.1 1689.1,1244.6 1686.2,1243.2C1683.4,1241.8 1680.6,1241 1677.7,1239C1674.9,1237 1672.1,1234 1669.2,1231.3C1666.4,1228.7 1663.6,1225.7 1660.8,1222.9C1657.9,1220 1655.1,1216.9 1652.3,1214.4C1649.4,1211.8 1646.6,1209.2 1643.8,1207.6C1640.9,1205.9 1637.8,1204.8 1635.3,1204.5C1632.7,1204.2 1631.3,1204.9 1628.5,1205.9C1625.7,1206.8 1622,1208.7 1618.3,1210.1C1614.6,1211.5 1610.4,1213.1 1606.4,1214.4C1602.5,1215.6 1598.5,1217.1 1594.5,1217.8C1590.6,1218.5 1586.6,1218.2 1582.6,1218.6C1578.7,1219 1574.4,1219.5 1570.8,1220.3C1567.1,1221.2 1564,1221.9 1560.6,1223.7C1557.2,1225.5 1553.8,1228.7 1550.4,1231.3C1547,1234 1543.6,1237 1540.2,1239.8C1536.8,1242.7 1533.4,1246.5 1530,1248.3C1526.6,1250.2 1523.5,1250.3 1519.8,1250.9C1516.1,1251.4 1512.2,1251.3 1507.9,1251.7C1503.7,1252.1 1498.6,1252.6 1494.3,1253.4C1490.1,1254.3 1486.4,1254.6 1482.5,1256.8C1478.5,1259.1 1474.5,1264.5 1470.6,1267C1466.6,1269.6 1462.4,1270.7 1458.7,1272.1C1455,1273.5 1451.6,1275.2 1448.5,1275.5C1445.4,1275.8 1444.8,1274.3 1440,1273.8C1435.2,1273.3 1425.5,1272.8 1419.6,1272.5C1413.7,1272.2 1409.2,1271.9 1404.5,1271.9C1399.8,1271.9 1396,1272.2 1391.3,1272.5C1386.6,1272.8 1380.9,1272.8 1376.2,1273.8C1371.5,1274.8 1367.4,1277.1 1363,1278.5C1358.6,1279.9 1353.6,1282 1349.8,1282.3C1346,1282.6 1343.8,1281.3 1340.4,1280.4C1336.9,1279.5 1332.8,1276.9 1329.1,1276.6C1325.3,1276.4 1322.1,1279 1317.7,1279.1C1313.3,1279.2 1307.7,1277 1302.6,1277.2C1297.6,1277.4 1292.6,1279.5 1287.5,1280C1282.5,1280.6 1277.5,1280 1272.5,1280.4C1267.4,1280.8 1262.7,1282.5 1257.4,1282.3C1252,1282.1 1245.7,1279.8 1240.4,1279.1C1235,1278.4 1230,1277.9 1225.3,1278C1220.6,1278 1216.8,1279.2 1212.1,1279.5C1207.4,1279.7 1202,1278.7 1197,1279.5C1191.9,1280.2 1187.2,1283.2 1181.9,1283.8C1176.5,1284.4 1169.6,1282.9 1164.9,1282.9C1160.2,1282.9 1157,1284.4 1153.6,1283.8C1150.1,1283.2 1148.6,1279.7 1144.2,1279.1C1139.7,1278.5 1133.1,1279.8 1127.2,1280C1121.2,1280.2 1113,1279.8 1108.3,1280.4C1103.6,1281 1103.6,1283.2 1098.9,1283.8C1094.2,1284.4 1086.8,1284 1080,1284.2C1073.2,1284.4 1064.7,1284.6 1057.9,1285.1C1051.1,1285.6 1045.3,1286.9 1039.1,1287C1032.8,1287.1 1028.1,1285.9 1020.2,1285.7C1012.3,1285.5 999.1,1286 991.9,1285.7C984.7,1285.4 981.8,1284.1 976.8,1283.8C971.8,1283.5 966.4,1283.3 961.7,1283.8C957,1284.3 953.5,1286.2 948.5,1286.6C943.5,1287.1 936.9,1287.2 931.5,1286.6C926.2,1286.1 921.1,1284.2 916.4,1283.2C911.7,1282.3 907.9,1281.3 903.2,1281C898.5,1280.6 893.8,1280.6 888.1,1281C882.5,1281.3 875.5,1282.7 869.2,1283.2C863,1283.8 857,1284.1 850.4,1284.2C843.8,1284.3 835.6,1284.3 829.6,1283.8C823.6,1283.3 819.6,1281.4 814.5,1281C809.5,1280.5 804.5,1280.6 799.4,1281C794.4,1281.3 790,1282.8 784.3,1283.2C778.7,1283.7 771.8,1284.1 765.5,1283.8C759.2,1283.5 752.9,1282.1 746.6,1281.3C740.3,1280.6 734,1279.3 727.7,1279.1C721.4,1278.9 715.2,1279.8 708.9,1280C702.6,1280.2 695.3,1280.1 690,1280.4C684.7,1280.7 682.6,1281.5 677.4,1281.9C672.1,1282.3 667.9,1282.5 658.5,1282.7C649.1,1282.8 633.3,1282.7 620.8,1282.7C608.2,1282.6 592.5,1282.4 583,1282.3C573.6,1282.2 570.4,1281.9 564.2,1282.3C557.9,1282.7 551.6,1283.8 545.3,1284.6C539,1285.3 532.7,1286.2 526.4,1287C520.1,1287.8 513.8,1288.4 507.5,1289.3C501.3,1290.1 495,1291.4 488.7,1292.1C482.4,1292.8 476.1,1293.1 469.8,1293.2C463.5,1293.4 457.2,1293.5 450.9,1293C444.7,1292.5 437.7,1290.7 432.1,1290.2C426.4,1289.7 422.6,1289.6 417,1289.8C411.3,1290.1 404.1,1291.2 398.1,1291.7C392.1,1292.3 386.5,1293.3 381.1,1293.2C375.8,1293.1 371.7,1291.5 366,1291.2C360.4,1290.8 353.5,1290.8 347.2,1291.2C340.9,1291.5 334.6,1292.4 328.3,1293.2C322,1294.1 313.9,1295.7 309.4,1296.4C305,1297.2 302.9,1297.6 301.5,1297.8Z"/><path d="M297.7,1294C299.1,1293.8 301.2,1293.4 305.6,1292.6C310.1,1291.9 318.2,1290.3 324.5,1289.4C330.8,1288.6 337.1,1287.7 343.4,1287.4C349.7,1287 356.6,1287 362.2,1287.4C367.9,1287.7 372,1289.3 377.3,1289.4C382.7,1289.5 388.3,1288.5 394.3,1287.9C400.3,1287.4 407.5,1286.3 413.2,1286C418.8,1285.8 422.6,1285.9 428.3,1286.4C433.9,1286.9 440.9,1288.7 447.1,1289.2C453.4,1289.7 459.7,1289.6 466,1289.4C472.3,1289.3 478.6,1289 484.9,1288.3C491.2,1287.6 497.5,1286.3 503.7,1285.5C510,1284.6 516.3,1284 522.6,1283.2C528.9,1282.4 535.2,1281.5 541.5,1280.8C547.8,1280 554.1,1278.9 560.4,1278.5C566.6,1278.1 569.8,1278.4 579.2,1278.5C588.7,1278.6 604.4,1278.8 617,1278.9C629.5,1278.9 645.3,1279 654.7,1278.9C664.1,1278.7 668.3,1278.5 673.6,1278.1C678.8,1277.7 680.9,1276.9 686.2,1276.6C691.5,1276.3 698.8,1276.4 705.1,1276.2C711.4,1276 717.6,1275.1 723.9,1275.3C730.2,1275.5 736.5,1276.8 742.8,1277.5C749.1,1278.3 755.4,1279.7 761.7,1280C768,1280.3 774.9,1279.9 780.5,1279.4C786.2,1279 790.6,1277.5 795.6,1277.2C800.7,1276.8 805.7,1276.7 810.7,1277.2C815.8,1277.6 819.8,1279.5 825.8,1280C831.8,1280.5 840,1280.5 846.6,1280.4C853.2,1280.3 859.2,1280 865.4,1279.4C871.7,1278.9 878.7,1277.5 884.3,1277.2C890,1276.8 894.7,1276.8 899.4,1277.2C904.1,1277.5 907.9,1278.5 912.6,1279.4C917.3,1280.4 922.4,1282.3 927.7,1282.8C933.1,1283.4 939.7,1283.3 944.7,1282.8C949.7,1282.4 953.2,1280.5 957.9,1280C962.6,1279.5 968,1279.7 973,1280C978,1280.3 980.9,1281.6 988.1,1281.9C995.3,1282.2 1008.5,1281.7 1016.4,1281.9C1024.3,1282.1 1029,1283.3 1035.3,1283.2C1041.5,1283.1 1047.3,1281.8 1054.1,1281.3C1060.9,1280.8 1069.4,1280.6 1076.2,1280.4C1083,1280.2 1090.4,1280.6 1095.1,1280C1099.8,1279.4 1099.8,1277.2 1104.5,1276.6C1109.2,1276 1117.4,1276.4 1123.4,1276.2C1129.3,1276 1135.9,1274.7 1140.4,1275.3C1144.8,1275.9 1146.3,1279.4 1149.8,1280C1153.2,1280.6 1156.4,1279.1 1161.1,1279.1C1165.8,1279.1 1172.7,1280.6 1178.1,1280C1183.4,1279.4 1188.1,1276.4 1193.2,1275.7C1198.2,1274.9 1203.6,1275.9 1208.3,1275.7C1213,1275.4 1216.8,1274.2 1221.5,1274.2C1226.2,1274.1 1231.2,1274.6 1236.6,1275.3C1241.9,1276 1248.2,1278.3 1253.6,1278.5C1258.9,1278.7 1263.6,1277 1268.7,1276.6C1273.7,1276.2 1278.7,1276.8 1283.7,1276.2C1288.8,1275.7 1293.8,1273.6 1298.8,1273.4C1303.9,1273.2 1309.5,1275.4 1313.9,1275.3C1318.3,1275.2 1321.5,1272.6 1325.3,1272.8C1329,1273.1 1333.1,1275.7 1336.6,1276.6C1340,1277.5 1342.2,1278.8 1346,1278.5C1349.8,1278.2 1354.8,1276.1 1359.2,1274.7C1363.6,1273.3 1367.7,1271 1372.4,1270C1377.1,1269 1382.8,1269 1387.5,1268.7C1392.2,1268.4 1396,1268.1 1400.7,1268.1C1405.4,1268.1 1409.9,1268.4 1415.8,1268.7C1421.7,1269 1431.4,1269.5 1436.2,1270C1441,1270.5 1441.6,1272 1444.7,1271.7C1447.8,1271.4 1451.2,1269.7 1454.9,1268.3C1458.6,1266.9 1462.8,1265.8 1466.8,1263.2C1470.7,1260.7 1474.7,1255.3 1478.7,1253C1482.6,1250.8 1486.3,1250.5 1490.5,1249.6C1494.8,1248.8 1499.9,1248.3 1504.1,1247.9C1508.4,1247.5 1512.3,1247.6 1516,1247.1C1519.7,1246.5 1522.8,1246.4 1526.2,1244.5C1529.6,1242.7 1533,1238.9 1536.4,1236C1539.8,1233.2 1543.2,1230.2 1546.6,1227.5C1550,1224.9 1553.4,1221.7 1556.8,1219.9C1560.2,1218.1 1563.3,1217.4 1567,1216.5C1570.6,1215.7 1574.9,1215.2 1578.8,1214.8C1582.8,1214.4 1586.8,1214.7 1590.7,1214C1594.7,1213.3 1598.7,1211.8 1602.6,1210.6C1606.6,1209.3 1610.8,1207.7 1614.5,1206.3C1618.2,1204.9 1621.9,1203 1624.7,1202.1C1627.5,1201.1 1628.9,1200.4 1631.5,1200.7C1634,1201 1637.1,1202.1 1640,1203.8C1642.8,1205.4 1645.6,1208 1648.5,1210.6C1651.3,1213.1 1654.1,1216.2 1657,1219.1C1659.8,1221.9 1662.6,1224.9 1665.4,1227.5C1668.3,1230.2 1671.1,1233.2 1673.9,1235.2C1676.8,1237.2 1679.6,1238 1682.4,1239.4C1685.3,1240.8 1687.8,1242.3 1690.9,1243.7C1694,1245.1 1697.7,1246.5 1701.1,1247.9C1704.5,1249.3 1707.9,1250.5 1711.3,1252.2C1714.7,1253.9 1718.4,1256.1 1721.5,1258.1C1724.6,1260.1 1727.1,1261.8 1730,1264.1C1732.8,1266.3 1735.6,1271 1738.5,1271.7C1741.3,1272.4 1744,1269.4 1747,1268.3C1749.9,1267.2 1753.7,1265.8 1756.2,1264.9C1758.7,1264 1759.9,1262.4 1762.1,1262.9C1764.4,1263.4 1767.1,1267.4 1769.8,1268C1772.5,1268.5 1774.9,1266.2 1778.3,1266.3C1781.7,1266.4 1786.5,1268.6 1790.2,1268.6C1793.8,1268.7 1797,1266.7 1800.4,1266.6C1803.7,1266.5 1806.6,1267.9 1810.5,1268.3C1814.5,1268.7 1819,1269.2 1824.1,1269.2C1829.2,1269.1 1835.4,1268.1 1841.1,1268C1846.8,1267.8 1852.4,1268.2 1858.1,1268.3C1863.7,1268.4 1870.8,1268.9 1875.1,1268.6C1879.3,1268.4 1880.7,1266.7 1883.6,1266.6C1886.4,1266.5 1887.8,1268 1892,1268.3C1896.3,1268.6 1903.4,1268.7 1909,1268.6C1914.7,1268.6 1920.4,1267.9 1926,1268C1931.7,1268 1937.3,1269.2 1943,1269.2C1948.7,1269.2 1954.3,1268 1960,1268C1965.6,1268 1971.3,1269.1 1977,1269.2C1982.6,1269.2 1988.3,1268.6 1993.9,1268.3C1999.6,1268 2005.3,1267.7 2010.9,1267.5C2016.6,1267.2 2020.8,1267 2027.9,1266.9C2035,1266.9 2047.8,1266.9 2053.4,1266.9C2058.9,1266.9 2060,1266.9 2061.4,1266.9L2069,1266.9C2067.6,1266.9 2066.5,1266.9 2061,1266.9C2055.4,1266.9 2042.6,1266.9 2035.5,1266.9C2028.4,1267 2024.2,1267.2 2018.5,1267.5C2012.9,1267.7 2007.2,1268 2001.5,1268.3C1995.9,1268.6 1990.2,1269.2 1984.6,1269.2C1978.9,1269.1 1973.2,1268 1967.6,1268C1961.9,1268 1956.3,1269.2 1950.6,1269.2C1944.9,1269.2 1939.3,1268 1933.6,1268C1928,1267.9 1922.3,1268.6 1916.6,1268.6C1911,1268.7 1903.9,1268.6 1899.6,1268.3C1895.4,1268 1894,1266.5 1891.2,1266.6C1888.3,1266.7 1886.9,1268.4 1882.7,1268.6C1878.4,1268.9 1871.3,1268.4 1865.7,1268.3C1860,1268.2 1854.4,1267.8 1848.7,1268C1843,1268.1 1836.8,1269.1 1831.7,1269.2C1826.6,1269.2 1822.1,1268.7 1818.1,1268.3C1814.2,1267.9 1811.3,1266.5 1808,1266.6C1804.6,1266.7 1801.4,1268.7 1797.8,1268.6C1794.1,1268.6 1789.3,1266.4 1785.9,1266.3C1782.5,1266.2 1780.1,1268.5 1777.4,1268C1774.7,1267.4 1772,1263.4 1769.7,1262.9C1767.5,1262.4 1766.3,1264 1763.8,1264.9C1761.3,1265.8 1757.5,1267.2 1754.6,1268.3C1751.6,1269.4 1748.9,1272.4 1746.1,1271.7C1743.2,1271 1740.4,1266.3 1737.6,1264.1C1734.7,1261.8 1732.2,1260.1 1729.1,1258.1C1726,1256.1 1722.3,1253.9 1718.9,1252.2C1715.5,1250.5 1712.1,1249.3 1708.7,1247.9C1705.3,1246.5 1701.6,1245.1 1698.5,1243.7C1695.4,1242.3 1692.9,1240.8 1690,1239.4C1687.2,1238 1684.4,1237.2 1681.5,1235.2C1678.7,1233.2 1675.9,1230.2 1673,1227.5C1670.2,1224.9 1667.4,1221.9 1664.6,1219.1C1661.7,1216.2 1658.9,1213.1 1656.1,1210.6C1653.2,1208 1650.4,1205.4 1647.6,1203.8C1644.7,1202.1 1641.6,1201 1639.1,1200.7C1636.5,1200.4 1635.1,1201.1 1632.3,1202.1C1629.5,1203 1625.8,1204.9 1622.1,1206.3C1618.4,1207.7 1614.2,1209.3 1610.2,1210.6C1606.3,1211.8 1602.3,1213.3 1598.3,1214C1594.4,1214.7 1590.4,1214.4 1586.4,1214.8C1582.5,1215.2 1578.2,1215.7 1574.6,1216.5C1570.9,1217.4 1567.8,1218.1 1564.4,1219.9C1561,1221.7 1557.6,1224.9 1554.2,1227.5C1550.8,1230.2 1547.4,1233.2 1544,1236C1540.6,1238.9 1537.2,1242.7 1533.8,1244.5C1530.4,1246.4 1527.3,1246.5 1523.6,1247.1C1519.9,1247.6 1516,1247.5 1511.7,1247.9C1507.5,1248.3 1502.4,1248.8 1498.1,1249.6C1493.9,1250.5 1490.2,1250.8 1486.3,1253C1482.3,1255.3 1478.3,1260.7 1474.4,1263.2C1470.4,1265.8 1466.2,1266.9 1462.5,1268.3C1458.8,1269.7 1455.4,1271.4 1452.3,1271.7C1449.2,1272 1448.6,1270.5 1443.8,1270C1439,1269.5 1429.3,1269 1423.4,1268.7C1417.5,1268.4 1413,1268.1 1408.3,1268.1C1403.6,1268.1 1399.8,1268.4 1395.1,1268.7C1390.4,1269 1384.7,1269 1380,1270C1375.3,1271 1371.2,1273.3 1366.8,1274.7C1362.4,1276.1 1357.4,1278.2 1353.6,1278.5C1349.8,1278.8 1347.6,1277.5 1344.2,1276.6C1340.7,1275.7 1336.6,1273.1 1332.9,1272.8C1329.1,1272.6 1325.9,1275.2 1321.5,1275.3C1317.1,1275.4 1311.5,1273.2 1306.4,1273.4C1301.4,1273.6 1296.4,1275.7 1291.3,1276.2C1286.3,1276.8 1281.3,1276.2 1276.3,1276.6C1271.2,1277 1266.5,1278.7 1261.2,1278.5C1255.8,1278.3 1249.5,1276 1244.2,1275.3C1238.8,1274.6 1233.8,1274.1 1229.1,1274.2C1224.4,1274.2 1220.6,1275.4 1215.9,1275.7C1211.2,1275.9 1205.8,1274.9 1200.8,1275.7C1195.7,1276.4 1191,1279.4 1185.7,1280C1180.3,1280.6 1173.4,1279.1 1168.7,1279.1C1164,1279.1 1160.8,1280.6 1157.4,1280C1153.9,1279.4 1152.4,1275.9 1148,1275.3C1143.5,1274.7 1136.9,1276 1131,1276.2C1125,1276.4 1116.8,1276 1112.1,1276.6C1107.4,1277.2 1107.4,1279.4 1102.7,1280C1098,1280.6 1090.6,1280.2 1083.8,1280.4C1077,1280.6 1068.5,1280.8 1061.7,1281.3C1054.9,1281.8 1049.1,1283.1 1042.9,1283.2C1036.6,1283.3 1031.9,1282.1 1024,1281.9C1016.1,1281.7 1002.9,1282.2 995.7,1281.9C988.5,1281.6 985.6,1280.3 980.6,1280C975.6,1279.7 970.2,1279.5 965.5,1280C960.8,1280.5 957.3,1282.4 952.3,1282.8C947.3,1283.3 940.7,1283.4 935.3,1282.8C930,1282.3 924.9,1280.4 920.2,1279.4C915.5,1278.5 911.7,1277.5 907,1277.2C902.3,1276.8 897.6,1276.8 891.9,1277.2C886.3,1277.5 879.3,1278.9 873,1279.4C866.8,1280 860.8,1280.3 854.2,1280.4C847.6,1280.5 839.4,1280.5 833.4,1280C827.4,1279.5 823.4,1277.6 818.3,1277.2C813.3,1276.7 808.3,1276.8 803.2,1277.2C798.2,1277.5 793.8,1279 788.1,1279.4C782.5,1279.9 775.6,1280.3 769.3,1280C763,1279.7 756.7,1278.3 750.4,1277.5C744.1,1276.8 737.8,1275.5 731.5,1275.3C725.2,1275.1 719,1276 712.7,1276.2C706.4,1276.4 699.1,1276.3 693.8,1276.6C688.5,1276.9 686.4,1277.7 681.2,1278.1C675.9,1278.5 671.7,1278.7 662.3,1278.9C652.9,1279 637.1,1278.9 624.6,1278.9C612,1278.8 596.3,1278.6 586.8,1278.5C577.4,1278.4 574.2,1278.1 568,1278.5C561.7,1278.9 555.4,1280 549.1,1280.8C542.8,1281.5 536.5,1282.4 530.2,1283.2C523.9,1284 517.6,1284.6 511.3,1285.5C505.1,1286.3 498.8,1287.6 492.5,1288.3C486.2,1289 479.9,1289.3 473.6,1289.4C467.3,1289.6 461,1289.7 454.7,1289.2C448.5,1288.7 441.5,1286.9 435.9,1286.4C430.2,1285.9 426.4,1285.8 420.8,1286C415.1,1286.3 407.9,1287.4 401.9,1287.9C395.9,1288.5 390.3,1289.5 384.9,1289.4C379.6,1289.3 375.5,1287.7 369.8,1287.4C364.2,1287 357.3,1287 351,1287.4C344.7,1287.7 338.4,1288.6 332.1,1289.4C325.8,1290.3 317.7,1291.9 313.2,1292.6C308.8,1293.4 306.7,1293.8 305.3,1294Z"/></g>
</g>
<line x1="1455.3" y1="51" x2="1455.3" y2="1363.2" stroke="#ff00ff" stroke-width="7.4" stroke-linecap="round"/>
<line x1="1634.5" y1="51" x2="1634.5" y2="1363.2" stroke="#ff00ff" stroke-width="7.4" stroke-linecap="round"/>
<line x1="1727.9" y1="54" x2="1727.9" y2="1367.4" stroke="#ff00ff" stroke-width="7.4" stroke-linecap="round"/>
<g fill="#ff00ff" stroke="#ff00ff" stroke-width="7.4" stroke-linejoin="round"><line x1="1486.9" y1="340.6" x2="1598.5" y2="340.6"/><polygon points="1460.5,341.0 1486.9,333.4 1486.9,348.6"/><polygon points="1629.0,341.0 1598.5,333.4 1598.5,348.6"/></g>
<g fill="#ff00ff" stroke="#ff00ff" stroke-width="7.4" stroke-linejoin="round"><line x1="1671.4" y1="233.8" x2="1698.8" y2="233.8"/><polygon points="1640.0,234.20000000000002 1671.4,226.1 1671.4,242.3"/><polygon points="1731.0,234.20000000000002 1698.8,226.1 1698.8,242.3"/></g>
<line x1="1423.1" y1="153.4" x2="1680.6" y2="224.5" stroke="#000" stroke-width="4.3"/><polygon points="1387.4,143.5 1420.4,163.0 1425.7,143.7" fill="#000"/>
<line x1="1410.3" y1="282.3" x2="1517.8" y2="327.5" stroke="#000" stroke-width="4.3"/><polygon points="1376.2,267.9 1406.4,291.5 1414.2,273.0" fill="#000"/>
<line x1="1288.9" y1="903.6" x2="1511.3" y2="966.8" stroke="#000" stroke-width="4.3"/><polygon points="1253.3,893.5 1286.2,913.2 1291.6,894.0" fill="#000"/>
<line x1="1270.9" y1="1063.4" x2="1538.5" y2="1142.4" stroke="#000" stroke-width="4.3"/><polygon points="1235.4,1052.9 1268.1,1073.0 1273.7,1053.8" fill="#000"/>
<line x1="1291.5" y1="1198.7" x2="1523.2" y2="1242.8" stroke="#000" stroke-width="4.3"/><polygon points="1255.2,1191.8 1289.7,1208.5 1293.4,1188.9" fill="#000"/>
<text transform="translate(245.13,1342.06) scale(0.9740,1)" font-size="63.94">0</text>
<text transform="translate(210.56,1087.84) scale(0.9740,1)" font-size="63.94">20</text>
<text transform="translate(210.56,833.72) scale(0.9740,1)" font-size="63.94">40</text>
<text transform="translate(210.56,578.80) scale(0.9740,1)" font-size="63.94">60</text>
<text transform="translate(210.56,324.68) scale(0.9740,1)" font-size="63.94">80</text>
<text transform="translate(175.68,72.66) scale(0.9740,1)" font-size="63.94">100</text>
<text transform="translate(291.42,1441.06) scale(0.9740,1)" font-size="63.94">0</text>
<text transform="translate(653.05,1441.06) scale(0.9740,1)" font-size="63.94">200</text>
<text transform="translate(1048.57,1441.06) scale(0.9740,1)" font-size="63.94">400</text>
<text transform="translate(1442.85,1441.06) scale(0.9740,1)" font-size="63.94">600</text>
<text transform="translate(1837.91,1441.06) scale(0.9740,1)" font-size="63.94">800</text>
<text x="751.41" y="136.00" font-size="55.30" letter-spacing="0.744" >BMT-substrate interface</text>
<text x="868.14" y="256.90" font-size="64.00" letter-spacing="0.211" >PZT-BMT interface</text>
<text transform="translate(1881.27,270.60) scale(1.0016,1)" font-size="68.00">Pt</text>
<text transform="translate(491.01,645.60) scale(1.0718,1)" font-size="68.00">Zr</text>
<text transform="translate(502.63,838.50) scale(0.9903,1)" font-size="68.00">Ti</text>
<text transform="translate(1157.27,910.40) scale(0.9788,1)" font-size="68.00">Ba</text>
<text transform="translate(1156.42,1055.30) scale(1.0024,1)" font-size="68.00">Ta</text>
<text transform="translate(1162.52,1206.10) scale(0.9912,1)" font-size="68.00">Mg</text>
<text x="1016.24" y="1557.90" font-size="65.50" letter-spacing="1.880" >Depth (nm)</text>
<text transform="translate(81.70,1099.10) rotate(-90)" font-size="71.80" letter-spacing="-0.514">Atomic concentration (%)</text>
</svg></body></html>
